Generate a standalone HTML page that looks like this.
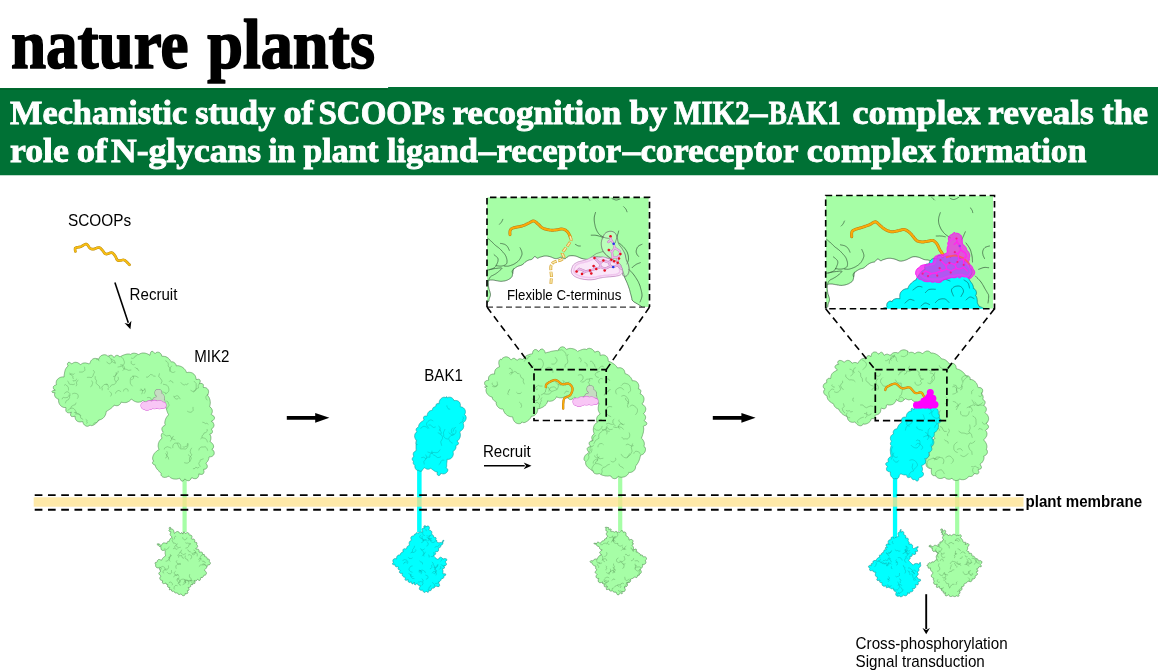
<!DOCTYPE html>
<html><head><meta charset="utf-8"><title>nature plants</title>
<style>
html,body{margin:0;padding:0;background:#fff;}
body{width:1158px;height:672px;overflow:hidden;position:relative;font-family:"Liberation Sans",sans-serif;}
svg{position:absolute;left:0;top:0;display:block;will-change:transform}
svg text{font-family:"Liberation Sans",sans-serif;fill:#000}
svg text.ser{font-family:"Liberation Serif",serif;font-weight:bold}
</style></head><body>
<svg width="1158" height="672" viewBox="0 0 1158 672">
<rect width="1158" height="672" fill="#fff"/>
<g font-size="70.500" style="stroke:#000;stroke-width:1.7px;stroke-linejoin:round"><text class="ser" x="11" y="67.600" textLength="177.5" lengthAdjust="spacingAndGlyphs">nature</text><text class="ser" x="207.2" y="67.600" textLength="167.8" lengthAdjust="spacingAndGlyphs">plants</text></g>
<path d="M0 88 H388.1 V86.9 H1158 V175.300 H0Z" fill="#007135"/><rect x="0" y="88.600" width="387.5" height="1.2" fill="#00622a"/>
<g style="fill:#fff;stroke:#fff;stroke-width:0.9px" font-size="34">
<text class="ser" x="10.0" y="123.5" textLength="177.3" lengthAdjust="spacingAndGlyphs" style="fill:#fff">Mechanistic</text>
<text class="ser" x="195.2" y="123.5" textLength="80.1" lengthAdjust="spacingAndGlyphs" style="fill:#fff">study</text>
<text class="ser" x="283.5" y="123.5" textLength="30.1" lengthAdjust="spacingAndGlyphs" style="fill:#fff">of</text>
<text class="ser" x="318.5" y="123.5" textLength="126.4" lengthAdjust="spacingAndGlyphs" style="fill:#fff">SCOOPs</text>
<text class="ser" x="452.4" y="123.5" textLength="168.9" lengthAdjust="spacingAndGlyphs" style="fill:#fff">recognition</text>
<text class="ser" x="629.5" y="123.5" textLength="37.6" lengthAdjust="spacingAndGlyphs" style="fill:#fff">by</text>
<text class="ser" x="674.0" y="123.5" textLength="75.6" lengthAdjust="spacingAndGlyphs" style="fill:#fff">MIK2</text>
<text class="ser" x="750.0" y="123.5" textLength="17.4" lengthAdjust="spacingAndGlyphs" style="fill:#fff">–</text>
<text class="ser" x="768.7" y="123.5" textLength="72.2" lengthAdjust="spacingAndGlyphs" style="fill:#fff">BAK1</text>
<text class="ser" x="852.5" y="123.5" textLength="128.1" lengthAdjust="spacingAndGlyphs" style="fill:#fff">complex</text>
<text class="ser" x="988.0" y="123.5" textLength="105.9" lengthAdjust="spacingAndGlyphs" style="fill:#fff">reveals</text>
<text class="ser" x="1102.2" y="123.5" textLength="45.9" lengthAdjust="spacingAndGlyphs" style="fill:#fff">the</text>
<text class="ser" x="10.0" y="162.2" textLength="58.9" lengthAdjust="spacingAndGlyphs" style="fill:#fff">role</text>
<text class="ser" x="76.7" y="162.2" textLength="30.6" lengthAdjust="spacingAndGlyphs" style="fill:#fff">of</text>
<text class="ser" x="111.0" y="162.2" textLength="150.1" lengthAdjust="spacingAndGlyphs" style="fill:#fff">N-glycans</text>
<text class="ser" x="268.5" y="162.2" textLength="26.8" lengthAdjust="spacingAndGlyphs" style="fill:#fff">in</text>
<text class="ser" x="303.5" y="162.2" textLength="75.1" lengthAdjust="spacingAndGlyphs" style="fill:#fff">plant</text>
<text class="ser" x="387.0" y="162.2" textLength="90.9" lengthAdjust="spacingAndGlyphs" style="fill:#fff">ligand</text>
<text class="ser" x="478.7" y="162.2" textLength="17.4" lengthAdjust="spacingAndGlyphs" style="fill:#fff">–</text>
<text class="ser" x="496.5" y="162.2" textLength="124.8" lengthAdjust="spacingAndGlyphs" style="fill:#fff">receptor</text>
<text class="ser" x="622.7" y="162.2" textLength="17.4" lengthAdjust="spacingAndGlyphs" style="fill:#fff">–</text>
<text class="ser" x="640.4" y="162.2" textLength="158.0" lengthAdjust="spacingAndGlyphs" style="fill:#fff">coreceptor</text>
<text class="ser" x="806.7" y="162.2" textLength="129.2" lengthAdjust="spacingAndGlyphs" style="fill:#fff">complex</text>
<text class="ser" x="942.5" y="162.2" textLength="143.9" lengthAdjust="spacingAndGlyphs" style="fill:#fff">formation</text>
</g>
<rect x="182.5" y="478.0" width="4.2" height="54.0" fill="#a6fea6" />
<path d="M55.3 390.2 L53.9 389.3 L53.4 388.4 L53.3 387.5 L53.4 386.7 L53.9 386.0 L54.6 385.4 L55.7 385.0 L56.5 384.6 L56.2 383.5 L56.2 382.6 L56.3 381.7 L56.5 380.9 L56.9 380.1 L57.4 379.4 L58.0 378.8 L58.7 378.3 L59.4 377.8 L60.1 377.5 L60.9 377.2 L61.8 377.0 L62.8 376.9 L64.1 377.0 L64.1 375.8 L64.2 374.8 L64.4 373.9 L64.5 373.1 L64.6 372.3 L64.8 371.6 L64.9 370.9 L65.2 370.2 L65.4 369.5 L65.8 368.7 L66.3 368.0 L66.8 367.2 L67.6 366.5 L68.2 365.9 L67.6 365.0 L67.4 364.2 L67.5 363.4 L68.0 362.7 L68.8 362.3 L69.7 362.4 L70.4 362.9 L71.2 363.6 L72.0 363.8 L72.8 363.2 L73.6 362.7 L74.5 362.4 L75.3 362.3 L76.1 362.3 L76.9 362.5 L77.7 362.7 L78.4 363.1 L79.2 363.6 L79.9 364.2 L80.7 364.6 L81.6 363.9 L82.4 363.4 L83.2 363.1 L84.0 363.0 L84.8 362.9 L85.6 362.9 L86.4 363.1 L87.2 363.3 L88.1 363.6 L89.2 364.0 L89.9 363.3 L90.3 362.2 L90.7 361.3 L91.1 360.6 L91.7 359.9 L92.3 359.4 L93.0 358.9 L93.8 358.6 L94.6 358.4 L95.5 358.4 L96.4 358.5 L97.5 358.7 L98.7 359.3 L99.0 358.2 L99.5 357.4 L100.0 356.7 L100.6 356.1 L101.3 355.6 L102.0 355.3 L102.8 355.0 L103.6 354.8 L104.5 354.7 L105.3 354.8 L106.1 355.0 L106.9 355.4 L107.6 356.0 L108.3 356.5 L109.2 355.7 L110.1 355.3 L110.9 355.2 L111.7 355.3 L112.5 355.7 L113.2 356.4 L114.0 357.5 L114.9 356.4 L115.7 355.7 L116.4 355.4 L117.2 355.3 L118.1 355.6 L119.0 356.2 L120.0 357.0 L120.7 356.4 L121.5 356.0 L122.2 355.6 L123.0 355.3 L123.7 355.0 L124.5 354.7 L125.2 354.5 L126.0 354.3 L126.8 354.1 L127.6 354.0 L128.3 354.0 L129.1 354.0 L129.9 354.2 L130.7 354.5 L131.4 353.9 L132.1 353.5 L132.9 353.3 L133.7 353.2 L134.5 353.2 L135.2 353.3 L136.0 353.5 L136.8 353.7 L137.5 354.1 L138.2 354.6 L139.0 354.4 L140.0 353.8 L140.9 353.4 L141.7 353.2 L142.5 353.0 L143.3 353.0 L144.1 353.0 L144.9 353.1 L145.7 353.3 L146.4 353.5 L147.2 353.8 L148.0 354.2 L148.9 354.6 L149.9 355.3 L150.3 353.6 L150.7 352.3 L151.3 351.5 L152.2 351.3 L153.2 351.7 L154.2 352.7 L155.0 353.6 L155.8 352.8 L156.6 352.4 L157.5 352.2 L158.3 352.2 L159.1 352.5 L159.9 352.8 L160.5 353.4 L161.1 354.1 L161.5 355.0 L161.8 356.2 L162.6 356.3 L163.5 356.3 L164.4 356.4 L165.2 356.5 L166.0 356.8 L166.7 357.1 L167.4 357.5 L168.1 358.0 L168.7 358.5 L169.3 359.1 L169.8 359.7 L170.3 360.5 L170.7 361.4 L171.3 361.8 L172.3 361.8 L173.1 362.0 L173.9 362.3 L174.5 362.8 L175.1 363.3 L175.6 364.0 L176.1 364.8 L176.3 365.9 L177.4 365.7 L178.3 365.7 L179.2 365.9 L180.0 366.1 L180.8 366.4 L181.5 366.7 L182.2 367.1 L182.9 367.6 L183.5 368.1 L184.1 368.6 L184.7 369.2 L185.2 369.9 L185.7 370.6 L186.1 371.4 L186.4 372.4 L187.3 372.5 L188.4 372.3 L189.4 372.3 L190.3 372.4 L191.2 372.6 L192.0 372.9 L192.7 373.2 L193.3 373.7 L194.0 374.2 L194.5 374.8 L195.0 375.5 L195.4 376.3 L195.7 377.2 L196.0 378.2 L196.0 379.4 L197.0 379.5 L198.3 379.2 L199.2 379.4 L199.9 379.9 L200.2 380.7 L200.2 381.8 L199.5 383.6 L200.9 383.4 L202.0 383.5 L202.7 383.9 L203.2 384.5 L203.4 385.4 L203.3 386.5 L203.4 387.5 L204.7 387.5 L205.7 387.7 L206.6 388.1 L207.3 388.7 L207.8 389.3 L208.2 390.0 L208.5 390.9 L208.6 391.7 L208.5 392.7 L208.2 393.7 L207.4 394.8 L207.6 395.5 L208.2 396.2 L208.7 396.8 L209.1 397.5 L209.4 398.3 L209.7 399.0 L209.9 399.8 L210.1 400.6 L210.2 401.4 L210.3 402.2 L210.3 403.0 L210.2 403.8 L210.1 404.6 L209.9 405.5 L209.6 406.3 L210.0 407.1 L210.9 407.7 L211.5 408.5 L211.9 409.2 L212.2 410.0 L212.3 410.8 L212.3 411.6 L212.2 412.4 L211.8 413.3 L211.2 414.2 L211.7 414.9 L213.0 415.5 L213.8 416.2 L214.3 417.0 L214.5 417.8 L214.4 418.6 L213.9 419.5 L213.1 420.4 L211.3 421.3 L212.6 422.0 L213.2 422.8 L213.6 423.6 L213.9 424.4 L214.0 425.2 L213.9 426.0 L213.6 426.8 L213.1 427.6 L212.5 428.3 L211.5 428.9 L211.7 429.7 L212.3 430.7 L212.5 431.5 L212.4 432.3 L211.9 433.1 L211.1 433.7 L209.7 434.2 L210.3 435.2 L210.7 436.1 L210.9 436.9 L210.9 437.8 L210.9 438.6 L210.8 439.4 L210.5 440.3 L210.1 441.2 L210.4 442.0 L211.4 442.6 L212.1 443.2 L212.7 443.9 L213.1 444.6 L213.4 445.3 L213.6 446.1 L213.6 447.0 L213.3 447.8 L212.8 448.7 L211.8 449.4 L213.1 450.2 L213.8 451.1 L214.1 452.1 L214.2 453.0 L214.1 453.9 L213.8 454.7 L213.3 455.4 L212.6 456.0 L211.8 456.5 L210.7 456.8 L209.2 456.9 L208.9 457.6 L208.8 458.5 L208.6 459.3 L208.3 460.1 L207.9 460.8 L207.5 461.5 L206.9 462.1 L206.3 462.8 L206.1 463.6 L206.9 464.8 L207.3 465.8 L207.3 466.7 L207.1 467.5 L206.7 468.2 L206.0 468.8 L205.0 469.2 L203.6 469.3 L203.7 470.2 L204.0 471.4 L203.9 472.4 L203.6 473.3 L203.0 473.9 L202.2 474.3 L201.2 474.4 L200.0 474.2 L198.8 473.9 L198.8 475.3 L198.5 476.3 L198.0 477.1 L197.5 477.8 L196.8 478.3 L196.0 478.6 L195.1 478.7 L194.2 478.6 L193.2 478.4 L192.1 477.7 L191.4 477.9 L190.9 479.0 L190.3 479.8 L189.6 480.4 L188.8 480.7 L187.9 480.7 L187.1 480.5 L186.2 480.1 L185.4 479.3 L184.6 479.1 L183.8 480.4 L182.9 481.0 L182.1 481.2 L181.3 480.8 L180.6 480.0 L180.0 478.5 L179.2 478.3 L178.4 478.7 L177.5 478.9 L176.6 479.1 L175.8 479.1 L175.0 479.1 L174.2 479.0 L173.4 478.9 L172.7 478.7 L171.9 478.4 L171.1 478.0 L170.4 477.6 L169.7 477.1 L169.0 476.4 L168.2 476.2 L167.3 476.8 L166.4 477.2 L165.6 477.3 L164.7 477.4 L163.9 477.3 L163.1 477.1 L162.3 476.7 L161.7 476.1 L161.2 475.4 L161.0 474.5 L161.3 473.5 L160.9 473.1 L160.1 472.5 L159.5 471.9 L159.0 471.2 L158.5 470.6 L157.9 470.0 L157.4 469.5 L156.9 468.9 L156.4 468.2 L156.0 467.5 L155.6 466.7 L155.3 465.8 L155.1 464.9 L154.2 464.8 L153.5 464.4 L153.0 464.0 L152.6 463.4 L152.5 462.7 L152.6 462.1 L153.0 461.5 L153.7 461.1 L152.9 460.0 L152.7 459.1 L152.6 458.1 L152.7 457.2 L152.9 456.4 L153.2 455.6 L153.5 454.9 L153.9 454.2 L154.3 453.5 L154.8 452.9 L155.3 452.4 L155.9 451.8 L156.5 451.2 L157.3 450.6 L158.2 450.1 L159.1 449.5 L158.6 448.5 L158.4 447.6 L158.2 446.7 L158.2 445.9 L158.2 445.1 L158.3 444.3 L158.4 443.5 L158.7 442.7 L159.0 441.9 L159.3 441.2 L159.8 440.5 L160.3 439.8 L161.0 439.1 L161.8 438.5 L161.8 437.6 L161.4 436.7 L161.2 435.9 L161.3 435.1 L161.5 434.3 L161.9 433.6 L162.5 432.9 L163.3 432.2 L162.4 431.2 L162.1 430.3 L161.9 429.5 L161.9 428.6 L162.1 427.9 L162.5 427.1 L163.0 426.5 L163.8 425.9 L164.8 425.5 L165.2 424.7 L164.9 423.8 L164.8 422.9 L164.9 422.0 L165.0 421.2 L165.2 420.4 L165.4 419.7 L165.7 418.9 L166.0 418.2 L166.4 417.5 L166.9 416.8 L167.4 416.0 L168.1 415.3 L168.5 414.5 L168.0 413.6 L167.6 412.7 L167.3 411.9 L167.0 411.1 L166.8 410.4 L166.6 409.6 L166.4 408.8 L166.1 408.1 L165.8 407.3 L165.4 406.6 L164.8 405.8 L164.1 405.0 L163.3 404.3 L162.3 404.7 L161.5 404.9 L160.6 405.1 L159.8 405.2 L159.0 405.2 L158.2 405.1 L157.4 404.9 L156.6 404.7 L155.9 404.3 L155.2 404.0 L154.5 403.5 L153.8 403.1 L153.1 402.5 L152.4 401.9 L151.8 401.1 L150.8 401.8 L149.8 402.2 L149.0 402.5 L148.2 402.7 L147.4 402.7 L146.6 402.7 L145.8 402.4 L145.0 402.1 L144.2 401.6 L143.5 400.8 L142.7 400.6 L141.8 401.2 L141.0 401.7 L140.2 402.0 L139.4 402.1 L138.5 402.2 L137.7 402.2 L136.9 402.1 L136.1 401.9 L135.4 401.6 L134.6 401.3 L133.9 400.9 L133.1 400.4 L132.3 399.7 L131.4 399.1 L130.6 400.0 L129.9 400.7 L129.1 401.2 L128.4 401.6 L127.7 402.0 L127.0 402.2 L126.2 402.5 L125.4 402.6 L124.6 402.6 L123.7 402.6 L122.8 402.5 L121.8 402.2 L121.0 402.3 L120.6 403.4 L120.0 404.1 L119.4 404.8 L118.8 405.2 L118.0 405.5 L117.2 405.7 L116.3 405.7 L115.3 405.5 L114.1 405.1 L113.7 405.9 L113.1 406.5 L112.5 407.1 L111.9 407.7 L111.2 408.2 L110.6 408.7 L109.9 409.2 L109.2 409.6 L108.5 410.1 L107.7 410.6 L107.0 411.1 L106.2 411.5 L106.1 412.5 L105.9 413.4 L105.7 414.2 L105.4 415.0 L105.0 415.7 L104.6 416.4 L104.2 417.0 L103.6 417.6 L103.1 418.2 L102.4 418.6 L101.7 419.1 L101.0 419.4 L100.2 419.7 L99.3 419.8 L98.6 420.1 L98.2 420.9 L97.7 421.6 L97.2 422.2 L96.6 422.8 L96.0 423.3 L95.4 423.8 L94.7 424.3 L94.1 424.8 L93.4 425.1 L92.6 425.4 L91.9 425.6 L91.2 425.6 L90.5 425.4 L90.0 424.9 L89.2 425.8 L88.4 426.1 L87.5 426.3 L86.6 426.2 L85.8 425.9 L85.1 425.5 L84.4 425.0 L83.9 424.4 L83.4 423.6 L83.0 422.7 L82.8 421.6 L81.8 421.7 L80.7 421.9 L79.7 421.9 L78.8 421.8 L78.0 421.5 L77.3 421.2 L76.6 420.7 L76.1 420.0 L75.6 419.3 L75.3 418.4 L75.1 417.4 L75.1 416.1 L73.9 416.4 L72.6 416.6 L71.7 416.5 L71.0 416.0 L70.6 415.2 L70.6 414.0 L71.3 412.1 L69.6 412.8 L68.5 412.8 L67.5 412.6 L66.8 412.2 L66.3 411.6 L65.9 410.8 L65.8 409.8 L65.9 408.6 L65.8 407.5 L64.6 407.5 L63.7 407.4 L62.8 407.1 L62.0 406.7 L61.3 406.2 L60.7 405.7 L60.1 405.1 L59.7 404.5 L59.3 403.8 L59.0 403.0 L58.7 402.1 L58.6 401.1 L58.7 400.0 L58.6 399.1 L57.6 398.9 L56.9 398.5 L56.2 398.0 L55.6 397.4 L55.2 396.8 L54.8 396.0 L54.6 395.3 L54.5 394.4 L54.7 393.6 L55.1 392.8 L52.5 392.5 L51.9 391.6 L52.5 390.8Z" fill="#a6fea6" stroke="#4f8a4f" stroke-width="0.6" stroke-linejoin="round"/>
<path d="M146.4 377.2 Q148.5 377.8 149.2 375.8 Q150.3 373.6 152.3 374.9 Q153.3 376.5 155.2 376.3 M174.6 396.7 L174.8 396.6 L175.2 396.5 L175.5 396.3 L175.9 396.1 L176.3 395.9 L176.6 395.8 L177.0 395.7 L177.5 395.8 L177.8 395.9 L178.2 396.1 L178.5 396.4 L178.7 396.8 L179.0 397.1 L179.2 397.3 L179.5 397.7 L179.7 398.1 L179.9 398.5 L180.0 398.8 M108.6 355.2 Q109.0 358.2 111.8 359.5 Q115.4 359.7 115.4 363.3 M193.6 392.1 Q197.1 390.5 196.2 386.8 Q197.3 383.2 194.2 381.2 M202.7 422.2 Q204.4 422.2 205.3 423.6 Q207.0 422.3 208.2 424.2 M102.2 390.0 L102.2 389.6 L102.2 389.0 L102.2 388.4 L102.0 387.9 L101.8 387.5 L101.8 387.0 L102.2 386.6 L102.7 386.1 L103.2 385.7 L103.5 385.3 L103.8 384.9 L104.1 384.6 L104.5 384.5 L105.1 384.5 L105.6 384.5 L106.1 384.6 L106.7 384.6 L107.1 384.7 M72.4 393.9 L72.7 393.7 L73.3 393.5 L73.8 393.3 L74.4 393.2 L74.9 393.3 L75.5 393.4 L76.1 393.5 L76.7 393.7 L77.2 394.0 L77.6 394.3 L77.9 394.7 L78.1 395.2 L78.2 395.7 L78.2 396.3 L78.2 396.9 L78.0 397.5 L77.6 398.0 L77.4 398.4 M144.8 388.5 L144.8 388.7 L144.9 389.0 L144.9 389.3 L145.0 389.6 L145.2 389.9 L145.3 390.2 L145.3 390.5 L145.3 390.7 L145.3 391.0 L145.3 391.3 L145.3 391.6 L145.2 391.8 L145.0 392.2 L144.7 392.5 L144.5 392.8 L144.3 393.0 L144.2 393.2 L144.2 393.3 M201.9 437.5 Q201.3 435.4 203.4 434.6 Q203.6 432.3 205.9 432.5 Q208.0 431.6 207.2 429.4 M132.3 386.0 L131.8 385.4 L131.1 384.6 L130.5 383.7 L130.3 382.9 L130.3 382.0 L130.3 381.2 L130.3 380.2 L130.4 379.2 L130.6 378.3 L131.1 377.6 L131.8 376.9 L132.6 376.5 L133.6 376.2 L134.7 376.1 L135.7 376.2 L136.6 376.5 L137.5 377.1 L138.1 377.4 M99.4 420.1 Q97.8 420.0 97.5 421.7 Q96.7 423.0 95.3 422.6 Q93.8 422.7 93.3 424.1 M133.0 375.9 L133.1 376.1 L133.3 376.3 L133.4 376.5 L133.4 376.8 L133.5 377.0 L133.5 377.3 L133.5 377.6 L133.5 377.8 L133.5 378.1 L133.4 378.3 L133.3 378.5 L133.1 378.7 L132.9 378.9 L132.6 379.1 L132.4 379.3 L132.1 379.4 L131.8 379.5 L131.6 379.6 M123.5 391.1 L123.6 390.8 L123.7 390.4 L123.9 390.0 L124.1 389.6 L124.4 389.3 L124.7 389.0 L125.0 388.9 L125.4 388.8 L125.8 388.8 L126.3 388.8 L126.7 388.9 L127.1 389.0 L127.4 389.2 L127.7 389.5 L128.0 389.8 L128.1 390.3 L128.1 390.7 L128.1 391.1 M188.2 383.4 L187.9 383.8 L187.3 384.3 L186.8 384.7 L186.4 384.6 L186.0 384.4 L185.6 384.3 L185.2 384.5 L184.8 384.8 L184.3 385.0 L183.8 384.9 L183.3 384.6 L182.8 384.4 L182.5 384.1 L182.1 383.9 L181.8 383.6 L181.5 383.3 L181.2 382.9 L181.0 382.6 M172.8 447.7 L172.8 447.1 L172.8 446.2 L173.0 445.4 L173.4 444.6 L173.9 443.9 L174.5 443.4 L175.2 443.2 L175.9 443.1 L176.7 443.1 L177.5 443.1 L178.4 443.1 L179.1 443.3 L179.7 443.8 L180.2 444.5 L180.6 445.3 L180.7 446.2 L180.8 447.1 L180.8 447.7 M69.8 374.1 Q71.1 374.0 71.5 375.3 Q72.6 375.6 73.0 376.7 Q72.3 377.9 73.3 378.8 M74.3 373.8 L74.1 374.0 L73.8 374.2 L73.6 374.3 L73.3 374.3 L73.0 374.3 L72.8 374.2 L72.5 374.2 L72.2 374.1 L71.9 374.1 L71.7 374.0 L71.4 374.0 L71.1 374.0 L70.9 374.0 L70.7 374.0 L70.5 373.9 L70.2 373.7 L70.1 373.4 L69.9 373.2 M199.1 383.8 Q197.4 385.7 198.5 388.0 Q195.9 388.1 195.1 390.5 Q193.0 392.8 190.8 390.5 M70.6 408.0 Q71.1 405.9 73.2 405.3 Q75.7 405.5 76.1 403.0 M84.5 367.1 L84.6 367.4 L84.6 368.0 L84.7 368.6 L84.8 369.1 L84.9 369.7 L84.9 370.2 L84.7 370.5 L84.3 370.9 L83.9 371.2 L83.4 371.5 L82.9 371.8 L82.4 372.0 L81.9 372.1 L81.4 372.1 L81.0 372.1 L80.4 372.1 L79.8 372.1 L79.4 372.0 M80.9 415.7 Q80.0 413.6 77.7 413.8 Q76.6 411.6 74.3 412.4 M109.9 391.8 L110.1 391.9 L110.3 392.1 L110.6 392.4 L110.8 392.6 L111.1 392.9 L111.3 393.2 L111.4 393.4 L111.4 393.7 L111.4 393.9 L111.4 394.2 L111.5 394.5 L111.5 394.7 L111.4 395.0 L111.2 395.2 L111.1 395.5 L110.8 395.8 L110.6 396.1 L110.4 396.3 M147.3 397.7 L147.6 397.6 L148.0 397.5 L148.5 397.4 L148.8 397.5 L149.2 397.5 L149.6 397.6 L149.9 397.6 L150.2 397.7 L150.5 397.8 L150.7 398.1 L150.8 398.4 L150.9 398.7 L151.0 399.1 L151.2 399.4 L151.3 399.8 L151.2 400.2 L151.2 400.6 L151.1 400.8 M169.3 381.4 L169.4 381.3 L169.7 381.1 L169.9 380.9 L170.2 380.8 L170.4 380.8 L170.7 380.8 L171.0 380.9 L171.2 381.1 L171.5 381.3 L171.7 381.3 L171.9 381.4 L172.0 381.5 L172.2 381.7 L172.5 381.8 L172.6 382.0 L172.8 382.3 L172.8 382.6 L172.9 382.8 M93.2 370.3 L93.6 370.7 L94.2 371.4 L94.5 372.1 L94.3 372.7 L93.9 373.4 L93.5 374.0 L93.3 374.8 L93.1 375.5 L92.8 376.1 L92.4 376.7 L91.9 377.2 L91.4 377.5 L90.8 377.5 L90.1 377.4 L89.3 377.3 L88.6 377.3 L87.8 377.3 L87.3 377.4 M200.7 438.8 L201.1 438.5 L201.6 438.1 L202.1 437.9 L202.6 437.8 L203.1 437.9 L203.6 438.0 L204.1 438.1 L204.5 438.2 L204.9 438.4 L205.5 438.7 L206.0 439.1 L206.4 439.5 L206.6 439.8 L206.7 440.1 L206.9 440.4 L207.1 441.0 L207.3 441.6 L207.5 442.0 M134.8 364.3 L134.5 364.4 L134.2 364.6 L133.8 364.7 L133.5 364.7 L133.1 364.7 L132.8 364.6 L132.5 364.4 L132.1 364.2 L131.9 364.0 L131.6 363.8 L131.4 363.5 L131.2 363.2 L131.2 363.0 L131.2 362.6 L131.2 362.3 L131.3 361.9 L131.3 361.5 L131.3 361.3 M76.5 379.1 L76.4 379.3 L76.3 379.5 L76.2 379.8 L76.0 380.0 L75.9 380.3 L75.7 380.5 L75.5 380.6 L75.2 380.6 L75.0 380.6 L74.7 380.7 L74.5 380.7 L74.2 380.8 L74.0 380.8 L73.8 380.9 L73.5 380.9 L73.3 380.8 L73.0 380.6 L72.9 380.4 M96.5 359.6 L96.7 359.5 L96.8 359.4 L97.0 359.4 L97.2 359.4 L97.5 359.4 L97.6 359.5 L97.8 359.5 L98.0 359.7 L98.2 359.8 L98.3 359.8 L98.5 359.9 L98.7 360.0 L98.7 360.1 L98.8 360.3 L98.8 360.5 L99.0 360.7 L99.1 360.9 L99.2 361.0 M207.2 399.9 L206.9 399.8 L206.5 399.5 L206.2 399.2 L206.1 398.9 L206.1 398.5 L206.0 398.1 L205.9 397.7 L205.9 397.2 L205.9 396.8 L206.0 396.4 L206.2 396.1 L206.5 395.8 L206.8 395.4 L207.1 395.0 L207.4 394.7 L207.9 394.6 L208.4 394.7 L208.7 394.8 M137.4 354.9 Q136.7 356.3 135.2 356.0 Q135.1 357.4 133.8 357.9 Q132.7 358.9 131.4 358.2 M188.1 443.8 L188.1 444.6 L187.9 445.7 L187.7 446.7 L187.2 447.6 L186.6 448.4 L185.9 448.9 L185.0 449.1 L184.0 448.9 L183.0 448.8 L182.0 448.9 L181.0 448.9 L180.1 448.7 L179.5 448.0 L178.9 447.0 L178.5 446.1 L178.0 445.1 L177.6 444.1 L177.3 443.5 M161.2 383.6 Q163.5 380.8 160.6 378.6 Q157.3 376.8 159.3 373.7 M164.3 449.1 L164.4 448.7 L164.6 448.3 L164.8 447.9 L165.1 447.7 L165.4 447.6 L165.8 447.4 L166.3 447.2 L166.8 446.9 L167.3 446.7 L167.7 446.8 L168.2 447.0 L168.6 447.1 L169.1 447.2 L169.5 447.4 L169.9 447.5 L170.3 447.7 L170.7 448.0 L170.9 448.1 M191.6 448.1 Q188.5 451.7 192.0 454.9 Q188.3 457.2 189.8 461.3 M91.8 380.9 L91.9 381.1 L92.1 381.4 L92.2 381.7 L92.4 382.0 L92.6 382.4 L92.7 382.8 L92.7 383.1 L92.5 383.5 L92.4 383.9 L92.3 384.2 L92.2 384.6 L92.0 385.0 L91.9 385.3 L91.8 385.7 L91.6 386.1 L91.3 386.3 L90.9 386.5 L90.6 386.7 M141.0 389.1 L141.2 389.2 L141.4 389.3 L141.7 389.5 L141.9 389.7 L142.2 389.9 L142.5 390.2 L142.5 390.5 L142.5 390.8 L142.5 391.1 L142.5 391.4 L142.5 391.7 L142.4 392.0 L142.4 392.3 L142.3 392.5 L142.2 392.8 L142.1 393.1 L141.9 393.5 L141.8 393.8 M121.2 356.8 L121.7 357.2 L122.3 357.7 L122.9 358.4 L123.3 359.1 L123.6 359.8 L123.9 360.6 L124.2 361.3 L124.4 362.1 L124.4 362.9 L124.1 363.8 L123.6 364.7 L123.0 365.4 L122.3 365.9 L121.4 366.2 L120.6 366.5 L119.6 366.7 L118.7 366.9 L118.0 367.0 M64.4 385.2 L64.7 385.0 L65.1 384.7 L65.5 384.6 L65.9 384.9 L66.4 385.3 L66.8 385.8 L67.2 386.1 L67.7 386.4 L68.0 386.7 L68.2 387.0 L68.3 387.3 L68.3 387.6 L68.4 388.0 L68.4 388.4 L68.5 388.8 L68.5 389.3 L68.5 389.8 L68.5 390.1 M163.3 434.1 Q166.1 437.3 170.0 435.4 Q170.7 439.6 175.0 439.9 M69.0 395.1 Q70.6 397.6 68.5 399.6 Q65.6 400.1 65.3 403.0 M163.4 384.3 L164.1 384.4 L165.0 384.6 L165.9 384.8 L166.6 385.1 L167.2 385.5 L167.7 386.0 L168.1 386.6 L168.4 387.4 L168.7 388.1 L168.8 389.0 L168.9 389.9 L168.8 390.7 L168.5 391.4 L168.1 392.0 L167.6 392.5 L166.9 393.1 L166.0 393.5 L165.4 393.8 M64.5 393.4 L64.8 393.2 L65.1 392.8 L65.5 392.4 L66.0 392.2 L66.4 391.9 L66.9 391.8 L67.3 391.8 L67.8 391.9 L68.2 392.1 L68.7 392.4 L69.2 392.9 L69.6 393.3 L69.8 393.6 L69.9 394.0 L69.9 394.3 L69.9 394.8 L69.9 395.4 L69.9 395.8 M86.0 419.4 L86.2 419.5 L86.5 419.8 L86.7 420.1 L86.8 420.3 L87.0 420.5 L87.0 420.7 L87.0 420.9 L86.9 421.2 L86.8 421.4 L86.8 421.6 L87.0 421.8 L87.1 422.1 L87.1 422.3 L87.2 422.6 L87.2 422.8 L87.1 423.1 L86.8 423.3 L86.7 423.4 M140.1 390.1 Q141.5 389.7 142.6 390.6 Q144.1 390.7 144.8 389.4 M82.8 419.4 Q79.8 418.6 80.3 415.6 Q79.0 413.4 76.3 413.7 M188.3 454.8 L188.7 455.1 L189.3 455.5 L189.8 456.0 L190.4 456.6 L191.0 457.4 L191.3 458.1 L191.1 458.9 L190.7 459.7 L190.2 460.5 L189.8 461.1 L189.4 461.7 L188.9 462.3 L188.3 462.7 L187.6 463.0 L186.9 463.1 L186.0 463.1 L185.1 462.9 L184.5 462.7 M135.1 367.5 Q135.9 368.9 137.4 368.5 Q137.3 370.1 138.9 370.6 M110.2 386.7 Q111.2 383.9 114.0 384.6 Q116.2 383.5 116.5 381.1 Q119.4 380.0 118.1 377.1 M122.4 366.7 Q123.1 369.8 126.3 369.3 Q128.3 371.0 130.9 370.1 M67.9 410.2 L68.5 409.8 L69.2 409.3 L69.9 408.8 L70.5 408.5 L71.1 408.3 L71.7 408.2 L72.3 408.2 L72.9 408.3 L73.5 408.5 L74.1 409.0 L74.7 409.6 L75.1 410.2 L75.5 410.8 L75.8 411.4 L76.0 412.0 L76.0 412.8 L75.9 413.6 L75.8 414.2 M115.6 393.2 L115.7 392.9 L115.8 392.5 L115.9 392.2 L116.2 391.9 L116.5 391.6 L116.8 391.4 L117.1 391.1 L117.5 390.9 L117.8 390.7 L118.2 390.6 L118.5 390.5 L118.8 390.5 L119.1 390.5 L119.4 390.7 L119.7 390.9 L120.1 391.1 L120.5 391.4 L120.8 391.6 M76.3 385.9 Q77.4 384.4 76.4 382.9 Q76.4 381.1 78.0 380.3 M198.9 450.0 L199.0 449.5 L199.2 448.7 L199.6 448.1 L200.2 447.6 L200.9 447.3 L201.6 447.0 L202.3 447.0 L203.0 447.0 L203.6 447.0 L204.3 446.9 L204.9 446.8 L205.5 446.9 L206.1 447.4 L206.6 448.0 L207.0 448.7 L207.3 449.3 L207.5 449.9 L207.6 450.3 M95.1 376.6 Q94.6 379.0 96.5 380.7 Q94.9 383.4 97.7 384.9 Q100.1 385.9 100.1 388.5 M113.5 376.5 Q115.0 376.6 115.6 375.3 Q115.7 373.8 117.2 373.4 Q118.8 372.7 118.2 371.2 M193.3 468.8 Q195.3 469.1 195.9 467.1 Q197.2 468.9 198.9 467.5 M120.5 364.9 L120.9 364.8 L121.4 364.8 L121.9 364.9 L122.4 365.0 L122.9 365.2 L123.3 365.5 L123.6 365.8 L123.8 366.1 L124.0 366.5 L124.3 367.0 L124.5 367.5 L124.6 368.0 L124.5 368.4 L124.3 368.9 L124.0 369.3 L123.7 369.7 L123.2 370.2 L122.9 370.5 M160.4 397.2 L160.1 396.9 L159.7 396.3 L159.5 395.8 L159.6 395.3 L159.9 394.7 L160.2 394.2 L160.4 393.6 L160.7 393.1 L161.1 392.7 L161.6 392.4 L162.2 392.1 L162.8 392.0 L163.4 392.1 L163.9 392.4 L164.5 392.6 L165.0 392.9 L165.6 393.1 L165.9 393.3 M115.0 362.7 L114.8 362.7 L114.4 362.8 L114.1 362.8 L113.8 362.7 L113.5 362.5 L113.2 362.3 L112.8 362.1 L112.4 361.8 L112.1 361.5 L111.9 361.3 L111.8 361.1 L111.7 360.9 L111.5 360.6 L111.3 360.4 L111.2 360.1 L111.2 359.7 L111.3 359.3 L111.4 359.1 M165.7 360.8 Q169.2 362.3 168.1 366.0 Q171.3 367.9 170.1 371.4 M178.4 398.0 L178.2 398.2 L177.9 398.6 L177.6 398.8 L177.3 399.0 L176.9 399.0 L176.5 399.0 L176.2 399.0 L175.8 398.9 L175.4 398.7 L175.2 398.4 L174.9 398.1 L174.7 397.8 L174.5 397.6 L174.3 397.5 L174.1 397.3 L174.0 396.9 L173.9 396.5 L173.8 396.2 M111.7 361.7 L111.6 361.9 L111.5 362.2 L111.4 362.6 L111.1 362.8 L110.8 363.1 L110.4 363.3 L110.1 363.5 L109.8 363.7 L109.4 363.8 L109.1 363.7 L108.7 363.5 L108.4 363.4 L108.1 363.3 L107.9 363.2 L107.7 363.1 L107.4 362.7 L107.2 362.3 L107.0 362.0 M116.3 372.5 Q116.8 375.1 114.9 376.8 Q113.8 379.2 115.3 381.3 M165.7 453.7 L165.9 453.8 L166.2 454.1 L166.4 454.4 L166.6 454.6 L166.7 454.8 L166.8 455.0 L166.9 455.3 L166.9 455.6 L166.9 455.9 L166.9 456.3 L166.9 456.6 L166.9 456.9 L166.7 457.1 L166.5 457.3 L166.2 457.5 L165.9 457.7 L165.6 458.0 L165.4 458.1 M166.6 401.2 L167.0 401.4 L167.5 401.6 L168.0 402.0 L168.2 402.4 L168.3 403.0 L168.4 403.6 L168.7 404.1 L169.0 404.5 L169.2 405.0 L169.0 405.5 L168.6 406.0 L168.3 406.5 L168.1 406.8 L167.9 407.2 L167.7 407.6 L167.3 408.1 L166.9 408.7 L166.6 409.1 M193.0 407.3 L193.0 407.6 L193.0 408.2 L193.0 408.7 L193.1 409.3 L193.2 409.9 L193.1 410.5 L192.8 410.9 L192.3 411.4 L191.9 411.7 L191.4 412.0 L190.9 412.2 L190.4 412.3 L189.8 412.2 L189.1 412.1 L188.6 411.9 L188.1 411.7 L187.8 411.5 L187.5 411.3 M68.3 396.6 Q67.7 398.1 66.1 397.6 Q64.9 398.3 63.8 397.3 Q62.3 397.4 62.1 398.9 M170.5 441.0 Q170.7 439.9 171.7 439.5 Q171.3 438.4 172.0 437.6 Q173.3 437.6 173.4 436.3 M74.6 384.0 L74.3 384.2 L73.8 384.4 L73.4 384.6 L72.9 384.6 L72.4 384.5 L72.0 384.4 L71.5 384.4 L71.1 384.4 L70.6 384.4 L70.1 384.3 L69.6 384.1 L69.2 383.9 L69.0 383.6 L68.8 383.2 L68.7 382.7 L68.4 382.2 L68.0 381.5 L67.8 381.1 M106.0 384.0 Q107.7 383.6 108.0 385.2 Q107.9 386.6 109.0 387.4 Q107.7 388.2 108.1 389.6 M174.9 371.8 L174.4 372.0 L173.8 372.3 L173.2 372.5 L172.7 372.5 L172.2 372.3 L171.6 372.1 L171.1 371.8 L170.6 371.3 L170.2 370.9 L170.0 370.3 L169.8 369.7 L169.7 369.2 L169.8 368.6 L170.1 368.1 L170.4 367.6 L170.8 367.0 L171.2 366.5 L171.5 366.1 M187.5 443.7 L187.5 444.0 L187.4 444.3 L187.3 444.7 L187.3 444.9 L187.3 445.2 L187.2 445.5 L187.0 445.8 L186.7 446.3 L186.3 446.5 L186.0 446.6 L185.7 446.5 L185.3 446.6 L185.0 446.8 L184.6 447.0 L184.2 447.2 L183.8 447.2 L183.4 447.0 L183.1 446.9 M168.7 459.1 Q168.8 456.6 166.6 455.5 Q168.3 453.6 167.0 451.5 M200.1 466.3 L199.9 465.9 L199.6 465.4 L199.3 464.9 L199.1 464.4 L198.9 463.8 L198.8 463.3 L199.1 462.7 L199.6 462.1 L199.9 461.6 L200.0 461.1 L199.9 460.7 L200.0 460.4 L200.5 460.0 L201.2 459.7 L201.8 459.4 L202.4 459.2 L202.8 459.0 L203.2 458.9" fill="none" stroke="#4f8a4f" stroke-width="0.5" stroke-linecap="round" opacity="0.7"/>
<path d="M170.7 529.5 L171.7 528.8 L172.5 529.1 L173.1 529.7 L173.6 530.4 L173.8 531.1 L174.0 532.1 L174.3 533.4 L175.7 532.3 L176.6 531.7 L177.4 531.5 L178.1 531.6 L178.9 532.1 L179.7 533.0 L180.4 533.9 L181.3 532.7 L182.1 532.8 L182.9 534.1 L183.5 532.0 L184.3 531.9 L185.3 533.5 L186.1 533.3 L186.8 532.7 L187.6 532.6 L188.4 532.9 L188.9 533.5 L188.9 534.5 L189.5 534.9 L190.9 535.1 L191.7 535.7 L192.0 536.4 L191.9 537.3 L191.4 538.5 L191.8 539.2 L193.2 539.0 L194.0 539.1 L194.6 539.7 L194.8 540.6 L194.6 542.1 L195.5 542.3 L196.5 542.4 L197.0 543.1 L196.6 544.2 L196.8 544.8 L197.5 545.6 L197.7 546.4 L197.3 547.2 L196.6 547.9 L195.7 548.8 L197.5 549.2 L198.4 549.3 L198.8 549.7 L199.1 550.6 L199.0 552.1 L199.9 552.2 L201.0 551.9 L201.8 552.1 L202.4 552.7 L202.6 553.9 L203.0 554.7 L204.2 554.4 L204.7 555.0 L204.6 556.5 L205.4 556.7 L206.3 556.9 L206.9 557.4 L207.2 558.2 L207.3 559.2 L208.6 559.1 L209.3 559.5 L209.5 560.3 L209.1 561.2 L209.6 561.7 L210.3 562.7 L210.4 563.6 L209.9 564.4 L209.1 564.9 L207.8 565.0 L207.2 565.5 L207.1 566.4 L206.8 567.2 L206.4 567.9 L205.9 568.6 L205.3 569.2 L204.5 569.9 L205.0 570.9 L205.9 571.8 L206.4 572.7 L206.4 573.5 L206.1 574.4 L205.3 575.1 L203.9 575.3 L203.5 575.8 L203.3 576.7 L202.8 577.3 L202.0 577.5 L201.0 577.4 L200.6 578.3 L200.4 579.7 L199.9 580.4 L198.9 580.3 L197.6 579.4 L196.9 579.9 L196.4 580.7 L195.7 581.0 L194.5 580.8 L195.0 582.7 L194.7 583.6 L193.1 582.9 L192.9 583.9 L192.7 584.7 L191.1 584.4 L190.8 585.2 L190.8 586.2 L190.4 586.9 L189.6 587.3 L188.1 587.5 L188.9 588.8 L189.1 589.7 L188.6 590.4 L187.3 590.7 L187.6 591.7 L187.9 592.8 L187.4 593.5 L186.4 593.7 L185.2 593.5 L185.1 594.6 L184.5 595.4 L183.7 595.7 L182.8 595.6 L182.0 595.1 L181.3 594.2 L180.6 594.1 L179.7 594.5 L178.9 594.5 L178.1 594.1 L177.6 593.2 L176.9 592.8 L176.0 593.1 L175.2 592.9 L174.6 592.5 L174.2 591.7 L173.7 591.1 L172.3 591.5 L171.6 591.0 L171.6 589.9 L170.8 589.6 L169.3 589.8 L169.5 588.6 L169.7 587.4 L168.4 587.4 L167.8 587.0 L167.6 586.0 L167.8 584.5 L166.8 584.5 L166.1 584.0 L165.9 583.0 L164.5 583.5 L163.3 583.6 L162.6 583.2 L162.3 582.3 L162.7 580.8 L162.0 580.4 L160.9 580.2 L160.2 579.6 L159.8 578.8 L159.8 577.9 L160.2 577.0 L161.0 576.1 L160.4 575.3 L159.3 574.6 L158.8 573.8 L158.9 573.0 L159.5 572.2 L160.9 571.2 L160.2 570.5 L159.7 569.7 L159.6 568.8 L159.4 567.9 L158.0 567.9 L157.1 567.8 L156.4 567.4 L155.9 566.8 L155.6 565.9 L155.7 564.6 L155.6 563.9 L155.0 563.6 L154.8 563.1 L155.1 562.7 L155.7 562.4 L156.5 562.4 L157.1 561.9 L157.4 560.6 L158.0 559.9 L158.7 559.5 L159.5 559.5 L160.6 559.9 L161.7 560.2 L162.1 559.2 L162.6 558.4 L163.1 557.8 L163.7 557.2 L164.4 556.7 L165.3 556.2 L165.5 555.3 L165.3 554.3 L165.1 553.4 L165.1 552.6 L165.2 551.7 L165.3 550.6 L164.3 550.2 L163.0 550.4 L162.1 550.3 L161.5 549.9 L161.1 549.1 L160.9 547.9 L160.9 546.5 L159.9 546.6 L159.1 546.3 L158.6 545.7 L158.6 544.6 L157.5 544.9 L156.9 544.3 L157.7 543.8 L158.6 543.8 L159.4 544.1 L160.2 544.6 L161.0 545.7 L161.8 544.5 L162.5 543.6 L163.1 543.1 L163.7 542.9 L164.4 542.9 L165.4 543.1 L166.9 543.7 L167.0 542.5 L167.5 541.7 L168.4 541.5 L169.3 541.3 L169.4 540.3 L169.8 539.5 L170.2 538.8 L170.8 538.3 L171.7 537.8 L171.9 536.9 L170.9 535.8 L170.3 535.2 L170.1 534.7 L170.2 533.9 L170.7 532.7 L170.8 531.7 L169.6 531.5 L169.0 530.9 L168.9 530.1 L169.6 529.5 L169.2 528.6 L169.4 527.4 L170.6 527.4Z" fill="#a6fea6" stroke="#4f8a4f" stroke-width="0.6" stroke-linejoin="round"/>
<path d="M160.4 567.5 L160.6 567.4 L160.9 567.1 L161.3 566.9 L161.5 566.8 L161.7 566.7 L162.0 566.6 L162.3 566.5 L162.7 566.4 L163.0 566.4 L163.3 566.6 L163.6 566.8 L163.8 567.0 L164.1 567.1 L164.3 567.2 L164.5 567.4 L164.7 567.7 L165.0 568.0 L165.2 568.3 M180.4 563.5 L180.1 563.5 L179.8 563.6 L179.4 563.7 L179.1 563.8 L178.7 563.9 L178.4 564.0 L178.1 563.9 L177.8 563.7 L177.5 563.5 L177.2 563.3 L177.0 563.0 L176.8 562.6 L176.6 562.3 L176.4 562.0 L176.3 561.7 L176.4 561.3 L176.7 560.9 L176.8 560.7 M188.3 555.0 L188.6 554.9 L189.1 554.7 L189.5 554.6 L189.9 554.7 L190.2 554.8 L190.6 555.0 L190.9 555.3 L191.3 555.6 L191.5 555.9 L191.6 556.2 L191.6 556.6 L191.6 557.0 L191.6 557.4 L191.5 557.9 L191.4 558.2 L191.1 558.5 L190.8 558.8 L190.5 558.9 M174.5 538.8 L174.5 538.6 L174.5 538.4 L174.5 538.3 L174.4 538.1 L174.4 537.9 L174.4 537.7 L174.5 537.6 L174.5 537.4 L174.6 537.3 L174.7 537.1 L174.7 536.9 L174.8 536.7 L174.9 536.6 L175.1 536.5 L175.3 536.4 L175.5 536.4 L175.6 536.4 L175.8 536.5 M170.4 554.5 L170.4 554.7 L170.4 554.9 L170.5 555.1 L170.5 555.3 L170.5 555.5 L170.4 555.7 L170.4 555.9 L170.3 556.1 L170.2 556.2 L170.2 556.4 L170.1 556.7 L170.0 556.9 L169.8 557.0 L169.6 557.2 L169.4 557.3 L169.2 557.4 L168.9 557.4 L168.7 557.4 M173.9 576.9 L174.0 576.6 L174.1 576.2 L174.4 575.9 L174.7 575.5 L175.0 575.2 L175.4 575.0 L175.7 575.0 L175.9 575.0 L176.3 575.1 L176.6 574.9 L177.1 574.7 L177.4 574.6 L177.7 574.8 L178.0 575.2 L178.2 575.5 L178.6 575.8 L178.9 576.0 L179.1 576.2 M180.3 547.3 L180.1 547.3 L179.9 547.4 L179.7 547.4 L179.5 547.5 L179.2 547.7 L179.0 547.8 L178.7 547.8 L178.4 547.7 L178.2 547.6 L178.0 547.5 L177.8 547.4 L177.7 547.2 L177.4 547.1 L177.2 546.9 L177.0 546.7 L176.8 546.4 L176.7 546.1 L176.6 545.9 M202.6 554.6 Q200.4 555.3 200.2 557.6 Q200.9 559.8 199.3 561.4 M195.1 552.2 L194.9 552.3 L194.7 552.4 L194.5 552.6 L194.4 552.8 L194.4 553.0 L194.3 553.1 L194.1 553.2 L193.9 553.2 L193.6 553.2 L193.4 553.2 L193.2 553.1 L193.0 553.1 L192.7 553.2 L192.5 553.4 L192.3 553.5 L192.1 553.4 L191.9 553.2 L191.7 553.1 M179.3 553.4 Q179.4 551.8 180.9 551.9 Q180.7 550.6 181.8 549.9 M192.2 583.1 Q189.8 581.3 191.3 578.7 Q188.5 577.5 189.6 574.6 M179.9 582.2 L179.9 581.7 L179.9 581.0 L180.1 580.4 L180.4 580.0 L180.8 579.7 L181.3 579.5 L181.9 579.3 L182.5 579.2 L183.1 579.1 L183.6 579.2 L184.1 579.3 L184.6 579.5 L184.9 579.9 L185.2 580.5 L185.4 581.0 L185.5 581.6 L185.6 582.2 L185.6 582.7 M202.0 561.0 Q203.0 561.9 204.0 561.1 Q204.1 562.4 205.4 562.7 M183.8 582.9 Q184.1 580.0 187.1 580.2 Q189.1 582.2 191.4 580.4 M174.8 547.4 Q174.4 546.0 175.6 545.3 Q177.1 545.3 177.3 543.8 M172.6 538.2 Q173.6 539.9 171.9 540.9 Q173.3 541.6 173.4 543.2 Q175.1 542.6 176.1 544.0 M186.9 537.9 L186.8 538.2 L186.6 538.6 L186.4 539.0 L186.2 539.2 L185.9 539.5 L185.6 539.6 L185.2 539.7 L184.9 539.8 L184.5 539.8 L184.2 539.7 L183.9 539.5 L183.6 539.3 L183.4 539.1 L183.2 538.9 L183.0 538.6 L182.9 538.2 L182.8 537.9 L182.7 537.6 M185.8 548.2 Q187.8 548.2 188.6 546.4 Q188.4 544.1 190.6 543.7 M168.8 582.9 L169.0 582.7 L169.3 582.5 L169.6 582.3 L169.9 582.2 L170.3 582.1 L170.6 582.1 L170.9 582.2 L171.2 582.3 L171.5 582.5 L171.7 582.7 L171.9 583.0 L172.1 583.3 L172.3 583.6 L172.5 583.8 L172.6 584.1 L172.5 584.4 L172.4 584.7 L172.2 585.0 M206.8 566.3 Q205.6 563.6 203.0 564.9 Q200.5 564.1 199.1 566.3 M177.4 578.9 L177.7 578.9 L178.1 578.9 L178.5 579.0 L178.8 579.2 L178.9 579.5 L179.1 579.8 L179.4 580.1 L179.7 580.5 L179.9 580.8 L179.9 581.2 L179.8 581.6 L179.7 581.9 L179.5 582.2 L179.2 582.4 L179.0 582.7 L178.6 583.0 L178.3 583.2 L178.0 583.4 M168.4 565.8 L168.4 566.1 L168.5 566.5 L168.5 566.9 L168.6 567.3 L168.6 567.7 L168.5 568.1 L168.3 568.4 L168.0 568.8 L167.6 569.0 L167.3 569.2 L167.0 569.2 L166.6 569.2 L166.2 569.3 L165.7 569.3 L165.3 569.3 L165.0 569.2 L164.7 569.0 L164.5 568.9 M178.0 574.4 L177.8 574.7 L177.5 575.0 L177.1 575.2 L176.8 575.3 L176.3 575.4 L175.9 575.4 L175.6 575.2 L175.2 574.9 L174.9 574.5 L174.6 574.2 L174.4 573.9 L174.3 573.5 L174.3 573.1 L174.3 572.7 L174.4 572.3 L174.6 572.0 L174.9 571.7 L175.2 571.5 M194.7 552.7 L194.9 552.7 L195.2 552.5 L195.6 552.5 L195.8 552.6 L196.0 552.8 L196.3 553.0 L196.6 553.1 L196.9 553.3 L197.1 553.4 L197.3 553.7 L197.4 554.0 L197.4 554.3 L197.4 554.6 L197.3 554.9 L197.3 555.2 L197.2 555.5 L197.2 555.7 L197.2 556.0 M177.9 555.3 L178.0 555.3 L178.1 555.5 L178.1 555.6 L178.2 555.7 L178.3 555.8 L178.4 555.9 L178.6 556.0 L178.8 556.1 L178.9 556.2 L178.8 556.3 L178.7 556.4 L178.7 556.6 L178.8 556.7 L178.9 556.8 L179.0 557.0 L178.9 557.1 L178.8 557.3 L178.7 557.4 M170.0 561.1 L169.8 560.8 L169.5 560.5 L169.2 560.1 L169.1 559.8 L169.1 559.4 L169.1 559.0 L169.1 558.7 L169.1 558.3 L169.2 557.9 L169.4 557.6 L169.7 557.3 L169.9 557.0 L170.1 556.6 L170.3 556.2 L170.6 555.8 L170.9 555.7 L171.3 555.6 L171.5 555.6 M178.2 581.8 L178.0 581.7 L177.7 581.4 L177.4 581.2 L177.3 580.9 L177.2 580.7 L177.2 580.5 L177.1 580.1 L177.1 579.8 L177.1 579.5 L177.2 579.3 L177.3 579.0 L177.5 578.8 L177.7 578.6 L177.9 578.4 L178.2 578.2 L178.5 578.1 L178.8 578.1 L179.0 578.1 M190.5 552.0 Q189.3 552.2 189.0 551.0 Q187.8 551.0 187.7 549.8 M185.6 581.7 L185.6 581.9 L185.7 582.2 L185.7 582.4 L185.5 582.7 L185.3 583.0 L185.1 583.2 L185.0 583.4 L184.9 583.5 L184.9 583.6 L184.7 583.7 L184.5 583.8 L184.3 584.0 L184.1 584.1 L183.9 584.2 L183.7 584.3 L183.4 584.4 L183.1 584.5 L182.9 584.6 M184.3 580.1 L184.7 580.0 L185.1 579.9 L185.6 579.9 L186.1 580.0 L186.5 580.1 L186.9 580.2 L187.3 580.3 L187.7 580.5 L188.0 580.7 L188.2 581.0 L188.3 581.4 L188.4 581.7 L188.6 582.1 L188.8 582.5 L188.9 582.9 L188.8 583.4 L188.5 583.9 L188.3 584.2 M163.9 573.3 L163.7 573.1 L163.4 572.9 L163.1 572.6 L163.0 572.3 L163.0 572.0 L163.0 571.6 L163.2 571.3 L163.4 571.0 L163.6 570.8 L163.8 570.4 L164.0 570.1 L164.2 569.9 L164.5 569.8 L164.9 569.8 L165.2 569.8 L165.6 569.9 L166.0 570.0 L166.2 570.2 M188.2 581.0 Q189.7 579.9 191.5 580.5 Q193.2 582.0 194.9 580.4 M169.9 557.7 Q169.9 559.4 168.3 559.8 Q167.8 561.5 166.0 561.3 M176.2 568.4 L176.1 568.1 L176.0 567.7 L175.9 567.3 L175.9 566.8 L175.9 566.4 L176.0 565.9 L176.2 565.5 L176.6 565.1 L176.9 564.8 L177.3 564.5 L177.6 564.3 L178.0 564.2 L178.4 564.1 L178.8 564.2 L179.2 564.2 L179.7 564.3 L180.2 564.4 L180.5 564.5 M202.7 564.2 L202.9 564.2 L203.1 564.1 L203.4 564.0 L203.6 564.0 L203.8 564.0 L204.1 564.0 L204.3 564.1 L204.5 564.2 L204.7 564.3 L204.9 564.5 L205.0 564.6 L205.1 564.7 L205.3 564.9 L205.3 565.2 L205.5 565.4 L205.7 565.6 L205.9 565.8 L206.1 566.0 M185.6 542.9 Q186.3 543.6 187.2 543.1 Q188.2 542.5 188.8 543.6 Q189.6 543.0 190.4 543.7 M198.7 559.3 L198.8 559.2 L198.9 559.2 L199.1 559.1 L199.2 558.9 L199.4 558.7 L199.6 558.6 L199.7 558.5 L199.9 558.6 L200.1 558.6 L200.2 558.6 L200.4 558.6 L200.6 558.7 L200.8 558.7 L201.0 558.8 L201.2 558.9 L201.3 559.0 L201.5 559.0 L201.6 559.0 M185.7 553.7 L185.4 553.8 L185.0 554.0 L184.6 554.1 L184.3 554.3 L184.1 554.4 L183.8 554.5 L183.5 554.6 L183.2 554.6 L183.0 554.5 L182.7 554.3 L182.4 554.1 L182.2 553.9 L182.0 553.7 L181.7 553.6 L181.5 553.4 L181.3 553.1 L181.1 552.8 L180.9 552.5 M180.7 585.2 L180.5 585.2 L180.2 585.1 L180.0 585.1 L179.7 585.0 L179.5 584.9 L179.4 584.7 L179.4 584.6 L179.4 584.4 L179.4 584.2 L179.3 584.0 L179.1 583.8 L178.9 583.6 L178.9 583.3 L179.0 583.1 L179.0 582.9 L178.9 582.7 L178.8 582.4 L178.7 582.3 M173.3 548.6 Q174.3 547.8 175.3 548.6 Q176.1 549.9 177.3 549.0 M174.5 589.1 L174.4 588.9 L174.2 588.7 L174.1 588.4 L174.1 588.0 L174.1 587.7 L174.2 587.3 L174.2 587.0 L174.3 586.8 L174.4 586.5 L174.7 586.2 L175.0 585.8 L175.3 585.6 L175.6 585.5 L175.9 585.4 L176.2 585.4 L176.5 585.5 L176.9 585.6 L177.2 585.7 M188.2 561.0 Q187.9 558.9 185.8 558.9 Q184.5 557.6 185.2 555.9 M169.0 547.0 L168.9 547.2 L168.7 547.5 L168.5 547.8 L168.3 548.1 L168.1 548.3 L167.9 548.6 L167.7 548.8 L167.5 549.0 L167.2 549.2 L166.9 549.4 L166.5 549.5 L166.2 549.5 L165.8 549.4 L165.5 549.2 L165.1 549.1 L164.8 549.0 L164.5 548.9 L164.3 548.8 M171.5 570.5 L171.5 570.8 L171.5 571.2 L171.5 571.7 L171.6 572.1 L171.6 572.5 L171.6 572.8 L171.3 573.2 L170.9 573.5 L170.5 573.7 L170.1 573.7 L169.7 573.7 L169.3 573.7 L168.9 573.6 L168.5 573.5 L168.1 573.3 L167.8 573.0 L167.5 572.7 L167.3 572.4 M178.4 554.5 Q179.5 556.8 181.8 555.5 Q181.2 558.0 183.7 558.4 M159.5 567.2 L159.7 567.3 L160.0 567.3 L160.3 567.4 L160.5 567.5 L160.7 567.6 L160.9 567.8 L161.1 567.9 L161.2 568.1 L161.3 568.3 L161.3 568.5 L161.2 568.8 L161.1 569.0 L161.0 569.3 L160.9 569.5 L160.7 569.7 L160.5 569.8 L160.3 569.8 L160.1 569.9 M193.8 550.2 L194.0 550.3 L194.4 550.4 L194.8 550.6 L195.1 550.9 L195.4 551.3 L195.6 551.7 L195.6 552.1 L195.6 552.6 L195.5 553.0 L195.3 553.3 L195.1 553.6 L194.9 553.9 L194.6 554.3 L194.2 554.6 L193.8 554.8 L193.3 554.7 L192.9 554.5 L192.5 554.4" fill="none" stroke="#4f8a4f" stroke-width="0.5" stroke-linecap="round" opacity="0.7"/>
<g transform="translate(0.0,0.0)">
<g fill="#c6dcc2" stroke="#8a8a8a" stroke-width="1.1"><circle cx="158.3" cy="392.8" r="3.3"/><circle cx="160.3" cy="397.5" r="3.9"/><circle cx="156.2" cy="400.5" r="3.2"/><circle cx="162" cy="401.5" r="2.8"/><circle cx="153" cy="402.5" r="2.4"/></g>
<g fill="#c6dcc2"><circle cx="158.3" cy="392.8" r="3.3"/><circle cx="160.3" cy="397.5" r="3.9"/><circle cx="156.2" cy="400.5" r="3.2"/><circle cx="162" cy="401.5" r="2.8"/><circle cx="153" cy="402.5" r="2.4"/></g>
<g fill="#f8c6f5" stroke="#d660d6" stroke-width="1.1"><circle cx="144.6" cy="405.6" r="3.6"/><circle cx="149.5" cy="405.2" r="4.3"/><circle cx="154.5" cy="404.6" r="4.2"/><circle cx="159.5" cy="404.8" r="4.0"/><circle cx="163" cy="405.2" r="3.0"/><circle cx="147" cy="407" r="3.2"/></g>
<g fill="#f8c6f5"><circle cx="144.6" cy="405.6" r="3.6"/><circle cx="149.5" cy="405.2" r="4.3"/><circle cx="154.5" cy="404.6" r="4.2"/><circle cx="159.5" cy="404.8" r="4.0"/><circle cx="163" cy="405.2" r="3.0"/><circle cx="147" cy="407" r="3.2"/></g>
</g>
<rect x="618.1" y="476.0" width="4.2" height="55.0" fill="#a6fea6" />
<path d="M487.3 386.4 L485.5 385.4 L484.8 384.5 L484.6 383.5 L484.6 382.6 L484.9 381.8 L485.6 381.1 L486.5 380.6 L487.7 380.4 L488.8 380.1 L488.5 379.0 L488.5 378.1 L488.7 377.2 L489.0 376.4 L489.5 375.7 L490.1 375.2 L490.8 374.7 L491.6 374.4 L492.4 374.1 L493.4 374.0 L494.6 374.1 L494.6 372.9 L494.7 371.8 L494.9 370.9 L495.2 370.1 L495.5 369.5 L496.0 368.9 L496.6 368.4 L497.3 367.9 L498.2 367.4 L499.5 366.8 L499.4 365.9 L499.1 365.0 L498.9 364.2 L498.8 363.4 L498.8 362.6 L498.9 361.8 L499.0 361.0 L499.3 360.3 L499.8 359.7 L500.4 359.3 L501.0 359.3 L501.5 359.7 L502.0 358.7 L502.8 358.0 L503.6 357.5 L504.4 357.2 L505.2 356.9 L506.0 356.8 L506.9 356.9 L507.7 357.1 L508.5 357.5 L509.2 358.0 L510.0 358.6 L510.7 359.6 L511.4 359.7 L512.4 358.8 L513.2 358.4 L514.0 358.3 L514.8 358.5 L515.6 359.0 L516.3 359.9 L517.2 360.3 L518.0 359.5 L518.8 359.1 L519.5 358.8 L520.4 358.8 L521.3 359.0 L522.6 359.5 L523.2 358.8 L523.8 358.1 L524.4 357.5 L524.9 356.9 L525.5 356.4 L526.2 355.9 L526.8 355.5 L527.5 355.2 L528.3 354.9 L529.0 354.6 L529.8 354.3 L530.6 354.1 L531.4 354.0 L532.3 353.9 L532.6 352.7 L532.9 351.5 L533.4 350.6 L534.0 350.0 L534.8 349.6 L535.7 349.5 L536.7 349.8 L537.6 350.4 L538.4 351.6 L539.2 350.7 L540.0 349.8 L541.0 349.2 L541.8 349.0 L542.6 349.1 L543.4 349.6 L544.1 350.3 L544.7 351.3 L545.3 353.1 L546.3 352.7 L547.1 352.5 L548.0 352.3 L548.8 352.1 L549.6 351.9 L550.4 351.6 L551.2 351.4 L552.0 351.2 L552.8 351.1 L553.6 350.9 L554.4 350.8 L555.2 350.7 L556.0 350.6 L556.8 350.6 L557.7 350.7 L558.4 350.3 L558.9 349.0 L559.5 348.2 L560.2 347.6 L561.0 347.1 L561.8 346.9 L562.6 346.8 L563.5 347.0 L564.3 347.3 L565.1 347.9 L565.9 348.8 L566.6 349.5 L567.4 349.0 L568.3 348.7 L569.1 348.5 L569.9 348.4 L570.7 348.4 L571.5 348.5 L572.3 348.6 L573.1 348.8 L573.9 349.0 L574.6 349.3 L575.4 349.7 L576.2 350.2 L576.9 350.7 L577.7 351.5 L578.6 350.9 L579.5 350.5 L580.3 350.2 L581.1 349.9 L581.9 349.6 L582.7 349.4 L583.5 349.2 L584.3 349.1 L585.1 349.1 L585.9 349.3 L586.6 349.6 L587.2 348.9 L587.9 348.5 L588.7 348.4 L589.5 348.3 L590.3 348.5 L591.1 348.7 L591.8 349.0 L592.5 349.5 L593.1 350.0 L593.7 350.6 L594.2 351.3 L594.6 352.2 L595.8 351.8 L596.9 351.4 L597.9 351.3 L598.7 351.5 L599.4 352.0 L599.8 352.8 L600.1 353.8 L600.1 355.4 L601.2 355.2 L602.3 354.9 L603.3 354.9 L604.1 355.0 L604.9 355.3 L605.7 355.7 L606.3 356.1 L606.9 356.7 L607.4 357.4 L607.8 358.2 L608.1 359.2 L608.2 360.4 L608.5 361.4 L609.3 361.6 L610.1 361.9 L610.9 362.2 L611.6 362.6 L612.3 363.0 L613.0 363.4 L613.6 363.8 L614.3 364.3 L614.9 364.8 L615.5 365.4 L616.1 365.9 L616.6 366.6 L617.1 367.2 L617.5 368.0 L618.7 367.8 L619.7 367.7 L620.6 367.8 L621.5 368.1 L622.2 368.4 L622.9 368.9 L623.5 369.4 L624.0 370.1 L624.4 370.8 L624.7 371.7 L624.9 372.8 L625.2 373.7 L626.0 373.9 L626.8 374.3 L627.5 374.6 L628.2 375.0 L628.8 375.5 L629.4 376.0 L630.0 376.6 L630.5 377.2 L631.0 377.8 L631.4 378.5 L631.8 379.2 L632.1 380.0 L632.3 380.9 L633.7 380.7 L634.7 380.9 L635.6 381.2 L636.3 381.6 L637.0 382.1 L637.6 382.7 L638.0 383.4 L638.4 384.2 L638.7 385.0 L638.8 385.8 L638.8 386.8 L638.6 387.8 L638.3 388.8 L639.4 389.1 L640.2 389.6 L640.7 390.3 L640.9 391.1 L640.8 391.9 L640.4 392.9 L640.1 393.8 L641.3 394.3 L642.1 394.9 L642.7 395.6 L643.2 396.3 L643.6 397.1 L643.9 397.9 L644.0 398.7 L644.0 399.5 L643.9 400.3 L643.7 401.2 L643.4 402.0 L642.9 402.9 L642.1 403.8 L642.6 404.6 L643.7 405.2 L644.4 405.9 L645.0 406.7 L645.4 407.4 L645.7 408.2 L645.8 409.0 L645.7 409.8 L645.5 410.6 L645.2 411.5 L644.6 412.4 L643.7 413.3 L643.8 414.1 L644.6 414.8 L645.1 415.5 L645.5 416.3 L645.6 417.1 L645.6 417.9 L645.4 418.7 L645.0 419.6 L644.3 420.4 L644.6 421.2 L646.0 422.0 L646.7 422.9 L646.9 423.7 L646.5 424.6 L645.6 425.3 L644.0 425.8 L643.3 426.4 L643.5 427.3 L643.7 428.1 L643.7 429.0 L643.7 429.8 L643.6 430.6 L643.5 431.4 L643.4 432.2 L643.2 433.0 L643.0 433.7 L642.7 434.5 L642.5 435.4 L642.2 436.2 L641.9 437.1 L641.4 438.1 L642.2 438.8 L642.7 439.6 L643.2 440.3 L643.6 441.0 L643.9 441.7 L644.2 442.5 L644.3 443.3 L644.4 444.1 L644.3 444.8 L644.1 445.6 L643.9 446.3 L644.8 447.0 L645.2 447.8 L645.5 448.6 L645.5 449.5 L645.4 450.4 L645.2 451.2 L644.9 451.9 L644.5 452.6 L644.0 453.3 L643.3 453.9 L642.6 454.4 L641.7 454.8 L640.5 455.1 L640.4 455.9 L640.2 456.8 L640.0 457.6 L639.8 458.4 L639.5 459.2 L639.3 459.9 L639.0 460.7 L638.7 461.4 L638.3 462.2 L637.9 462.9 L637.5 463.6 L637.1 464.2 L636.6 464.9 L636.0 465.4 L635.5 466.0 L635.6 466.9 L635.5 467.8 L635.3 468.5 L635.0 469.2 L634.6 469.9 L634.0 470.5 L633.5 471.1 L632.8 471.5 L632.1 471.9 L631.4 472.2 L630.6 472.4 L629.8 472.5 L628.8 472.3 L628.5 473.4 L628.0 474.2 L627.5 474.8 L626.9 475.4 L626.2 475.9 L625.5 476.3 L624.8 476.7 L624.0 476.9 L623.2 477.1 L622.4 477.2 L621.6 477.3 L620.8 477.2 L619.9 477.1 L619.1 476.8 L618.3 476.2 L617.6 477.2 L616.9 477.9 L616.1 478.4 L615.2 478.6 L614.4 478.7 L613.6 478.5 L612.8 478.2 L612.1 477.7 L611.4 477.1 L610.8 476.0 L610.0 475.7 L609.2 475.9 L608.3 476.0 L607.5 476.1 L606.7 476.0 L605.9 476.0 L605.1 475.9 L604.3 475.7 L603.5 475.5 L602.7 475.3 L601.9 475.0 L601.2 474.7 L600.5 474.3 L599.7 473.7 L598.9 473.7 L598.1 473.9 L597.3 474.0 L596.5 474.0 L595.8 473.8 L595.0 473.6 L594.4 473.3 L593.8 472.8 L593.5 472.3 L593.4 471.6 L593.5 471.0 L592.2 470.7 L591.4 470.1 L590.7 469.6 L590.1 469.0 L589.5 468.6 L588.9 468.2 L588.4 467.8 L587.8 467.3 L587.3 466.7 L586.8 466.1 L586.3 465.4 L585.9 464.6 L585.7 463.7 L585.5 462.7 L585.8 461.5 L585.4 461.1 L584.7 460.7 L584.3 460.2 L584.0 459.5 L584.0 458.7 L584.1 457.9 L584.4 457.1 L584.7 456.4 L585.1 455.7 L585.6 455.1 L586.2 454.5 L586.8 453.9 L587.5 453.4 L588.2 452.9 L589.2 452.5 L587.8 450.8 L587.3 449.7 L587.1 448.8 L587.3 448.1 L587.9 447.5 L588.9 447.0 L590.5 446.6 L590.2 445.7 L589.4 444.6 L589.1 443.7 L589.1 442.9 L589.4 442.2 L590.1 441.5 L591.1 441.0 L593.0 440.6 L592.2 439.6 L591.9 438.7 L591.8 437.8 L591.8 437.0 L592.1 436.2 L592.5 435.5 L593.1 434.8 L594.0 434.2 L594.1 433.4 L593.8 432.5 L593.5 431.6 L593.4 430.8 L593.3 430.0 L593.3 429.1 L593.4 428.3 L593.5 427.5 L593.7 426.8 L594.0 426.0 L594.3 425.2 L594.8 424.5 L595.3 423.9 L595.9 423.2 L596.6 422.7 L597.6 422.2 L596.8 421.1 L596.6 420.1 L596.6 419.2 L596.7 418.4 L596.9 417.6 L597.2 416.9 L597.6 416.2 L598.2 415.6 L598.8 414.9 L599.7 414.3 L599.9 413.4 L599.3 412.5 L598.8 411.6 L598.5 410.8 L598.3 410.0 L598.2 409.2 L598.2 408.5 L598.2 407.7 L598.3 406.9 L598.4 406.1 L598.6 405.2 L598.9 404.1 L598.8 402.9 L597.4 403.0 L596.3 403.1 L595.5 403.2 L594.7 403.2 L594.0 403.0 L593.2 402.7 L592.5 402.2 L591.8 401.4 L591.3 400.1 L590.4 400.7 L589.5 401.1 L588.6 401.2 L587.7 401.2 L586.9 401.1 L586.2 400.8 L585.5 400.5 L584.8 400.0 L584.1 399.4 L583.5 398.7 L582.8 397.7 L581.9 398.0 L581.0 398.6 L580.1 399.0 L579.3 399.3 L578.5 399.3 L577.7 399.2 L576.9 399.0 L576.2 398.6 L575.4 398.0 L574.6 397.1 L573.8 397.7 L573.0 398.6 L572.1 399.2 L571.2 399.5 L570.4 399.6 L569.6 399.4 L568.8 399.0 L568.1 398.3 L567.4 397.4 L566.8 395.8 L565.9 396.3 L565.1 396.8 L564.2 397.2 L563.4 397.4 L562.7 397.6 L561.9 397.8 L561.1 397.8 L560.3 397.8 L559.5 397.8 L558.6 397.6 L557.7 397.4 L556.6 396.7 L556.1 397.8 L555.5 398.6 L554.9 399.2 L554.3 399.8 L553.6 400.2 L552.9 400.6 L552.2 400.9 L551.4 401.1 L550.6 401.2 L549.7 401.3 L548.7 401.2 L547.6 400.8 L547.4 402.1 L546.9 403.0 L546.5 403.8 L546.0 404.5 L545.4 405.1 L544.8 405.7 L544.3 406.2 L543.6 406.6 L543.0 407.0 L542.3 407.4 L541.6 407.7 L540.8 408.1 L540.0 408.4 L539.0 408.7 L537.6 408.7 L537.7 409.8 L537.6 410.7 L537.3 411.5 L537.1 412.3 L536.7 413.0 L536.3 413.7 L535.8 414.3 L535.2 414.8 L534.5 415.3 L533.8 415.7 L533.0 416.0 L532.2 416.2 L531.3 416.3 L531.0 417.2 L530.6 417.9 L530.1 418.6 L529.6 419.2 L529.0 419.8 L528.4 420.3 L527.8 420.8 L527.1 421.3 L526.4 421.7 L525.7 422.1 L525.0 422.4 L524.2 422.6 L523.4 422.6 L522.7 422.4 L522.2 421.8 L521.4 422.9 L520.5 423.5 L519.5 423.7 L518.6 423.7 L517.7 423.6 L516.9 423.3 L516.1 423.0 L515.4 422.5 L514.8 422.0 L514.3 421.3 L513.8 420.6 L513.4 419.8 L513.0 418.8 L512.8 417.7 L512.5 416.8 L511.5 416.8 L510.6 416.7 L509.8 416.5 L509.0 416.2 L508.2 415.9 L507.5 415.5 L506.9 415.0 L506.2 414.5 L505.6 414.0 L505.1 413.4 L504.6 412.7 L504.1 412.0 L503.8 411.2 L503.4 410.4 L503.3 409.4 L502.6 409.0 L501.5 409.0 L500.6 408.7 L499.8 408.4 L499.1 408.0 L498.5 407.5 L497.9 406.9 L497.4 406.3 L496.9 405.6 L496.6 404.9 L496.3 404.0 L496.1 403.1 L496.2 402.0 L495.6 401.5 L494.8 401.1 L494.1 400.6 L493.5 400.1 L493.0 399.5 L492.6 398.8 L492.3 398.0 L492.2 397.0 L491.2 396.8 L490.4 396.5 L489.6 396.1 L488.9 395.6 L488.3 395.1 L487.7 394.5 L487.2 393.9 L486.8 393.2 L486.4 392.4 L486.2 391.7 L486.0 390.9 L486.0 390.0 L486.1 389.2 L486.5 388.5 L485.8 387.8 L484.6 387.0Z" fill="#a6fea6" stroke="#4f8a4f" stroke-width="0.6" stroke-linejoin="round"/>
<path d="M602.3 430.0 L602.6 430.0 L603.0 430.0 L603.4 430.0 L603.8 429.9 L604.3 429.7 L604.8 429.7 L605.2 429.9 L605.5 430.2 L605.9 430.6 L606.2 430.8 L606.5 431.0 L606.8 431.3 L606.9 431.7 L607.0 432.2 L607.0 432.7 L607.0 433.1 L606.8 433.6 L606.7 434.0 M609.4 431.2 L609.1 431.2 L608.6 431.3 L608.1 431.2 L607.6 431.0 L607.2 430.7 L606.9 430.4 L606.5 430.1 L606.2 429.7 L606.0 429.3 L606.0 428.9 L606.1 428.5 L606.2 428.0 L606.3 427.6 L606.4 427.1 L606.6 426.7 L606.9 426.3 L607.2 426.0 L607.4 425.8 M630.0 406.2 L630.6 405.8 L631.4 405.3 L632.3 405.1 L633.1 405.3 L634.0 405.8 L634.8 406.3 L635.4 406.8 L636.0 407.3 L636.5 407.8 L636.9 408.4 L637.3 409.1 L637.5 409.8 L637.5 410.6 L637.4 411.5 L637.1 412.4 L636.7 413.2 L636.1 414.0 L635.6 414.6 M537.5 389.1 L537.3 389.2 L537.0 389.3 L536.7 389.4 L536.4 389.3 L536.2 389.1 L535.9 388.9 L535.7 388.7 L535.5 388.5 L535.3 388.3 L535.1 388.1 L535.0 387.9 L534.9 387.6 L534.6 387.4 L534.4 387.1 L534.2 386.9 L534.3 386.5 L534.4 386.2 L534.5 386.0 M545.5 369.1 L545.8 368.8 L546.3 368.3 L546.8 368.0 L547.4 367.7 L548.0 367.5 L548.6 367.3 L549.3 367.3 L549.9 367.4 L550.5 367.6 L551.0 367.9 L551.5 368.4 L551.9 369.0 L552.3 369.5 L552.6 370.0 L552.8 370.5 L552.9 371.2 L552.9 371.9 L552.9 372.4 M615.4 425.6 Q613.6 423.4 611.0 424.3 Q608.9 422.3 606.4 423.8 M609.4 464.3 Q606.7 464.5 605.6 466.9 Q602.5 466.5 601.8 469.5 Q602.9 471.9 601.4 474.1 M584.9 362.5 L585.1 362.6 L585.3 362.8 L585.6 363.0 L585.9 363.2 L586.2 363.4 L586.4 363.5 L586.4 363.7 L586.5 363.8 L586.5 364.0 L586.7 364.2 L587.0 364.5 L587.1 364.7 L587.2 364.9 L587.1 365.2 L587.1 365.4 L587.1 365.7 L587.1 366.0 L587.1 366.2 M578.3 375.2 L578.7 375.0 L579.4 374.8 L580.1 374.7 L580.7 374.7 L581.4 374.9 L581.9 375.2 L582.4 375.6 L582.8 376.2 L583.0 376.8 L583.1 377.5 L583.1 378.1 L582.9 378.7 L582.7 379.2 L582.4 379.7 L582.1 380.2 L581.6 380.6 L581.0 381.1 L580.6 381.3 M538.4 359.1 L539.2 359.1 L540.2 359.0 L541.2 359.3 L541.9 359.9 L542.5 360.8 L542.9 361.7 L543.2 362.6 L543.4 363.4 L543.4 364.3 L543.2 365.3 L542.8 366.3 L542.4 367.1 L541.8 367.9 L541.2 368.5 L540.4 369.0 L539.6 369.4 L538.7 369.6 L538.0 369.8 M535.7 403.1 L536.0 402.9 L536.4 402.6 L536.8 402.5 L537.2 402.5 L537.7 402.6 L538.1 402.8 L538.4 403.1 L538.7 403.5 L539.0 403.8 L539.3 404.2 L539.6 404.5 L539.8 404.9 L539.8 405.3 L539.7 405.6 L539.6 406.0 L539.5 406.4 L539.5 406.9 L539.5 407.2 M603.0 458.3 L602.6 458.4 L602.1 458.4 L601.5 458.5 L601.0 458.6 L600.5 458.7 L600.0 458.7 L599.6 458.6 L599.2 458.4 L598.8 458.2 L598.5 457.9 L598.2 457.5 L597.9 457.1 L597.6 456.6 L597.2 456.1 L597.0 455.6 L597.0 455.1 L597.2 454.6 L597.3 454.2 M581.9 382.2 Q584.3 382.6 585.2 380.3 Q586.6 378.6 588.8 379.1 Q590.6 377.9 592.5 378.7 M623.4 468.3 Q622.6 466.6 620.8 466.6 Q619.1 465.9 618.9 464.1 M615.5 458.2 L615.6 458.5 L615.7 459.0 L615.8 459.4 L615.7 459.8 L615.5 460.2 L615.3 460.5 L615.1 460.8 L614.8 461.1 L614.5 461.3 L614.1 461.5 L613.7 461.7 L613.3 461.9 L612.9 461.9 L612.5 461.9 L612.1 461.8 L611.7 461.6 L611.3 461.4 L611.0 461.2 M599.5 371.6 Q597.5 371.8 596.5 370.1 Q594.6 370.4 593.3 369.1 M586.7 461.0 Q590.4 458.4 588.2 454.5 Q592.2 453.1 592.0 448.9 M629.2 432.9 L629.4 433.4 L629.6 434.1 L629.7 434.9 L629.7 435.6 L629.6 436.3 L629.4 436.9 L629.0 437.6 L628.4 438.3 L627.8 438.8 L627.1 438.9 L626.3 438.9 L625.5 438.8 L624.8 438.9 L624.0 439.0 L623.4 438.9 L622.8 438.4 L622.3 437.8 L622.0 437.3 M598.1 458.2 Q598.2 459.3 597.4 459.9 Q597.8 461.1 596.7 461.6 Q595.5 461.5 595.3 462.7 M555.1 357.3 L555.4 357.6 L555.8 358.1 L556.2 358.7 L556.6 359.2 L556.9 359.8 L557.0 360.4 L556.9 361.0 L556.7 361.6 L556.3 362.1 L555.9 362.7 L555.5 363.3 L555.0 363.7 L554.6 363.9 L554.1 364.0 L553.6 364.1 L553.0 364.1 L552.3 364.1 L551.8 364.0 M601.7 419.3 Q599.7 418.8 599.0 420.6 Q598.1 422.5 596.2 421.6 M563.6 382.1 L563.4 382.5 L563.0 383.1 L562.6 383.6 L562.1 384.2 L561.4 384.8 L560.7 385.1 L560.1 385.1 L559.3 384.8 L558.7 384.5 L558.0 384.3 L557.5 384.0 L556.9 383.6 L556.5 383.1 L556.1 382.6 L555.9 382.0 L555.8 381.3 L555.8 380.6 L555.8 380.1 M598.8 369.3 L598.9 368.9 L599.1 368.5 L599.3 368.1 L599.5 367.8 L599.6 367.6 L599.8 367.3 L600.1 367.1 L600.4 366.9 L600.7 366.7 L601.0 366.5 L601.4 366.3 L601.8 366.2 L602.1 366.1 L602.4 366.2 L602.7 366.3 L603.2 366.6 L603.6 367.0 L603.9 367.3 M547.0 387.5 L547.0 387.3 L547.0 387.0 L547.0 386.7 L546.7 386.4 L546.4 386.0 L546.1 385.7 L546.1 385.4 L546.2 385.1 L546.4 384.8 L546.6 384.4 L546.8 384.1 L546.9 383.7 L547.1 383.5 L547.2 383.3 L547.4 383.1 L547.7 382.8 L547.9 382.4 L548.1 382.1 M590.4 361.2 Q592.1 360.9 592.9 362.4 Q592.9 364.1 594.6 364.6 Q594.3 366.1 595.3 367.2 M623.4 429.1 Q621.7 426.7 618.7 426.7 Q616.2 428.5 613.5 427.0 M613.5 423.3 L613.3 423.1 L613.0 423.0 L612.8 422.7 L612.8 422.5 L612.9 422.2 L613.0 422.0 L612.9 421.7 L612.9 421.5 L612.8 421.2 L612.8 421.0 L612.9 420.7 L612.9 420.5 L613.1 420.3 L613.2 420.1 L613.4 419.8 L613.7 419.6 L613.9 419.3 L614.1 419.1 M593.6 445.2 Q593.0 447.0 591.2 446.5 Q591.1 448.1 589.7 448.8 Q591.2 450.1 589.7 451.5 M593.8 443.5 Q595.1 439.5 599.0 438.2 Q597.6 433.5 602.0 431.4 M533.2 365.5 L533.2 365.7 L533.3 365.9 L533.2 366.1 L533.1 366.3 L532.9 366.5 L532.7 366.7 L532.5 366.9 L532.4 367.0 L532.2 367.1 L532.1 367.3 L532.0 367.4 L531.8 367.5 L531.6 367.6 L531.4 367.6 L531.1 367.7 L530.9 367.7 L530.7 367.8 L530.5 367.8 M508.5 394.9 Q507.5 394.2 507.7 393.0 Q509.1 392.3 508.3 390.9 Q509.8 390.9 509.7 389.4 M593.2 463.2 L593.2 462.8 L593.3 462.4 L593.3 462.0 L593.4 461.7 L593.6 461.5 L593.7 461.2 L593.9 461.0 L594.1 460.7 L594.3 460.5 L594.7 460.1 L595.1 459.8 L595.5 459.6 L595.9 459.6 L596.2 459.8 L596.6 459.9 L597.0 459.8 L597.4 459.8 L597.7 459.7 M521.3 392.7 Q520.4 394.0 518.9 393.6 Q517.4 393.7 516.6 392.5 M607.0 379.1 L607.1 379.1 L607.3 378.9 L607.5 378.9 L607.7 379.0 L607.8 379.1 L608.0 379.2 L608.2 379.2 L608.3 379.2 L608.5 379.2 L608.7 379.3 L609.0 379.4 L609.2 379.5 L609.2 379.6 L609.2 379.8 L609.3 380.0 L609.4 380.2 L609.6 380.4 L609.7 380.6 M530.2 356.1 Q527.4 356.3 527.5 359.0 Q525.0 358.7 524.3 361.2 M592.4 470.9 L592.2 470.2 L592.0 469.2 L592.0 468.3 L592.2 467.5 L592.6 466.8 L593.1 466.1 L593.6 465.3 L594.2 464.5 L594.8 463.9 L595.7 463.6 L596.6 463.6 L597.5 463.7 L598.4 463.8 L599.2 464.1 L600.0 464.4 L600.8 464.9 L601.5 465.3 L602.0 465.6 M540.5 403.9 Q539.5 401.9 541.5 400.9 Q539.9 399.2 541.7 397.7 M564.5 393.4 L564.7 393.2 L564.9 392.9 L565.1 392.6 L565.2 392.4 L565.3 392.2 L565.4 392.0 L565.6 391.7 L565.7 391.5 L565.9 391.3 L566.1 391.2 L566.4 391.2 L566.7 391.2 L567.0 391.3 L567.3 391.4 L567.6 391.5 L567.9 391.5 L568.2 391.6 L568.4 391.6 M629.4 453.9 L629.2 454.4 L629.0 455.1 L628.7 455.8 L628.3 456.4 L627.9 457.0 L627.5 457.5 L626.9 457.7 L626.4 457.8 L625.8 457.8 L625.1 457.7 L624.5 457.5 L623.9 457.2 L623.4 456.9 L623.0 456.5 L622.5 456.1 L622.0 455.5 L621.5 454.8 L621.2 454.3 M602.4 430.0 Q605.9 430.7 607.1 427.3 Q608.8 430.6 612.3 429.3 M538.7 394.9 L539.0 395.4 L539.4 396.0 L539.5 396.7 L539.4 397.4 L539.0 398.0 L538.6 398.6 L538.2 399.2 L537.8 399.7 L537.3 400.2 L536.8 400.4 L536.2 400.5 L535.6 400.5 L535.0 400.4 L534.3 400.2 L533.7 400.0 L533.1 399.7 L532.6 399.2 L532.2 398.9 M544.1 393.2 Q546.3 392.3 545.6 390.0 Q547.2 388.5 546.1 386.5 M599.3 457.0 L599.0 457.2 L598.7 457.4 L598.4 457.5 L598.1 457.7 L597.8 457.8 L597.5 457.9 L597.2 457.9 L596.9 458.0 L596.5 457.9 L596.2 457.8 L595.9 457.6 L595.6 457.3 L595.4 457.2 L595.2 457.0 L595.0 456.8 L594.9 456.4 L594.8 456.1 L594.7 455.8 M509.4 373.6 Q510.7 371.5 512.8 372.8 Q514.0 370.7 516.2 371.9 Q516.8 374.1 519.1 373.8 M579.1 357.9 L579.3 357.8 L579.6 357.8 L579.9 357.9 L580.2 358.0 L580.5 358.2 L580.7 358.5 L580.8 358.7 L580.9 359.0 L580.9 359.4 L581.1 359.7 L581.2 360.0 L581.3 360.3 L581.2 360.6 L581.1 360.9 L580.9 361.1 L580.8 361.4 L580.7 361.6 L580.7 361.8 M569.1 381.9 L568.8 382.1 L568.3 382.4 L567.9 382.6 L567.4 382.8 L567.0 382.9 L566.6 383.0 L566.2 383.0 L565.8 382.9 L565.4 382.7 L565.0 382.4 L564.5 382.0 L564.1 381.6 L563.8 381.4 L563.6 381.2 L563.3 381.0 L563.1 380.7 L562.9 380.5 L562.8 380.4 M558.4 384.7 L558.3 385.4 L558.3 386.4 L558.1 387.3 L557.8 388.1 L557.4 388.9 L556.8 389.6 L556.1 390.0 L555.3 390.3 L554.5 390.5 L553.5 390.9 L552.5 391.2 L551.6 391.3 L550.8 390.9 L550.0 390.3 L549.4 389.6 L549.0 388.8 L548.7 387.9 L548.5 387.3 M564.9 367.1 Q564.2 363.9 567.4 363.3 Q568.5 361.0 567.2 358.8 Q566.2 356.3 568.1 354.3 M548.9 391.1 L549.0 390.7 L549.3 390.0 L549.6 389.3 L549.8 388.8 L550.1 388.2 L550.4 387.7 L551.0 387.4 L551.7 387.2 L552.3 387.1 L552.9 387.0 L553.5 386.9 L554.1 387.0 L554.6 387.1 L555.1 387.4 L555.6 387.8 L556.1 388.2 L556.6 388.8 L556.9 389.2 M592.6 391.0 L592.9 390.8 L593.3 390.6 L593.8 390.4 L594.2 390.3 L594.6 390.4 L595.0 390.6 L595.4 390.9 L595.7 391.3 L596.0 391.7 L596.2 392.0 L596.4 392.4 L596.4 392.8 L596.4 393.2 L596.3 393.7 L596.2 394.1 L595.9 394.4 L595.6 394.7 L595.4 394.9 M599.5 383.1 L599.2 382.9 L598.9 382.6 L598.7 382.2 L598.6 381.9 L598.6 381.4 L598.6 381.0 L598.8 380.6 L598.9 380.2 L599.2 379.8 L599.4 379.5 L599.8 379.2 L600.1 378.9 L600.4 378.7 L600.7 378.6 L601.1 378.5 L601.5 378.6 L602.0 378.7 L602.3 378.8 M519.6 402.4 L519.8 402.5 L520.0 402.7 L520.3 402.9 L520.6 403.2 L521.0 403.6 L521.2 404.0 L521.2 404.3 L521.2 404.5 L521.2 404.8 L521.3 405.1 L521.5 405.4 L521.6 405.8 L521.6 406.1 L521.5 406.4 L521.3 406.8 L521.1 407.1 L520.9 407.5 L520.7 407.7 M602.1 426.3 L602.0 426.7 L601.9 427.2 L601.7 427.7 L601.4 428.2 L601.0 428.7 L600.6 429.1 L600.1 429.5 L599.5 429.9 L599.0 430.2 L598.4 430.3 L597.9 430.2 L597.4 430.2 L596.8 430.2 L596.2 430.1 L595.7 429.9 L595.2 429.4 L594.8 428.8 L594.6 428.4 M633.3 445.8 Q631.2 446.8 629.7 445.1 Q628.1 443.1 626.1 444.7 M610.8 416.6 L610.1 416.3 L609.1 415.8 L608.2 415.3 L607.5 414.8 L607.0 414.2 L606.5 413.5 L606.2 412.7 L606.0 411.9 L606.0 411.0 L606.1 410.1 L606.4 409.1 L606.8 408.3 L607.4 407.6 L608.3 407.0 L609.1 406.6 L610.0 406.5 L611.0 406.7 L611.7 406.8 M621.3 385.4 L621.9 384.8 L622.8 384.0 L623.8 383.4 L624.6 383.2 L625.6 383.4 L626.5 383.6 L627.5 383.9 L628.5 384.4 L629.3 385.0 L629.8 385.8 L630.1 386.7 L630.3 387.7 L630.5 388.7 L630.6 389.7 L630.5 390.6 L629.9 391.5 L629.1 392.3 L628.4 392.8 M633.9 453.3 L634.0 453.0 L634.2 452.6 L634.5 452.2 L634.9 451.8 L635.3 451.5 L635.8 451.3 L636.2 451.2 L636.7 451.4 L637.1 451.5 L637.6 451.5 L638.1 451.6 L638.6 451.8 L638.9 452.1 L639.1 452.4 L639.4 452.8 L639.8 453.2 L640.2 453.7 L640.5 454.1 M598.0 446.9 L598.0 446.6 L598.0 446.2 L598.1 445.7 L598.3 445.3 L598.6 444.8 L598.9 444.4 L599.1 444.2 L599.3 444.0 L599.6 443.8 L600.0 443.7 L600.5 443.6 L601.0 443.5 L601.4 443.5 L601.9 443.6 L602.3 443.7 L602.6 444.0 L602.9 444.3 L603.1 444.5 M589.7 379.2 Q590.6 381.7 588.1 382.4 Q590.0 383.5 589.5 385.7 M625.5 398.3 Q625.3 400.4 627.3 401.0 Q629.2 402.3 628.0 404.2 Q626.4 405.9 628.0 407.5 M619.7 428.9 L619.5 428.7 L619.1 428.4 L618.7 428.0 L618.6 427.6 L618.5 427.1 L618.5 426.7 L618.6 426.2 L618.8 425.7 L619.0 425.3 L619.3 424.8 L619.6 424.4 L619.9 424.0 L620.4 423.9 L620.8 423.8 L621.3 423.9 L621.8 424.0 L622.3 424.1 L622.7 424.2 M524.2 384.0 Q522.5 381.7 523.4 378.9 Q520.1 378.1 520.1 374.8 M497.5 384.9 L497.3 385.1 L497.0 385.4 L496.6 385.7 L496.2 385.9 L495.9 386.1 L495.5 386.2 L495.0 386.2 L494.6 386.1 L494.2 386.0 L493.8 385.8 L493.4 385.5 L493.1 385.2 L492.8 384.9 L492.5 384.6 L492.3 384.2 L492.2 383.8 L492.2 383.4 L492.3 383.1 M497.1 381.9 L497.2 382.2 L497.3 382.7 L497.4 383.2 L497.4 383.7 L497.4 384.2 L497.4 384.7 L497.3 385.2 L497.1 385.7 L496.8 386.1 L496.4 386.4 L495.9 386.6 L495.4 386.7 L494.9 386.8 L494.4 386.8 L494.0 386.8 L493.5 386.7 L492.9 386.5 L492.6 386.4 M535.5 387.8 L535.5 387.6 L535.5 387.2 L535.7 386.9 L536.1 386.7 L536.6 386.5 L537.0 386.3 L537.4 385.9 L537.8 385.5 L538.1 385.3 L538.5 385.4 L539.0 385.6 L539.4 385.9 L539.8 386.0 L540.2 386.0 L540.6 386.1 L541.2 386.1 L541.7 386.1 L542.1 386.1 M558.2 350.1 L558.7 350.1 L559.4 350.1 L560.1 350.1 L560.7 350.0 L561.3 349.8 L562.0 349.9 L562.5 350.2 L563.0 350.6 L563.5 351.0 L563.9 351.3 L564.3 351.6 L564.7 351.9 L565.1 352.5 L565.5 353.2 L565.9 353.9 L566.0 354.5 L566.1 355.1 L566.2 355.6 M565.6 385.5 L565.7 385.2 L565.8 384.9 L566.0 384.5 L566.1 384.3 L566.3 384.0 L566.5 383.8 L566.7 383.6 L567.0 383.5 L567.3 383.4 L567.5 383.3 L567.8 383.2 L568.1 383.2 L568.4 383.3 L568.6 383.5 L568.9 383.6 L569.2 383.8 L569.4 384.0 L569.5 384.1 M624.2 424.3 L623.9 424.5 L623.5 424.7 L623.0 424.8 L622.5 424.5 L622.1 424.1 L621.7 423.8 L621.4 423.5 L621.2 423.3 L621.1 423.0 L620.8 422.8 L620.6 422.7 L620.3 422.4 L619.9 422.1 L619.4 421.7 L619.0 421.3 L618.9 420.8 L618.9 420.3 L619.0 420.0 M604.2 395.2 Q604.2 393.5 605.8 392.9 Q606.8 391.6 608.4 391.6 Q608.2 389.6 610.3 389.5 M541.2 394.8 Q543.6 392.6 546.5 394.2 Q549.9 395.2 551.5 392.0 M509.3 368.4 L509.6 368.3 L510.1 368.3 L510.5 368.4 L511.0 368.7 L511.5 369.2 L511.8 369.7 L512.1 370.1 L512.2 370.5 L512.2 370.9 L512.2 371.3 L512.2 371.8 L512.1 372.3 L512.0 372.8 L511.8 373.3 L511.6 373.8 L511.3 374.2 L510.9 374.5 L510.7 374.8 M595.7 435.4 Q593.5 436.0 593.2 438.2 Q593.6 440.7 591.2 441.4 M627.3 457.0 Q631.2 455.3 632.1 451.2 Q630.2 447.4 632.5 443.8 M621.7 396.1 L622.2 395.9 L622.9 395.7 L623.7 395.5 L624.3 395.6 L625.0 395.8 L625.6 396.0 L626.1 396.5 L626.6 397.0 L627.1 397.7 L627.5 398.3 L628.0 399.0 L628.4 399.7 L628.5 400.4 L628.6 401.1 L628.5 401.7 L628.3 402.4 L628.1 403.1 L627.9 403.6 M598.3 377.3 L597.9 377.2 L597.4 377.2 L596.9 377.0 L596.6 376.8 L596.2 376.5 L595.9 376.1 L595.6 375.7 L595.4 375.3 L595.2 374.9 L595.2 374.5 L595.3 374.0 L595.5 373.6 L595.8 373.2 L596.2 372.9 L596.6 372.6 L597.1 372.5 L597.6 372.5 L598.0 372.4 M616.5 394.0 L616.2 393.5 L615.9 392.7 L615.7 391.9 L615.7 391.1 L615.8 390.4 L616.1 389.8 L616.6 389.2 L617.3 388.7 L618.0 388.3 L618.6 388.0 L619.3 387.7 L620.0 387.6 L620.8 387.7 L621.6 388.0 L622.3 388.4 L622.9 388.9 L623.3 389.5 L623.5 389.8" fill="none" stroke="#4f8a4f" stroke-width="0.5" stroke-linecap="round" opacity="0.7"/>
<path d="M606.8 528.0 L607.9 527.2 L608.6 527.6 L608.7 528.5 L608.7 529.5 L610.8 528.9 L611.2 529.3 L610.7 531.4 L611.6 531.6 L612.5 531.4 L613.3 531.6 L614.1 532.1 L614.9 532.2 L615.8 531.3 L616.6 531.4 L617.3 532.5 L618.2 532.0 L619.0 531.7 L619.9 532.3 L620.6 531.5 L621.3 530.6 L622.1 530.5 L622.9 531.1 L623.5 532.6 L624.2 532.0 L625.0 532.0 L625.6 532.5 L626.0 533.2 L626.1 534.0 L625.9 535.0 L626.0 535.8 L627.0 536.2 L627.8 536.8 L628.3 537.4 L628.7 538.1 L629.0 539.0 L629.1 540.1 L630.6 539.5 L631.7 539.5 L632.4 539.9 L632.9 540.6 L633.0 541.7 L632.0 542.9 L633.2 543.2 L633.4 544.0 L632.9 544.7 L631.9 545.3 L632.9 546.4 L633.4 547.1 L633.5 547.7 L633.5 548.7 L633.1 550.4 L635.2 549.1 L636.1 549.0 L636.5 549.9 L636.1 552.1 L637.1 551.9 L637.9 552.1 L638.4 552.9 L638.8 553.5 L639.7 553.6 L640.3 554.2 L640.4 555.3 L641.7 555.0 L642.5 555.3 L642.8 556.2 L643.2 556.9 L644.5 556.7 L645.5 556.9 L646.2 557.5 L646.5 558.4 L646.4 559.4 L645.5 560.2 L645.3 560.9 L645.9 561.9 L645.9 562.8 L645.5 563.6 L644.9 564.1 L643.9 564.4 L642.5 564.4 L642.7 565.5 L642.5 566.4 L642.2 567.2 L641.8 567.9 L641.2 568.5 L640.3 569.2 L640.7 570.2 L641.2 571.1 L641.3 571.9 L641.2 572.7 L640.7 573.3 L639.8 573.7 L639.5 574.3 L639.4 575.1 L638.7 575.5 L637.6 575.2 L637.4 576.5 L637.0 577.3 L636.2 577.5 L635.0 577.0 L634.2 577.1 L633.7 577.8 L633.0 578.3 L632.2 578.6 L631.3 578.8 L630.5 579.2 L630.6 580.6 L630.4 581.6 L629.9 582.2 L629.1 582.5 L628.1 582.6 L626.9 582.6 L627.4 584.1 L627.5 585.1 L627.2 585.9 L626.7 586.4 L625.9 586.8 L624.4 587.0 L624.6 588.0 L625.2 589.1 L625.3 590.0 L625.0 590.8 L624.3 591.4 L623.1 591.7 L621.6 591.4 L622.4 593.4 L621.6 593.9 L620.3 592.6 L619.7 593.8 L618.9 594.7 L618.0 594.9 L617.2 594.5 L616.5 593.3 L616.0 592.0 L615.2 592.2 L614.4 592.2 L613.6 591.9 L613.0 591.5 L612.4 590.7 L611.5 591.0 L610.6 591.1 L609.8 590.8 L609.4 590.1 L609.3 589.0 L607.7 589.5 L606.5 589.6 L606.3 588.6 L607.4 586.6 L605.7 587.0 L604.7 586.8 L604.2 586.2 L604.2 585.1 L604.4 583.7 L603.0 584.0 L602.5 583.5 L602.7 581.9 L601.2 582.6 L600.0 582.7 L599.2 582.5 L598.5 581.9 L598.2 581.0 L598.2 579.8 L598.8 578.4 L597.5 578.4 L596.6 577.9 L596.1 577.2 L596.0 576.3 L596.3 575.5 L597.1 574.6 L596.5 573.8 L595.5 573.1 L595.1 572.3 L595.4 571.5 L596.2 570.6 L596.9 569.7 L596.0 569.0 L595.6 568.3 L595.7 567.3 L595.8 566.2 L594.7 565.9 L593.9 565.5 L593.3 565.1 L592.7 564.5 L592.3 563.7 L592.1 562.9 L591.4 562.6 L590.4 562.3 L590.1 561.4 L590.7 560.8 L591.7 560.7 L592.8 561.1 L593.2 560.3 L593.8 559.7 L594.5 559.3 L595.2 559.0 L596.1 559.0 L597.0 559.1 L597.6 558.4 L598.0 557.4 L598.5 556.7 L599.0 556.1 L599.7 555.6 L600.6 555.2 L601.4 554.7 L600.1 553.3 L599.7 552.5 L599.8 551.9 L600.6 551.2 L602.2 549.9 L600.8 549.5 L600.0 549.0 L599.6 548.4 L599.4 547.3 L599.0 546.5 L598.1 546.3 L597.3 546.0 L596.7 545.5 L596.2 544.8 L595.9 543.9 L594.8 544.0 L594.1 543.8 L593.7 543.4 L593.9 543.6 L594.0 543.7 L594.7 543.1 L595.5 543.2 L596.2 544.1 L597.1 542.6 L597.9 541.9 L598.6 542.1 L599.6 543.2 L600.5 543.2 L601.0 542.3 L601.6 541.6 L602.2 541.1 L603.0 540.8 L604.0 540.7 L604.6 540.2 L604.6 539.1 L605.4 538.7 L606.5 538.5 L606.5 537.5 L607.2 536.9 L607.6 536.2 L606.7 534.9 L606.2 534.2 L606.2 533.8 L606.6 533.0 L607.6 531.7 L606.9 531.2 L606.0 530.8 L605.7 530.1 L606.1 528.9 L605.8 528.4 L605.3 527.9 L605.5 527.2 L606.1 527.0 L606.8 527.4Z" fill="#a6fea6" stroke="#4f8a4f" stroke-width="0.6" stroke-linejoin="round"/>
<path d="M622.4 545.3 L622.1 545.4 L621.8 545.6 L621.4 545.8 L621.1 546.0 L620.8 546.1 L620.5 546.1 L620.1 546.1 L619.7 546.0 L619.4 545.9 L619.0 545.8 L618.7 545.6 L618.5 545.3 L618.2 545.2 L618.1 545.0 L617.9 544.7 L617.8 544.3 L617.8 543.9 L617.8 543.6 M601.7 563.0 L601.5 563.1 L601.3 563.1 L601.1 563.2 L600.9 563.3 L600.8 563.4 L600.6 563.5 L600.5 563.5 L600.3 563.6 L600.1 563.6 L599.9 563.6 L599.7 563.5 L599.5 563.4 L599.3 563.3 L599.2 563.2 L599.0 563.1 L598.9 562.9 L598.7 562.7 L598.6 562.6 M609.1 574.2 L609.1 573.8 L609.0 573.3 L609.1 572.8 L609.3 572.4 L609.5 572.1 L609.9 571.7 L610.2 571.5 L610.6 571.3 L611.1 571.1 L611.5 570.8 L612.0 570.6 L612.4 570.4 L612.9 570.5 L613.4 570.7 L613.8 571.0 L614.1 571.5 L614.4 572.1 L614.7 572.5 M620.2 562.2 L619.9 562.3 L619.5 562.5 L619.0 562.6 L618.6 562.6 L618.1 562.5 L617.7 562.3 L617.3 562.0 L617.0 561.7 L616.7 561.3 L616.5 560.9 L616.5 560.4 L616.5 560.0 L616.6 559.6 L616.7 559.2 L616.9 558.9 L617.3 558.6 L617.8 558.3 L618.1 558.1 M609.1 544.3 L608.9 544.3 L608.6 544.3 L608.4 544.3 L608.2 544.2 L608.0 544.1 L607.8 543.9 L607.7 543.7 L607.5 543.4 L607.4 543.2 L607.4 543.0 L607.4 542.7 L607.4 542.5 L607.5 542.3 L607.6 542.1 L607.7 541.9 L607.9 541.8 L608.2 541.6 L608.4 541.5 M610.4 569.1 L610.5 569.4 L610.5 569.8 L610.6 570.3 L610.6 570.7 L610.7 571.2 L610.6 571.6 L610.5 572.0 L610.2 572.3 L609.9 572.6 L609.6 572.8 L609.3 573.0 L609.0 573.1 L608.6 573.2 L608.2 573.3 L607.8 573.3 L607.3 573.1 L606.9 572.8 L606.5 572.6 M617.6 543.4 L617.2 543.4 L616.6 543.4 L616.0 543.4 L615.5 543.4 L615.0 543.3 L614.6 543.1 L614.2 542.8 L613.9 542.3 L613.6 541.8 L613.4 541.3 L613.3 540.7 L613.3 540.2 L613.3 539.7 L613.3 539.2 L613.6 538.8 L614.0 538.3 L614.7 537.8 L615.1 537.4 M607.2 586.2 L606.9 585.9 L606.5 585.6 L606.2 585.3 L606.0 584.9 L605.8 584.5 L605.6 584.1 L605.6 583.7 L605.6 583.3 L605.7 582.9 L605.9 582.6 L606.1 582.2 L606.3 582.0 L606.7 581.7 L607.1 581.4 L607.5 581.2 L607.9 581.1 L608.3 580.9 L608.6 580.9 M625.7 549.3 L625.6 549.2 L625.3 549.1 L625.1 549.1 L624.8 549.0 L624.6 549.0 L624.4 549.0 L624.1 549.0 L623.9 549.0 L623.7 549.0 L623.5 548.8 L623.2 548.6 L623.0 548.4 L622.8 548.2 L622.7 547.9 L622.6 547.7 L622.5 547.4 L622.5 547.2 L622.5 547.0 M612.8 536.0 L612.8 536.2 L612.7 536.4 L612.5 536.6 L612.3 536.8 L612.0 537.1 L611.8 537.2 L611.6 537.2 L611.4 537.1 L611.2 537.1 L611.0 537.2 L610.7 537.4 L610.5 537.6 L610.2 537.6 L609.9 537.6 L609.7 537.6 L609.5 537.4 L609.2 537.2 L609.1 537.1 M613.1 567.5 L613.3 567.6 L613.7 567.8 L614.0 568.1 L614.3 568.5 L614.6 568.9 L614.9 569.3 L615.1 569.7 L615.2 570.1 L615.2 570.4 L615.0 570.9 L614.7 571.3 L614.4 571.7 L614.2 572.0 L614.1 572.3 L613.8 572.6 L613.5 572.7 L613.0 572.8 L612.7 572.8 M635.1 560.7 L635.3 560.7 L635.5 560.8 L635.8 560.9 L636.0 560.9 L636.3 560.8 L636.5 560.7 L636.7 560.6 L636.9 560.6 L637.1 560.6 L637.3 560.6 L637.6 560.7 L637.8 560.8 L637.9 561.0 L638.1 561.3 L638.2 561.5 L638.4 561.7 L638.6 561.8 L638.8 561.9 M623.8 583.8 Q623.4 583.0 622.6 583.1 Q622.1 583.8 621.2 583.5 Q621.3 584.5 620.3 584.6 M604.9 581.7 L604.8 581.6 L604.8 581.5 L604.8 581.4 L604.9 581.2 L605.0 581.1 L605.1 581.0 L605.2 580.9 L605.2 580.8 L605.3 580.7 L605.3 580.7 L605.4 580.6 L605.5 580.5 L605.6 580.5 L605.7 580.4 L605.8 580.4 L606.0 580.4 L606.1 580.4 L606.2 580.4 M606.0 566.1 L606.3 566.3 L606.6 566.5 L606.7 566.7 L606.7 567.0 L606.5 567.2 L606.4 567.5 L606.5 567.7 L606.7 567.9 L606.8 568.1 L606.7 568.4 L606.6 568.6 L606.5 568.8 L606.3 569.0 L606.1 569.2 L606.0 569.4 L605.9 569.6 L606.0 569.8 L606.0 569.9 M639.6 569.2 Q638.7 570.2 639.6 571.2 Q638.8 572.0 639.1 573.0 Q639.4 574.1 638.6 574.9 M625.1 563.9 Q623.9 564.8 622.6 563.9 Q622.4 562.5 621.0 562.0 M624.2 556.5 L624.2 556.9 L624.4 557.4 L624.5 557.9 L624.7 558.4 L624.9 558.9 L624.9 559.4 L624.6 559.8 L624.2 560.2 L623.8 560.6 L623.4 561.0 L623.1 561.3 L622.7 561.6 L622.3 561.6 L621.7 561.5 L621.2 561.4 L620.7 561.3 L620.1 561.3 L619.7 561.2 M620.5 590.9 L620.4 590.9 L620.3 590.9 L620.1 591.0 L620.0 591.1 L619.9 591.2 L619.8 591.3 L619.6 591.2 L619.5 591.1 L619.4 591.0 L619.3 591.1 L619.1 591.1 L619.0 591.1 L618.9 591.1 L618.8 591.0 L618.7 590.8 L618.6 590.7 L618.5 590.6 L618.5 590.5 M624.4 586.8 Q627.0 585.6 626.4 582.9 Q629.1 582.8 629.8 580.1 M606.6 552.5 L606.7 552.7 L606.8 553.0 L606.9 553.3 L606.9 553.5 L606.9 553.8 L606.9 554.1 L606.8 554.4 L606.7 554.7 L606.6 555.0 L606.5 555.2 L606.4 555.3 L606.3 555.5 L606.1 555.7 L605.8 556.0 L605.5 556.2 L605.3 556.3 L605.0 556.3 L604.7 556.4 M615.6 536.4 Q613.4 536.3 613.4 538.6 Q612.5 540.1 613.3 541.7 M612.8 537.9 L612.9 538.0 L613.0 538.1 L613.1 538.2 L613.2 538.3 L613.2 538.4 L613.2 538.5 L613.4 538.6 L613.5 538.8 L613.6 538.9 L613.6 539.0 L613.6 539.2 L613.6 539.3 L613.6 539.5 L613.6 539.6 L613.5 539.7 L613.5 539.9 L613.4 540.0 L613.3 540.1 M611.9 580.3 L612.0 580.2 L612.3 580.0 L612.5 579.9 L612.6 579.7 L612.7 579.6 L612.8 579.5 L613.0 579.3 L613.2 579.2 L613.4 579.1 L613.6 579.0 L613.8 579.1 L614.0 579.1 L614.2 579.2 L614.4 579.3 L614.5 579.4 L614.7 579.4 L614.9 579.5 L615.0 579.6 M600.1 562.3 L600.0 562.5 L599.7 562.8 L599.4 563.0 L599.1 563.1 L598.7 563.1 L598.3 563.0 L598.0 562.9 L597.6 562.8 L597.3 562.6 L597.1 562.3 L597.0 562.0 L596.9 561.7 L596.7 561.3 L596.6 561.0 L596.6 560.6 L596.8 560.3 L597.0 559.9 L597.2 559.6 M635.0 568.1 Q636.1 566.7 637.8 567.0 Q639.4 566.3 640.7 567.5 M631.0 547.9 Q630.9 549.6 632.6 549.5 Q632.3 550.8 633.3 551.7 M613.5 563.9 Q612.9 565.4 614.4 566.1 Q614.9 567.7 613.4 568.3 M626.0 546.1 Q623.9 547.0 624.7 549.2 Q622.5 548.3 621.4 550.3 M613.5 571.5 L613.4 571.4 L613.3 571.2 L613.3 571.1 L613.2 570.9 L613.3 570.8 L613.3 570.6 L613.4 570.5 L613.4 570.3 L613.5 570.2 L613.6 570.0 L613.6 569.9 L613.7 569.8 L613.8 569.6 L614.0 569.5 L614.1 569.4 L614.3 569.4 L614.4 569.5 L614.6 569.5 M622.7 568.4 Q624.4 567.9 624.0 566.2 Q624.8 564.6 623.2 563.8 M633.5 558.4 L633.6 558.5 L633.7 558.8 L633.8 559.0 L633.7 559.2 L633.5 559.4 L633.3 559.6 L633.2 559.7 L633.1 559.8 L633.0 559.9 L632.8 560.0 L632.6 560.1 L632.4 560.2 L632.2 560.4 L632.1 560.6 L631.9 560.7 L631.7 560.7 L631.5 560.6 L631.3 560.5 M617.5 585.0 L617.7 585.0 L618.0 584.9 L618.3 584.9 L618.6 584.8 L618.9 584.6 L619.2 584.6 L619.5 584.8 L619.7 585.0 L620.0 585.3 L620.1 585.5 L620.3 585.6 L620.4 585.8 L620.6 586.1 L620.8 586.4 L620.9 586.7 L620.8 587.0 L620.6 587.3 L620.5 587.5 M602.2 560.2 L602.3 560.0 L602.5 559.6 L602.7 559.3 L603.0 559.2 L603.3 559.1 L603.7 559.0 L604.0 558.9 L604.3 558.8 L604.7 558.7 L605.0 558.7 L605.3 558.8 L605.7 558.9 L606.0 559.1 L606.3 559.4 L606.5 559.7 L606.6 560.0 L606.6 560.3 L606.6 560.6 M606.8 543.8 Q605.3 542.5 603.6 543.4 Q602.8 545.4 600.7 544.8 M608.5 581.5 L608.3 581.7 L608.1 581.9 L607.7 582.1 L607.4 582.4 L606.9 582.6 L606.5 582.7 L606.1 582.6 L605.7 582.3 L605.4 582.0 L605.0 581.8 L604.7 581.6 L604.5 581.3 L604.3 581.0 L604.2 580.7 L604.2 580.3 L604.2 579.9 L604.3 579.5 L604.4 579.2 M611.4 542.1 L611.5 541.8 L611.7 541.5 L611.9 541.2 L612.1 540.9 L612.2 540.6 L612.3 540.4 L612.5 540.4 L612.8 540.4 L613.1 540.4 L613.4 540.4 L613.7 540.3 L614.0 540.3 L614.3 540.4 L614.5 540.6 L614.8 540.8 L614.9 541.0 L615.0 541.2 L615.0 541.4 M614.4 587.1 L614.5 586.9 L614.7 586.7 L614.9 586.4 L615.2 586.2 L615.4 586.1 L615.7 586.0 L616.0 585.8 L616.2 585.7 L616.5 585.6 L616.8 585.5 L617.1 585.4 L617.4 585.5 L617.7 585.6 L618.0 585.9 L618.2 586.1 L618.5 586.3 L618.7 586.5 L618.9 586.6 M629.0 579.1 L628.9 579.3 L628.6 579.6 L628.3 579.9 L628.0 580.1 L627.6 580.2 L627.3 580.3 L626.9 580.4 L626.5 580.4 L626.1 580.4 L625.7 580.2 L625.4 579.8 L625.2 579.5 L625.0 579.1 L625.0 578.8 L625.0 578.4 L624.9 578.0 L624.8 577.6 L624.8 577.2 M616.9 532.8 L617.2 533.2 L617.6 533.7 L617.8 534.3 L617.8 534.8 L617.7 535.3 L617.5 535.8 L617.2 536.2 L616.8 536.7 L616.5 537.1 L616.1 537.4 L615.7 537.7 L615.3 537.9 L614.8 538.0 L614.3 537.9 L613.8 537.7 L613.3 537.5 L612.8 537.1 L612.4 536.8 M625.4 554.3 Q626.9 554.0 627.4 555.5 Q628.6 556.1 629.6 555.2 M605.1 578.1 L605.2 578.1 L605.4 578.0 L605.6 578.0 L605.8 577.8 L606.1 577.6 L606.3 577.4 L606.6 577.3 L606.9 577.2 L607.1 577.1 L607.3 577.2 L607.6 577.3 L607.8 577.4 L608.1 577.4 L608.3 577.5 L608.5 577.5 L608.7 577.6 L608.9 577.8 L609.0 577.9 M636.3 566.0 L636.2 565.9 L636.0 565.9 L635.8 565.8 L635.7 565.8 L635.6 565.7 L635.5 565.7 L635.4 565.6 L635.4 565.5 L635.3 565.4 L635.2 565.2 L635.1 565.1 L635.0 564.9 L635.0 564.8 L635.1 564.6 L635.2 564.5 L635.2 564.3 L635.1 564.2 L635.1 564.1 M612.2 589.8 L612.2 589.7 L612.2 589.5 L612.1 589.4 L612.2 589.2 L612.3 589.1 L612.3 589.0 L612.4 588.9 L612.4 588.7 L612.4 588.6 L612.5 588.5 L612.5 588.4 L612.6 588.3 L612.7 588.2 L612.7 588.1 L612.8 588.1 L612.9 588.0 L613.1 588.0 L613.2 588.0 M639.0 570.6 L638.6 570.8 L638.1 570.9 L637.6 571.0 L637.2 570.9 L636.7 570.6 L636.3 570.3 L635.9 570.0 L635.5 569.7 L635.2 569.3 L635.1 568.9 L635.2 568.5 L635.3 568.0 L635.3 567.6 L635.3 567.1 L635.5 566.7 L635.7 566.2 L636.0 565.8 L636.2 565.5 M600.4 554.8 Q603.4 555.3 602.7 558.2 Q601.9 560.9 604.6 561.8 M597.0 564.5 L597.1 564.6 L597.3 564.7 L597.5 564.8 L597.6 565.0 L597.8 565.2 L597.9 565.4 L598.0 565.5 L598.0 565.7 L598.1 565.8 L598.3 566.0 L598.6 566.2 L598.7 566.4 L598.7 566.6 L598.6 566.8 L598.5 567.0 L598.5 567.3 L598.6 567.5 L598.6 567.6" fill="none" stroke="#4f8a4f" stroke-width="0.5" stroke-linecap="round" opacity="0.7"/>
<rect x="417.1" y="468.0" width="4.5" height="64.0" fill="#00ffff" />
<path d="M447.5 397.9 L448.3 397.3 L449.1 397.2 L449.9 397.2 L450.7 397.3 L451.4 397.6 L452.1 398.0 L452.7 398.5 L453.3 399.1 L453.7 399.8 L454.0 400.7 L455.2 400.4 L456.3 400.5 L457.2 400.7 L458.0 401.0 L458.7 401.5 L459.3 402.0 L459.8 402.7 L460.1 403.5 L460.4 404.4 L460.4 405.4 L460.2 406.6 L461.0 406.9 L462.0 407.1 L462.9 407.5 L463.6 408.0 L464.2 408.6 L464.7 409.3 L465.1 410.0 L465.3 410.8 L465.4 411.7 L465.4 412.6 L465.1 413.6 L464.6 414.6 L465.2 415.1 L465.7 415.8 L466.0 416.6 L466.2 417.3 L466.2 418.1 L466.0 418.9 L465.8 419.7 L465.4 420.4 L465.0 421.1 L464.5 421.7 L463.9 422.3 L463.1 422.8 L463.3 423.7 L463.6 424.8 L463.7 425.8 L463.7 426.6 L463.5 427.4 L463.3 428.1 L463.0 428.8 L462.5 429.4 L461.9 430.1 L461.2 430.7 L460.2 431.3 L459.7 432.0 L460.1 432.9 L460.3 433.8 L460.4 434.6 L460.4 435.4 L460.3 436.2 L460.1 437.0 L459.9 437.8 L459.5 438.5 L459.1 439.2 L458.6 439.9 L457.9 440.6 L456.9 441.1 L458.2 442.3 L458.5 443.2 L458.4 444.0 L457.8 444.7 L456.7 445.2 L455.9 445.7 L456.0 446.6 L456.0 447.4 L455.8 448.2 L455.5 449.0 L455.1 449.6 L454.6 450.3 L453.9 450.8 L453.1 451.3 L453.1 452.2 L453.3 453.2 L453.3 454.2 L453.2 455.0 L452.9 455.8 L452.6 456.6 L452.1 457.3 L451.6 457.9 L450.9 458.5 L450.2 458.9 L449.3 459.2 L448.3 459.4 L447.0 459.3 L447.1 460.5 L447.0 461.5 L446.9 462.3 L446.8 463.1 L446.7 463.7 L446.7 464.3 L446.7 465.0 L446.7 465.8 L446.6 466.7 L446.2 467.7 L446.6 468.3 L447.5 468.9 L447.9 469.9 L447.7 471.0 L447.2 471.8 L446.6 472.5 L445.9 473.1 L445.2 473.5 L444.3 473.8 L443.4 473.9 L442.5 473.8 L441.5 473.5 L440.7 473.4 L440.2 474.8 L439.3 475.5 L438.2 475.5 L437.4 474.8 L437.1 473.7 L437.5 472.0 L436.5 472.0 L435.6 471.7 L434.9 471.3 L434.2 470.9 L433.6 470.4 L432.9 469.9 L432.2 469.4 L431.5 468.8 L430.8 468.2 L429.8 468.8 L429.0 469.1 L428.2 469.3 L427.4 469.2 L426.6 469.0 L425.7 468.6 L424.8 467.7 L423.9 468.3 L423.1 469.0 L422.5 469.7 L422.1 470.5 L421.7 471.1 L421.1 471.4 L420.3 471.3 L419.6 471.0 L419.0 470.6 L418.4 470.3 L417.7 470.4 L417.0 470.2 L416.4 469.8 L415.9 469.3 L415.4 468.6 L415.1 467.9 L414.9 467.1 L414.8 466.3 L414.9 465.4 L414.3 464.8 L413.7 464.2 L413.3 463.5 L413.2 462.7 L413.4 461.9 L413.5 461.2 L412.7 460.5 L412.3 459.7 L412.2 458.9 L412.4 458.2 L412.8 457.4 L413.5 456.8 L413.9 456.1 L413.3 455.1 L413.2 454.2 L413.3 453.4 L413.6 452.6 L414.1 452.0 L414.8 451.4 L416.0 450.8 L416.1 450.0 L416.1 449.1 L416.0 448.3 L416.0 447.4 L416.0 446.6 L416.0 445.8 L416.0 445.0 L416.1 444.2 L416.1 443.4 L416.3 442.6 L416.4 441.8 L416.7 441.0 L416.3 440.2 L415.6 439.4 L415.2 438.6 L414.9 437.8 L414.7 437.0 L414.6 436.2 L414.7 435.4 L414.8 434.5 L415.1 433.8 L415.6 433.0 L416.2 432.3 L417.0 431.6 L416.3 430.7 L416.1 429.8 L416.2 429.0 L416.6 428.3 L417.2 427.7 L418.2 427.4 L418.6 426.7 L418.6 425.9 L418.9 425.1 L419.2 424.3 L419.6 423.7 L420.1 423.0 L420.7 422.4 L421.3 421.9 L421.9 421.4 L422.7 421.0 L423.4 420.5 L424.1 420.0 L423.5 418.6 L423.5 417.6 L423.8 416.8 L424.4 416.2 L425.4 416.0 L426.8 416.1 L427.2 415.4 L427.3 414.4 L427.6 413.6 L427.9 412.9 L428.4 412.2 L428.9 411.6 L429.6 411.1 L430.3 410.7 L431.1 410.4 L432.2 410.3 L432.5 409.5 L432.7 408.5 L433.1 407.8 L433.6 407.3 L434.4 406.9 L435.4 406.7 L435.9 406.1 L435.9 405.0 L436.3 404.2 L436.9 403.7 L437.9 403.6 L439.1 403.7 L439.1 402.5 L439.3 401.6 L439.6 400.8 L439.9 400.0 L440.4 399.3 L440.9 398.7 L441.6 398.2 L442.3 397.7 L443.1 397.4 L444.0 397.2 L444.9 397.3 L445.8 397.8 L446.2 396.8 L446.9 396.8Z" fill="#00ffff" stroke="#109898" stroke-width="0.6" stroke-linejoin="round"/>
<path d="M459.7 423.5 Q460.4 422.2 461.9 422.0 Q463.8 421.3 462.9 419.5 Q464.2 418.2 463.1 416.8 M439.1 464.5 Q440.8 463.5 440.9 461.6 Q441.7 459.3 444.0 460.1 M431.6 453.0 Q428.7 454.3 430.0 457.2 Q427.2 456.2 425.8 458.8 Q424.3 456.1 421.5 457.5 M449.8 409.1 L449.5 409.1 L449.2 409.2 L448.9 409.1 L448.6 409.0 L448.3 408.8 L448.0 408.6 L447.9 408.3 L447.9 408.1 L447.8 407.9 L447.7 407.7 L447.6 407.6 L447.4 407.4 L447.3 407.1 L447.1 406.8 L447.0 406.5 L446.9 406.2 L446.9 405.9 L446.9 405.7 M431.9 451.0 Q431.4 454.9 435.2 455.5 Q437.2 459.1 440.7 456.8 M428.9 428.0 L428.6 427.7 L428.1 427.2 L427.7 426.6 L427.2 426.0 L426.8 425.3 L426.5 424.6 L426.5 424.0 L426.7 423.3 L427.0 422.7 L427.4 422.1 L428.0 421.4 L428.6 420.9 L429.3 420.4 L430.0 420.0 L430.8 419.9 L431.6 420.1 L432.4 420.5 L432.9 420.8 M453.2 431.4 L453.2 431.2 L453.3 430.9 L453.4 430.6 L453.4 430.4 L453.4 430.1 L453.5 429.9 L453.7 429.6 L454.0 429.4 L454.2 429.1 L454.2 428.8 L454.1 428.5 L454.2 428.2 L454.4 428.1 L454.6 428.1 L454.9 428.0 L455.2 427.7 L455.6 427.4 L455.8 427.2 M455.8 430.3 L455.9 430.8 L456.0 431.5 L455.9 432.1 L455.7 432.8 L455.4 433.4 L455.0 433.9 L454.6 434.2 L454.1 434.3 L453.6 434.4 L453.0 434.7 L452.3 434.9 L451.7 434.9 L451.2 434.7 L450.8 434.4 L450.3 434.0 L449.8 433.5 L449.3 432.9 L448.9 432.5 M447.7 439.0 L447.1 438.9 L446.4 438.7 L445.6 438.4 L444.9 437.9 L444.3 437.3 L443.8 436.6 L443.6 436.1 L443.7 435.5 L443.7 434.9 L443.6 434.2 L443.4 433.5 L443.4 432.8 L443.6 432.2 L443.9 431.5 L444.2 430.9 L444.5 430.4 L444.7 429.8 L444.9 429.4 M438.6 426.0 L438.8 426.2 L439.1 426.5 L439.4 426.7 L439.5 426.9 L439.6 427.0 L439.7 427.2 L439.8 427.4 L439.9 427.6 L439.9 427.9 L440.0 428.1 L440.1 428.3 L440.1 428.5 L440.2 428.8 L440.2 429.0 L440.1 429.3 L440.1 429.6 L439.9 429.9 L439.8 430.1 M425.9 454.9 Q428.0 457.5 425.4 459.6 Q422.7 461.2 424.1 464.1 M439.3 430.0 L439.5 429.9 L439.9 429.9 L440.2 430.0 L440.4 430.3 L440.5 430.6 L440.6 430.9 L440.7 431.2 L440.8 431.5 L440.9 431.8 L441.1 432.1 L441.2 432.3 L441.3 432.6 L441.3 433.0 L441.2 433.3 L441.1 433.6 L440.8 433.9 L440.5 434.2 L440.3 434.4 M417.4 444.5 L417.2 444.5 L416.8 444.5 L416.5 444.5 L416.2 444.3 L416.0 444.0 L415.8 443.7 L415.7 443.3 L415.6 443.0 L415.5 442.6 L415.6 442.3 L415.7 442.0 L415.7 441.7 L415.8 441.3 L415.8 441.0 L415.9 440.7 L416.1 440.5 L416.4 440.3 L416.6 440.1 M452.3 443.0 L451.9 442.8 L451.3 442.6 L450.7 442.2 L450.3 441.8 L450.0 441.3 L449.7 440.7 L449.3 440.1 L448.9 439.5 L448.7 438.8 L448.9 438.1 L449.3 437.4 L449.8 436.8 L450.3 436.2 L450.8 435.7 L451.4 435.3 L452.0 435.2 L452.7 435.2 L453.2 435.2 M441.5 445.4 Q439.2 441.5 442.6 438.4 Q442.5 434.0 438.2 432.8 M440.0 449.9 Q438.2 453.9 434.1 452.4 Q430.9 454.0 427.8 452.1 M428.8 424.9 Q430.9 424.5 432.0 426.4 Q433.4 428.4 435.4 427.1 M420.6 428.3 L420.9 428.1 L421.4 427.9 L421.8 427.6 L422.1 427.2 L422.4 426.8 L422.8 426.5 L423.3 426.4 L423.8 426.4 L424.3 426.4 L424.8 426.5 L425.2 426.6 L425.6 426.7 L426.1 426.9 L426.5 427.1 L426.9 427.4 L427.3 427.7 L427.7 428.2 L427.9 428.5 M453.7 434.1 L453.5 433.9 L453.1 433.6 L452.7 433.3 L452.3 433.1 L451.8 432.9 L451.5 432.6 L451.4 432.2 L451.4 431.8 L451.5 431.4 L451.5 431.0 L451.4 430.6 L451.5 430.2 L451.6 429.8 L451.7 429.3 L451.9 428.9 L452.2 428.6 L452.5 428.3 L452.8 428.0" fill="none" stroke="#109898" stroke-width="0.5" stroke-linecap="round" opacity="0.7"/>
<path d="M425.7 527.1 L427.2 526.0 L428.3 526.1 L429.1 526.6 L429.4 527.4 L429.4 528.4 L428.8 529.8 L429.6 530.2 L430.6 530.5 L431.3 531.0 L431.7 531.6 L431.9 532.5 L431.7 533.6 L431.8 534.5 L432.7 534.9 L433.3 535.4 L433.6 536.2 L433.6 537.1 L434.6 537.4 L435.8 537.6 L436.2 538.3 L435.8 539.5 L436.1 540.3 L437.0 540.7 L436.9 541.8 L437.5 542.5 L438.5 542.7 L439.5 542.7 L440.3 542.6 L441.3 542.6 L442.5 542.9 L442.4 541.3 L442.9 540.4 L443.9 540.3 L443.7 541.3 L442.5 541.8 L442.9 542.6 L442.9 543.4 L442.6 544.2 L442.1 544.8 L441.4 545.2 L440.5 545.4 L440.7 546.5 L440.3 547.3 L439.6 547.7 L438.6 547.8 L438.5 548.9 L438.6 550.2 L438.3 551.0 L437.8 551.5 L436.9 551.7 L435.5 551.7 L435.2 552.5 L435.7 553.6 L435.6 554.2 L434.5 554.9 L433.7 555.9 L434.4 556.8 L435.1 557.5 L435.8 558.1 L436.5 558.8 L437.4 559.3 L438.4 559.3 L439.2 558.0 L439.9 557.4 L440.7 557.2 L441.5 557.5 L442.4 558.2 L443.3 559.2 L444.0 558.7 L444.8 558.5 L445.5 558.6 L445.8 559.1 L446.3 558.9 L446.9 559.4 L446.8 560.2 L446.3 560.9 L445.3 561.4 L445.5 562.3 L446.3 563.4 L446.5 564.3 L446.2 565.1 L445.3 565.7 L443.8 565.9 L444.3 567.0 L444.6 567.9 L443.9 568.5 L442.1 568.8 L442.8 569.9 L443.0 570.8 L443.0 571.6 L442.9 572.5 L443.0 573.9 L444.2 573.8 L445.1 573.7 L445.8 574.3 L445.6 575.2 L444.9 575.7 L443.8 575.9 L443.7 576.8 L443.7 577.8 L443.1 578.4 L442.0 578.4 L441.3 578.8 L441.1 579.7 L440.7 580.5 L440.2 581.1 L439.5 581.7 L438.7 582.2 L438.8 583.2 L439.5 584.5 L439.6 585.6 L439.1 586.4 L438.0 586.7 L436.6 586.3 L435.5 586.1 L435.1 586.9 L434.6 587.5 L433.9 587.9 L433.2 588.2 L432.3 588.3 L431.5 588.5 L431.4 589.9 L430.8 590.6 L430.0 590.7 L428.8 590.0 L428.7 591.8 L428.1 592.5 L426.9 591.7 L426.1 591.3 L425.4 592.1 L424.6 592.4 L423.8 592.2 L423.2 591.5 L423.0 590.6 L422.4 590.2 L421.0 590.3 L420.0 589.9 L419.4 589.3 L419.3 588.5 L419.6 587.4 L420.5 585.7 L419.2 585.6 L418.4 585.2 L417.8 584.6 L417.4 583.8 L416.4 583.9 L415.1 585.0 L414.5 584.5 L414.3 582.2 L413.0 583.9 L412.1 584.0 L411.6 582.9 L411.2 581.7 L410.1 582.4 L409.1 582.4 L408.4 581.9 L408.0 581.0 L408.2 579.6 L406.6 580.2 L405.5 580.3 L405.0 579.5 L405.5 577.9 L405.0 577.2 L404.0 577.1 L403.3 576.7 L402.7 576.1 L402.3 575.4 L402.2 574.5 L402.5 573.3 L401.0 573.4 L399.9 573.0 L399.4 572.3 L399.5 571.4 L400.1 570.2 L399.6 569.6 L398.3 569.4 L398.0 568.8 L398.6 567.2 L397.8 566.8 L396.7 566.9 L395.9 566.7 L395.3 566.2 L394.9 565.3 L394.7 564.2 L393.4 564.7 L392.6 564.3 L392.5 563.4 L393.5 562.8 L393.2 562.0 L392.8 560.9 L393.0 560.0 L393.4 559.3 L394.2 558.8 L395.2 558.6 L396.6 558.9 L396.6 557.7 L396.8 556.8 L397.1 556.1 L397.7 555.5 L398.4 555.1 L399.4 554.9 L400.4 554.8 L400.5 553.8 L400.9 553.1 L401.6 552.6 L402.4 552.3 L403.1 552.0 L402.9 550.4 L403.1 549.5 L403.6 548.9 L404.5 548.7 L405.8 548.9 L406.6 548.6 L406.8 547.6 L407.1 546.8 L407.6 546.2 L408.4 545.7 L409.4 545.3 L409.3 544.3 L409.1 543.3 L409.2 542.5 L409.5 541.7 L410.1 541.1 L411.1 540.7 L411.4 540.0 L410.9 538.8 L410.8 537.8 L411.1 537.0 L411.6 536.4 L412.5 536.0 L413.6 535.8 L414.3 535.3 L414.4 534.4 L415.2 534.1 L416.0 533.8 L416.2 533.0 L416.7 532.6 L417.4 532.7 L418.0 533.3 L418.8 532.6 L419.6 532.3 L420.5 532.2 L421.5 532.1 L422.7 531.7 L422.3 530.4 L422.0 529.4 L422.3 528.6 L423.5 528.2 L424.1 527.7 L423.9 526.7 L424.2 525.9 L424.9 525.6 L425.7 525.9Z" fill="#00ffff" stroke="#109898" stroke-width="0.6" stroke-linejoin="round"/>
<path d="M432.7 582.6 L432.8 582.6 L432.9 582.8 L433.1 582.9 L433.3 583.2 L433.5 583.4 L433.7 583.7 L433.9 583.9 L434.1 584.1 L434.2 584.3 L434.4 584.5 L434.5 584.8 L434.5 585.1 L434.5 585.3 L434.5 585.6 L434.4 585.8 L434.3 586.1 L434.2 586.3 L434.1 586.5 M432.2 562.1 Q433.9 562.9 433.1 564.6 Q434.5 565.3 434.6 566.8 Q435.6 568.1 434.7 569.5 M412.2 557.9 L412.2 557.9 L412.0 558.0 L411.9 558.1 L411.6 558.3 L411.4 558.5 L411.1 558.6 L410.9 558.6 L410.7 558.5 L410.5 558.5 L410.2 558.5 L409.9 558.5 L409.7 558.5 L409.5 558.4 L409.2 558.4 L409.0 558.2 L408.9 558.0 L408.7 557.8 L408.6 557.6 M439.2 581.3 L439.1 581.5 L439.0 581.7 L438.9 582.0 L438.7 582.2 L438.4 582.4 L438.2 582.6 L438.0 582.8 L437.8 583.0 L437.7 583.2 L437.4 583.4 L437.2 583.5 L437.0 583.6 L436.7 583.5 L436.5 583.5 L436.2 583.4 L435.9 583.4 L435.6 583.5 L435.4 583.5 M439.4 544.7 Q439.2 545.8 438.2 546.1 Q437.4 547.0 436.4 546.4 Q435.3 546.4 434.9 547.4 M423.9 556.0 L423.8 555.8 L423.8 555.6 L423.7 555.4 L423.7 555.1 L423.8 554.9 L423.8 554.7 L423.9 554.4 L424.1 554.2 L424.2 554.0 L424.3 553.8 L424.4 553.7 L424.4 553.5 L424.6 553.3 L424.8 553.2 L424.9 553.0 L425.0 552.7 L425.1 552.4 L425.2 552.2 M425.7 575.1 L426.0 575.2 L426.4 575.4 L426.8 575.5 L427.1 575.6 L427.4 575.7 L427.6 575.9 L427.7 576.2 L427.9 576.6 L428.0 577.0 L428.0 577.3 L428.0 577.7 L427.9 578.0 L427.8 578.3 L427.6 578.5 L427.3 578.7 L427.0 578.9 L426.6 579.0 L426.3 579.1 M418.1 582.1 Q418.7 581.8 419.4 582.0 Q420.1 582.2 420.5 581.5 Q421.2 581.3 421.7 581.9 M435.9 570.1 L436.0 570.3 L436.1 570.6 L436.3 570.8 L436.3 571.1 L436.2 571.4 L436.2 571.7 L436.0 572.0 L435.9 572.2 L435.7 572.5 L435.6 572.7 L435.5 572.9 L435.4 573.1 L435.1 573.3 L434.8 573.5 L434.5 573.6 L434.2 573.5 L433.9 573.4 L433.7 573.3 M435.6 540.7 L435.4 541.0 L435.1 541.4 L434.8 541.8 L434.4 542.1 L434.0 542.2 L433.5 542.4 L433.1 542.4 L432.6 542.4 L432.2 542.4 L431.8 542.2 L431.4 542.0 L431.1 541.8 L430.7 541.4 L430.4 540.9 L430.3 540.4 L430.4 539.9 L430.7 539.4 L430.9 539.1 M444.4 565.8 L444.2 565.9 L444.0 565.9 L443.8 566.0 L443.5 566.0 L443.3 566.1 L443.1 566.0 L442.9 565.9 L442.7 565.6 L442.5 565.4 L442.3 565.3 L442.2 565.3 L442.0 565.2 L441.8 565.2 L441.6 565.1 L441.5 565.0 L441.3 564.9 L441.2 564.7 L441.1 564.6 M402.9 560.7 L403.1 560.4 L403.5 559.9 L403.9 559.6 L404.3 559.6 L404.7 559.7 L405.1 559.8 L405.5 559.8 L405.9 559.9 L406.2 560.0 L406.6 560.2 L407.1 560.5 L407.4 560.9 L407.6 561.3 L407.7 561.7 L407.8 562.1 L407.7 562.6 L407.5 563.0 L407.4 563.4 M435.7 571.9 Q436.3 570.4 435.3 569.3 Q434.9 567.4 436.7 567.0 Q438.3 566.3 437.9 564.7 M422.2 585.2 Q423.7 583.8 422.6 582.0 Q424.1 580.2 422.2 578.8 M431.9 540.6 L431.5 540.6 L431.0 540.5 L430.6 540.4 L430.3 540.2 L430.0 539.9 L429.7 539.6 L429.5 539.3 L429.2 538.9 L429.1 538.5 L429.0 538.1 L429.0 537.6 L429.1 537.2 L429.3 536.8 L429.5 536.4 L429.8 536.0 L430.2 535.7 L430.6 535.5 L430.9 535.4 M421.5 550.0 L421.7 550.2 L422.0 550.4 L422.3 550.7 L422.6 550.9 L422.9 551.2 L423.1 551.5 L423.3 551.9 L423.4 552.3 L423.5 552.7 L423.6 553.1 L423.7 553.5 L423.7 553.9 L423.5 554.2 L423.2 554.6 L422.9 555.0 L422.7 555.4 L422.5 555.7 L422.3 555.9 M418.9 571.1 L419.0 571.0 L419.3 570.8 L419.5 570.6 L419.7 570.6 L420.0 570.6 L420.2 570.7 L420.4 570.7 L420.6 570.8 L420.8 570.9 L421.0 571.0 L421.2 571.1 L421.4 571.3 L421.5 571.5 L421.7 571.6 L421.8 571.8 L421.8 572.1 L421.8 572.3 L421.8 572.5 M433.4 552.5 L433.6 552.7 L433.8 553.1 L433.9 553.4 L434.0 553.7 L434.0 554.0 L434.0 554.4 L433.9 554.7 L433.8 555.1 L433.6 555.4 L433.5 555.7 L433.4 556.0 L433.2 556.2 L433.0 556.4 L432.6 556.5 L432.3 556.6 L431.9 556.6 L431.5 556.5 L431.2 556.5 M432.3 573.0 L432.5 572.7 L432.8 572.3 L433.1 572.0 L433.4 571.7 L433.8 571.5 L434.2 571.5 L434.5 571.5 L434.9 571.7 L435.3 572.0 L435.6 572.2 L435.8 572.4 L436.0 572.7 L436.2 573.1 L436.4 573.5 L436.4 573.9 L436.3 574.3 L436.1 574.7 L436.0 575.0 M437.7 564.8 L437.5 565.0 L437.3 565.3 L437.1 565.6 L437.1 565.9 L437.1 566.2 L437.1 566.5 L436.8 566.7 L436.6 567.0 L436.3 567.2 L436.0 567.2 L435.8 567.2 L435.5 567.2 L435.2 567.3 L434.9 567.5 L434.6 567.6 L434.3 567.6 L434.0 567.4 L433.8 567.3 M431.8 565.1 Q431.3 565.8 431.8 566.5 Q432.3 567.4 431.4 567.9 Q431.2 568.7 430.3 568.8 M419.1 570.3 L419.3 570.3 L419.6 570.3 L419.9 570.3 L420.1 570.4 L420.2 570.5 L420.4 570.7 L420.6 570.9 L420.9 571.1 L421.0 571.4 L421.0 571.7 L420.9 572.0 L420.8 572.3 L420.9 572.5 L421.0 572.7 L421.1 573.0 L421.2 573.3 L421.2 573.6 L421.1 573.8 M440.4 566.6 L440.5 566.8 L440.7 566.9 L440.8 567.1 L440.8 567.3 L440.8 567.4 L440.8 567.6 L440.7 567.8 L440.5 568.0 L440.5 568.1 L440.4 568.2 L440.4 568.3 L440.4 568.5 L440.3 568.6 L440.1 568.7 L440.0 568.9 L439.9 569.0 L439.7 569.0 L439.6 569.1 M408.9 573.5 Q411.6 574.2 410.8 576.8 Q411.8 578.9 414.1 578.7 M412.9 576.5 L412.7 576.5 L412.5 576.6 L412.3 576.6 L412.1 576.6 L411.9 576.5 L411.7 576.5 L411.5 576.4 L411.3 576.3 L411.1 576.1 L411.0 576.0 L410.9 575.8 L410.8 575.5 L410.8 575.3 L410.8 575.1 L410.8 574.9 L410.9 574.6 L411.0 574.4 L411.0 574.3 M428.5 538.1 L428.6 538.3 L428.7 538.5 L428.7 538.7 L428.8 538.8 L428.8 538.9 L428.9 539.1 L428.9 539.2 L428.9 539.4 L428.9 539.6 L428.9 539.7 L428.9 539.9 L428.8 540.1 L428.8 540.3 L428.8 540.4 L428.7 540.6 L428.6 540.7 L428.4 540.8 L428.3 540.9 M421.8 538.6 L421.6 538.6 L421.3 538.6 L421.0 538.5 L420.7 538.3 L420.4 538.1 L420.2 537.9 L420.1 537.7 L420.0 537.4 L419.9 537.2 L419.8 536.9 L419.7 536.6 L419.7 536.3 L419.8 536.0 L420.1 535.7 L420.3 535.5 L420.5 535.3 L420.7 535.2 L420.8 535.1 M422.6 538.6 L422.7 538.8 L422.8 539.0 L422.9 539.2 L423.1 539.5 L423.3 539.8 L423.4 540.0 L423.3 540.3 L423.1 540.6 L423.0 540.9 L423.0 541.1 L423.1 541.4 L423.0 541.6 L422.9 541.9 L422.7 542.1 L422.5 542.3 L422.2 542.5 L421.9 542.5 L421.6 542.6 M431.4 538.6 L431.2 538.5 L430.9 538.5 L430.5 538.5 L430.3 538.6 L430.1 538.7 L429.8 538.8 L429.6 538.7 L429.3 538.6 L429.0 538.5 L428.8 538.4 L428.6 538.3 L428.4 538.3 L428.1 538.2 L427.9 538.1 L427.6 538.0 L427.4 537.9 L427.2 537.7 L427.1 537.5 M428.1 589.8 Q429.2 588.9 429.0 587.4 Q430.5 587.2 430.8 585.6 M443.4 558.7 Q442.3 558.6 441.6 559.5 Q441.7 560.6 440.8 561.3 M415.8 549.8 L415.9 550.0 L415.9 550.3 L415.8 550.6 L415.7 550.9 L415.4 551.2 L415.2 551.5 L414.9 551.8 L414.7 552.0 L414.5 552.2 L414.3 552.3 L414.0 552.5 L413.8 552.5 L413.5 552.5 L413.2 552.5 L412.8 552.4 L412.5 552.4 L412.1 552.4 L411.9 552.4 M425.5 540.1 L425.3 540.1 L424.9 540.2 L424.5 540.3 L424.2 540.3 L423.8 540.2 L423.5 540.1 L423.1 539.9 L422.8 539.7 L422.5 539.4 L422.2 539.0 L422.0 538.6 L421.9 538.3 L421.9 537.9 L422.0 537.6 L422.1 537.2 L422.2 536.8 L422.2 536.5 L422.3 536.2 M419.4 572.3 L419.5 572.0 L419.6 571.6 L419.8 571.2 L420.1 570.9 L420.5 570.7 L420.9 570.5 L421.4 570.3 L421.9 570.2 L422.3 570.2 L422.8 570.3 L423.3 570.5 L423.8 570.7 L424.1 570.9 L424.4 571.1 L424.6 571.3 L424.9 571.8 L425.2 572.3 L425.4 572.6 M427.0 541.9 L427.2 542.1 L427.5 542.4 L427.8 542.7 L427.9 542.9 L428.0 543.1 L428.1 543.2 L428.1 543.5 L428.2 543.8 L428.2 544.1 L428.1 544.4 L428.0 544.6 L427.9 544.8 L427.8 545.1 L427.8 545.4 L427.7 545.6 L427.4 545.8 L427.1 545.9 L426.8 546.0 M428.4 554.8 L428.5 554.9 L428.6 555.0 L428.7 555.1 L428.8 555.2 L428.9 555.2 L428.9 555.3 L429.0 555.5 L429.1 555.6 L429.2 555.8 L429.3 555.9 L429.4 556.1 L429.4 556.2 L429.3 556.4 L429.2 556.5 L429.1 556.6 L429.1 556.8 L429.2 557.0 L429.2 557.1 M412.1 572.2 L411.7 572.1 L411.3 571.9 L410.8 571.7 L410.3 571.4 L409.8 571.0 L409.5 570.6 L409.2 570.1 L409.0 569.5 L409.0 569.0 L409.2 568.5 L409.5 567.9 L409.9 567.5 L410.1 567.0 L410.3 566.7 L410.6 566.4 L411.1 566.2 L411.8 566.1 L412.2 566.0 M430.1 535.3 L430.0 535.5 L429.8 535.6 L429.6 535.7 L429.4 535.8 L429.2 535.8 L429.0 535.8 L428.9 535.9 L428.7 536.1 L428.5 536.2 L428.3 536.2 L428.1 536.3 L427.9 536.3 L427.7 536.1 L427.5 535.9 L427.4 535.8 L427.2 535.7 L427.0 535.8 L426.9 535.8 M424.5 535.4 L424.3 535.5 L424.0 535.5 L423.7 535.4 L423.5 535.2 L423.4 535.0 L423.2 534.7 L423.1 534.5 L423.0 534.3 L422.9 534.1 L422.9 533.9 L422.8 533.7 L422.7 533.4 L422.7 533.2 L422.7 532.9 L422.7 532.7 L422.8 532.5 L423.0 532.2 L423.1 532.1 M423.1 540.8 L423.1 540.6 L423.2 540.4 L423.4 540.2 L423.7 540.0 L424.0 539.9 L424.3 539.8 L424.6 539.7 L424.8 539.6 L425.1 539.6 L425.3 539.6 L425.6 539.7 L425.9 539.8 L426.2 539.8 L426.5 539.9 L426.8 540.0 L427.0 540.2 L427.1 540.5 L427.2 540.7 M403.7 563.6 L403.9 563.5 L404.0 563.4 L404.1 563.2 L404.2 563.0 L404.3 562.8 L404.4 562.6 L404.6 562.5 L404.8 562.5 L405.0 562.5 L405.1 562.3 L405.3 562.1 L405.5 562.0 L405.6 562.0 L405.8 561.9 L406.0 561.9 L406.3 562.0 L406.5 562.0 L406.7 562.1 M422.6 564.0 Q422.9 562.8 421.8 562.1 Q420.6 562.2 419.8 561.2 M414.6 546.2 Q414.4 548.4 412.6 549.5 Q413.5 552.0 410.9 552.9 M424.3 548.9 L424.1 549.0 L423.9 549.3 L423.7 549.4 L423.5 549.5 L423.3 549.6 L423.1 549.7 L422.8 549.8 L422.5 549.9 L422.3 550.0 L422.1 550.0 L421.8 549.9 L421.6 549.8 L421.4 549.6 L421.1 549.4 L420.9 549.1 L420.8 548.9 L420.7 548.6 L420.6 548.5 M426.3 530.7 Q426.3 529.3 425.1 528.7 Q423.6 528.1 423.9 526.6" fill="none" stroke="#109898" stroke-width="0.5" stroke-linecap="round" opacity="0.7"/>
<g transform="translate(432.0,-3.8)">
<g fill="#c6dcc2" stroke="#8a8a8a" stroke-width="1.1"><circle cx="158.3" cy="392.8" r="3.3"/><circle cx="160.3" cy="397.5" r="3.9"/><circle cx="156.2" cy="400.5" r="3.2"/><circle cx="162" cy="401.5" r="2.8"/><circle cx="153" cy="402.5" r="2.4"/></g>
<g fill="#c6dcc2"><circle cx="158.3" cy="392.8" r="3.3"/><circle cx="160.3" cy="397.5" r="3.9"/><circle cx="156.2" cy="400.5" r="3.2"/><circle cx="162" cy="401.5" r="2.8"/><circle cx="153" cy="402.5" r="2.4"/></g>
<g fill="#f8c6f5" stroke="#d660d6" stroke-width="1.1"><circle cx="144.6" cy="405.6" r="3.6"/><circle cx="149.5" cy="405.2" r="4.3"/><circle cx="154.5" cy="404.6" r="4.2"/><circle cx="159.5" cy="404.8" r="4.0"/><circle cx="163" cy="405.2" r="3.0"/><circle cx="147" cy="407" r="3.2"/></g>
<g fill="#f8c6f5"><circle cx="144.6" cy="405.6" r="3.6"/><circle cx="149.5" cy="405.2" r="4.3"/><circle cx="154.5" cy="404.6" r="4.2"/><circle cx="159.5" cy="404.8" r="4.0"/><circle cx="163" cy="405.2" r="3.0"/><circle cx="147" cy="407" r="3.2"/></g>
</g>
<path d="M545.8 387.2 L545.8 386.9 L545.8 386.6 L545.9 386.2 L545.9 385.7 L546.0 385.2 L546.2 384.7 L546.5 384.2 L547.0 383.7 L547.7 383.2 L548.6 382.6 L549.7 382.0 L550.8 381.4 L552.0 380.8 L553.2 380.4 L554.3 380.1 L555.3 380.0 L556.2 380.2 L557.1 380.6 L557.9 381.2 L558.8 381.9 L559.6 382.6 L560.4 383.3 L561.2 383.8 L562.0 384.2 L562.9 384.3 L563.7 384.3 L564.6 384.1 L565.5 383.9 L566.4 383.7 L567.2 383.6 L568.0 383.6 L568.7 383.7 L569.4 384.0 L570.0 384.4 L570.6 385.0 L571.2 385.6 L571.6 386.2 L572.0 386.9 L572.3 387.6 L572.5 388.3 L572.5 389.1 L572.5 389.9 L572.3 390.8 L572.0 391.7 L571.7 392.6 L571.2 393.5 L570.8 394.3 L570.3 395.0 L569.7 395.6 L569.0 396.0 L568.2 396.4 L567.3 396.8 L566.5 397.1 L565.7 397.4 L565.0 397.8 L564.5 398.3 L564.1 398.8 L563.9 399.4 L563.7 400.0 L563.5 400.7 L563.5 401.3 L563.4 402.0 L563.4 402.6 L563.3 403.3 L563.2 404.0 L563.2 404.7 L563.2 405.5 L563.2 406.3 L563.2 407.1 L563.2 407.7 L563.2 408.3 L563.2 408.7" fill="none" stroke="#b07a18" stroke-width="2.3" stroke-linecap="round" stroke-linejoin="round"/>
<path d="M545.8 387.2 L545.8 386.9 L545.8 386.6 L545.9 386.2 L545.9 385.7 L546.0 385.2 L546.2 384.7 L546.5 384.2 L547.0 383.7 L547.7 383.2 L548.6 382.6 L549.7 382.0 L550.8 381.4 L552.0 380.8 L553.2 380.4 L554.3 380.1 L555.3 380.0 L556.2 380.2 L557.1 380.6 L557.9 381.2 L558.8 381.9 L559.6 382.6 L560.4 383.3 L561.2 383.8 L562.0 384.2 L562.9 384.3 L563.7 384.3 L564.6 384.1 L565.5 383.9 L566.4 383.7 L567.2 383.6 L568.0 383.6 L568.7 383.7 L569.4 384.0 L570.0 384.4 L570.6 385.0 L571.2 385.6 L571.6 386.2 L572.0 386.9 L572.3 387.6 L572.5 388.3 L572.5 389.1 L572.5 389.9 L572.3 390.8 L572.0 391.7 L571.7 392.6 L571.2 393.5 L570.8 394.3 L570.3 395.0 L569.7 395.6 L569.0 396.0 L568.2 396.4 L567.3 396.8 L566.5 397.1 L565.7 397.4 L565.0 397.8 L564.5 398.3 L564.1 398.8 L563.9 399.4 L563.7 400.0 L563.5 400.7 L563.5 401.3 L563.4 402.0 L563.4 402.6 L563.3 403.3 L563.2 404.0 L563.2 404.7 L563.2 405.5 L563.2 406.3 L563.2 407.1 L563.2 407.7 L563.2 408.3 L563.2 408.7" fill="none" stroke="#fcab08" stroke-width="1.5" stroke-linecap="round" stroke-linejoin="round"/>
<rect x="955.1" y="478.0" width="4.2" height="58.0" fill="#a6fea6" />
<rect x="892.9" y="470.0" width="4.3" height="68.0" fill="#00ffff" />
<path d="M825.1 389.2 L823.9 388.3 L823.4 387.4 L823.2 386.5 L823.3 385.7 L823.5 384.9 L823.9 384.2 L824.6 383.6 L825.4 383.1 L826.5 382.8 L826.8 382.1 L826.6 381.1 L826.7 380.1 L827.1 379.4 L827.7 378.8 L828.4 378.4 L829.4 378.3 L830.6 378.5 L830.8 377.5 L830.9 376.4 L831.2 375.5 L831.5 374.6 L831.9 373.9 L832.4 373.3 L832.9 372.8 L833.4 372.3 L834.0 371.9 L834.8 371.5 L835.6 371.0 L836.5 370.5 L837.4 369.8 L835.9 368.7 L835.2 367.7 L835.0 366.9 L835.1 366.2 L835.7 365.4 L836.8 364.7 L838.7 364.3 L838.0 363.4 L837.7 362.6 L837.9 361.8 L838.3 361.0 L839.1 360.5 L840.0 360.4 L840.8 360.5 L841.6 360.7 L842.4 361.1 L843.2 361.6 L844.0 362.3 L844.7 361.9 L845.6 361.2 L846.4 360.7 L847.3 360.4 L848.1 360.4 L848.9 360.5 L849.6 360.8 L850.4 361.3 L851.1 362.0 L851.8 363.0 L852.7 363.1 L853.5 362.7 L854.3 362.5 L855.2 362.5 L856.0 362.6 L856.8 362.9 L857.8 363.4 L858.5 362.3 L859.1 361.4 L859.7 360.7 L860.2 360.1 L860.8 359.5 L861.4 359.1 L862.2 358.8 L863.0 358.5 L863.9 358.4 L864.8 358.5 L865.9 358.9 L866.4 358.1 L866.7 356.9 L867.2 356.2 L867.9 355.7 L868.7 355.6 L869.7 355.8 L871.0 356.7 L871.3 355.3 L871.6 354.2 L872.1 353.3 L872.8 352.6 L873.6 352.2 L874.4 352.0 L875.3 352.0 L876.3 352.2 L877.2 352.8 L878.0 353.8 L878.8 354.1 L879.7 353.0 L880.6 352.4 L881.4 352.2 L882.2 352.5 L882.9 353.2 L883.5 354.3 L884.2 355.4 L885.1 354.7 L886.0 354.4 L886.8 354.2 L887.6 354.2 L888.4 354.5 L889.3 354.9 L890.3 355.6 L890.9 354.6 L891.6 353.9 L892.3 353.4 L893.0 353.0 L893.8 352.7 L894.6 352.5 L895.4 352.5 L896.2 352.5 L897.1 352.8 L898.1 353.2 L898.7 352.7 L899.3 351.9 L900.0 351.2 L900.7 350.7 L901.5 350.3 L902.3 350.0 L903.1 349.9 L904.0 349.8 L904.8 349.9 L905.6 350.1 L906.4 350.4 L907.2 350.8 L907.9 351.4 L908.6 352.2 L909.3 352.7 L910.2 352.4 L911.0 352.2 L911.8 352.3 L912.6 352.4 L913.4 352.7 L914.1 353.1 L914.8 353.8 L915.8 353.0 L916.7 352.5 L917.5 352.2 L918.3 352.1 L919.1 352.1 L919.9 352.3 L920.7 352.6 L921.7 353.2 L922.6 353.6 L923.3 352.9 L924.0 352.4 L924.7 351.9 L925.4 351.5 L926.1 351.2 L926.9 351.0 L927.7 351.0 L928.4 351.1 L929.1 351.4 L929.8 351.8 L930.4 352.3 L930.9 353.2 L931.7 353.0 L932.6 353.0 L933.4 353.2 L934.1 353.4 L934.9 353.6 L935.6 353.9 L936.3 354.3 L937.0 354.7 L937.7 355.1 L938.3 355.6 L939.0 356.1 L939.6 356.6 L940.2 357.2 L940.8 357.8 L941.2 358.6 L941.9 358.9 L942.8 359.0 L943.6 359.2 L944.4 359.5 L945.1 359.8 L945.8 360.2 L946.4 360.7 L947.1 361.2 L947.6 361.8 L948.2 362.4 L948.7 363.1 L949.1 363.9 L950.3 363.6 L951.4 363.3 L952.4 363.3 L953.3 363.5 L954.0 363.8 L954.7 364.3 L955.2 364.9 L955.7 365.7 L956.0 366.6 L956.1 367.8 L956.4 368.8 L957.3 369.0 L958.1 369.2 L958.8 369.5 L959.6 369.8 L960.3 370.2 L961.0 370.6 L961.6 371.1 L962.3 371.6 L962.9 372.1 L963.5 372.6 L964.0 373.2 L964.6 373.8 L965.1 374.5 L965.6 375.2 L965.9 376.0 L967.1 375.8 L968.0 375.9 L968.8 376.2 L969.4 376.7 L969.9 377.4 L970.2 378.2 L970.0 379.6 L971.2 379.5 L972.0 379.7 L972.8 380.0 L973.6 380.4 L974.2 380.9 L974.9 381.4 L975.4 382.0 L976.0 382.6 L976.4 383.2 L976.9 383.9 L977.2 384.7 L977.5 385.5 L977.7 386.3 L977.8 387.2 L978.6 387.6 L980.0 387.6 L981.0 387.9 L981.7 388.4 L982.3 389.1 L982.6 389.9 L982.7 390.8 L982.5 391.8 L981.9 392.9 L981.2 393.9 L982.0 394.5 L982.5 395.1 L982.9 395.8 L983.1 396.6 L983.2 397.4 L983.0 398.2 L982.7 399.1 L983.3 399.8 L984.2 400.4 L984.8 401.1 L985.1 401.9 L985.1 402.7 L984.9 403.6 L984.4 404.4 L983.4 405.4 L984.7 406.0 L985.4 406.7 L985.9 407.5 L986.2 408.2 L986.4 409.0 L986.3 409.8 L986.1 410.7 L985.7 411.5 L984.9 412.5 L985.6 413.2 L986.5 413.9 L987.1 414.6 L987.6 415.3 L988.0 416.1 L988.3 416.8 L988.5 417.6 L988.6 418.5 L988.6 419.3 L988.4 420.1 L988.1 420.9 L987.7 421.8 L987.2 422.6 L986.3 423.4 L986.8 424.2 L987.8 425.0 L988.4 425.9 L988.6 426.8 L988.4 427.6 L988.0 428.4 L987.2 429.0 L986.0 429.6 L985.5 430.3 L986.2 431.3 L986.6 432.2 L986.9 433.1 L987.0 433.9 L986.9 434.7 L986.8 435.4 L986.5 436.2 L986.1 436.9 L985.6 437.6 L985.0 438.4 L984.1 439.3 L983.9 440.2 L984.6 441.0 L985.1 441.7 L985.6 442.4 L986.0 443.1 L986.3 443.8 L986.6 444.6 L986.8 445.4 L986.9 446.2 L986.9 447.0 L986.8 447.8 L986.5 448.6 L986.0 449.2 L986.9 449.9 L987.3 450.8 L987.4 451.6 L987.4 452.4 L987.2 453.2 L986.8 453.9 L986.3 454.6 L985.6 455.2 L984.7 455.6 L983.7 456.0 L984.0 457.0 L984.0 457.9 L983.9 458.8 L983.7 459.6 L983.4 460.3 L983.0 461.0 L982.6 461.7 L982.1 462.4 L981.5 463.0 L980.8 463.5 L980.0 464.1 L980.5 465.1 L981.2 466.3 L981.5 467.3 L981.3 468.1 L980.8 468.8 L979.8 469.2 L978.3 469.4 L978.2 470.2 L978.8 471.5 L978.8 472.6 L978.4 473.4 L977.6 473.9 L976.5 474.0 L975.0 473.5 L974.0 473.6 L973.7 474.4 L973.3 475.1 L972.7 475.7 L972.0 476.1 L971.3 476.4 L970.5 476.5 L969.6 476.4 L968.7 476.4 L968.2 477.2 L967.6 477.8 L967.0 478.3 L966.3 478.7 L965.6 479.1 L964.8 479.4 L964.1 479.6 L963.3 479.7 L962.5 479.7 L961.7 479.7 L960.9 479.5 L960.1 479.2 L959.3 479.3 L958.6 479.9 L957.8 480.2 L957.1 480.5 L956.3 480.5 L955.5 480.5 L954.7 480.3 L953.9 480.1 L953.2 479.7 L952.5 479.1 L951.9 478.2 L950.9 478.9 L950.0 479.1 L949.2 479.3 L948.4 479.2 L947.6 479.1 L946.8 478.9 L946.1 478.5 L945.3 478.0 L944.6 477.3 L943.8 477.5 L942.9 478.0 L942.1 478.3 L941.2 478.4 L940.4 478.5 L939.6 478.5 L938.8 478.3 L938.0 478.0 L937.3 477.6 L936.6 477.1 L936.0 476.4 L935.6 475.5 L934.8 475.6 L933.9 475.7 L933.0 475.5 L932.3 474.9 L931.8 474.2 L931.5 473.4 L931.4 472.6 L931.3 471.8 L931.3 470.9 L931.3 469.9 L931.5 468.5 L930.3 468.4 L929.4 468.3 L928.6 468.0 L927.8 467.6 L927.2 467.1 L926.7 466.5 L926.3 465.8 L926.1 464.9 L926.2 464.0 L926.0 463.5 L925.6 463.1 L925.3 462.6 L925.2 462.0 L925.3 461.3 L925.5 460.6 L925.8 459.9 L926.1 459.2 L926.6 458.6 L927.0 457.9 L927.6 457.3 L928.1 456.7 L928.8 456.2 L929.5 455.6 L929.4 454.6 L929.3 453.6 L929.3 452.7 L929.4 451.9 L929.5 451.1 L929.6 450.3 L929.9 449.5 L930.2 448.8 L930.5 448.0 L931.0 447.3 L931.5 446.6 L932.1 446.0 L933.0 445.4 L932.7 444.5 L932.3 443.5 L932.1 442.7 L932.1 441.8 L932.3 441.1 L932.6 440.3 L933.1 439.6 L933.8 439.0 L935.1 438.4 L934.1 437.4 L933.7 436.5 L933.5 435.6 L933.4 434.8 L933.3 433.9 L933.4 433.1 L933.7 432.4 L934.0 431.6 L934.5 430.9 L935.1 430.2 L935.8 429.6 L936.6 429.0 L935.6 427.9 L935.1 426.9 L934.9 425.9 L934.8 425.0 L935.0 424.2 L935.3 423.4 L935.8 422.8 L936.4 422.1 L937.2 421.6 L938.2 421.2 L939.6 420.9 L939.6 420.0 L939.2 419.0 L939.1 418.1 L938.9 417.2 L938.9 416.4 L938.8 415.6 L938.8 414.9 L938.9 414.1 L939.0 413.3 L939.2 412.6 L939.5 411.8 L939.8 411.0 L940.1 410.2 L940.6 409.2 L941.3 408.1 L940.1 407.5 L939.2 406.9 L938.4 406.5 L937.6 406.2 L936.9 406.1 L936.1 405.9 L935.4 405.7 L934.6 405.5 L933.9 405.2 L933.1 404.9 L932.4 404.4 L931.7 403.8 L931.2 402.9 L930.3 403.3 L929.3 403.8 L928.4 404.0 L927.5 404.0 L926.8 403.8 L926.0 403.4 L925.4 402.8 L924.8 402.1 L924.2 401.0 L923.4 400.7 L922.5 401.2 L921.6 401.5 L920.8 401.8 L920.0 402.0 L919.2 402.1 L918.4 402.2 L917.6 402.2 L916.8 402.1 L916.0 402.0 L915.2 401.8 L914.4 401.5 L913.6 401.2 L912.8 400.7 L912.1 400.1 L911.4 399.2 L910.6 399.5 L909.8 399.7 L909.0 399.8 L908.2 399.8 L907.4 399.5 L906.6 399.2 L905.8 398.7 L905.0 398.9 L904.1 399.9 L903.3 400.6 L902.6 401.1 L901.9 401.5 L901.2 401.6 L900.4 401.7 L899.6 401.5 L898.7 401.2 L897.7 400.7 L896.4 399.4 L896.0 400.9 L895.5 401.8 L895.0 402.5 L894.4 403.1 L893.7 403.7 L893.1 404.1 L892.4 404.5 L891.6 404.7 L890.8 404.9 L890.0 405.0 L889.1 405.0 L888.1 404.9 L887.1 404.6 L886.4 405.1 L886.3 406.5 L886.0 407.5 L885.5 408.2 L884.8 408.6 L884.0 408.8 L883.0 408.7 L881.6 408.2 L880.9 408.6 L880.8 409.8 L880.7 410.8 L880.5 411.6 L880.2 412.4 L879.7 413.0 L879.2 413.6 L878.6 414.1 L877.8 414.5 L876.8 414.8 L875.6 414.9 L875.1 415.5 L875.2 416.6 L875.0 417.5 L874.5 418.1 L873.8 418.6 L872.9 418.7 L871.7 418.5 L871.2 419.2 L870.9 420.0 L870.5 420.8 L870.0 421.5 L869.4 422.1 L868.8 422.6 L868.1 423.0 L867.4 423.4 L866.7 423.7 L865.9 424.0 L865.0 424.1 L864.1 424.2 L863.1 423.8 L862.7 424.6 L862.3 425.2 L861.7 425.5 L861.0 425.7 L860.3 425.8 L859.6 425.7 L858.9 425.5 L858.2 425.1 L857.5 424.7 L856.9 424.2 L856.3 423.6 L855.8 423.0 L855.3 422.3 L854.5 422.0 L853.4 422.3 L852.5 422.3 L851.6 422.2 L850.8 422.0 L850.0 421.6 L849.3 421.2 L848.7 420.6 L848.2 419.9 L847.8 419.2 L847.5 418.3 L847.3 417.2 L846.9 416.4 L846.1 416.1 L845.3 415.8 L844.6 415.5 L843.9 415.1 L843.2 414.6 L842.6 414.2 L842.0 413.7 L841.4 413.1 L840.8 412.5 L840.3 411.9 L839.9 411.3 L839.4 410.6 L839.0 409.9 L838.7 409.0 L837.9 408.8 L837.1 408.5 L836.3 408.1 L835.7 407.6 L835.1 407.0 L834.6 406.4 L834.2 405.7 L833.8 404.9 L833.6 404.1 L833.1 403.4 L832.2 403.2 L831.5 402.8 L830.8 402.3 L830.1 401.9 L829.5 401.3 L829.0 400.7 L828.5 400.1 L828.0 399.5 L827.6 398.7 L827.3 398.0 L827.1 397.2 L827.0 396.3 L826.6 395.6 L825.8 395.3 L825.1 394.8 L824.5 394.2 L824.1 393.5 L823.8 392.8 L823.6 392.1 L823.7 391.3 L823.9 390.6 L824.3 389.9Z" fill="#a6fea6" stroke="#4f8a4f" stroke-width="0.6" stroke-linejoin="round"/>
<path d="M849.7 417.7 L849.4 417.7 L849.0 417.7 L848.5 417.7 L848.2 417.5 L848.0 417.3 L847.7 417.1 L847.3 416.9 L847.0 416.7 L846.7 416.4 L846.5 416.1 L846.4 415.7 L846.4 415.3 L846.3 414.9 L846.3 414.6 L846.4 414.2 L846.6 413.8 L846.9 413.4 L847.1 413.1 M972.2 454.5 Q972.7 450.9 969.5 449.2 Q967.1 446.1 969.8 443.3 M944.6 439.8 Q945.2 441.2 946.7 441.1 Q948.6 441.4 948.3 443.2 M962.8 382.8 L962.8 382.5 L962.9 382.0 L963.0 381.5 L963.2 381.1 L963.5 380.7 L963.7 380.3 L963.9 380.1 L964.0 379.9 L964.2 379.7 L964.5 379.4 L964.8 379.0 L965.1 378.7 L965.4 378.4 L965.6 378.3 L965.9 378.1 L966.3 377.8 L966.7 377.4 L967.1 377.2 M843.3 389.4 Q841.5 388.9 841.1 387.0 Q840.0 385.4 841.2 383.9 Q843.4 383.3 842.7 381.1 M888.5 359.2 L888.5 359.3 L888.5 359.5 L888.4 359.6 L888.3 359.8 L888.1 359.9 L888.0 360.1 L887.7 360.2 L887.4 360.2 L887.2 360.3 L887.0 360.4 L886.8 360.5 L886.7 360.6 L886.4 360.7 L886.2 360.8 L886.0 360.9 L885.7 360.8 L885.5 360.7 L885.4 360.6 M853.5 401.3 L853.4 401.2 L853.1 401.0 L853.0 400.8 L852.9 400.7 L852.9 400.5 L852.9 400.3 L852.8 400.1 L852.8 399.9 L852.8 399.7 L852.8 399.4 L852.8 399.2 L852.9 399.0 L852.9 398.8 L853.0 398.6 L853.0 398.4 L853.2 398.3 L853.4 398.1 L853.6 398.0 M920.4 381.7 L920.5 381.5 L920.5 381.2 L920.6 381.0 L920.6 380.7 L920.7 380.5 L920.7 380.3 L920.9 380.2 L921.0 380.1 L921.2 379.9 L921.5 379.7 L921.7 379.4 L922.0 379.2 L922.2 379.1 L922.4 379.1 L922.7 379.1 L923.0 379.1 L923.3 379.1 L923.5 379.1 M849.9 369.2 L850.3 369.3 L850.8 369.4 L851.4 369.6 L851.8 370.0 L852.2 370.4 L852.6 370.8 L852.8 371.3 L852.9 371.8 L853.0 372.3 L853.0 372.8 L853.0 373.3 L852.9 373.8 L852.6 374.2 L852.3 374.6 L852.0 374.9 L851.6 375.3 L851.1 375.6 L850.8 375.8 M981.7 392.5 L981.8 392.8 L981.9 393.2 L982.0 393.6 L982.2 393.9 L982.3 394.3 L982.3 394.6 L982.1 394.9 L981.8 395.2 L981.6 395.5 L981.3 395.8 L981.0 396.0 L980.8 396.3 L980.5 396.4 L980.1 396.4 L979.8 396.4 L979.5 396.3 L979.1 396.1 L978.9 396.0 M936.3 428.5 L936.4 428.4 L936.7 428.3 L936.9 428.2 L937.2 428.1 L937.5 428.1 L937.8 428.1 L938.0 428.2 L938.3 428.4 L938.5 428.5 L938.7 428.6 L938.9 428.7 L939.0 428.9 L939.2 429.1 L939.3 429.4 L939.5 429.6 L939.5 429.9 L939.6 430.2 L939.6 430.4 M936.8 368.9 Q935.4 371.2 932.9 370.6 Q930.6 372.1 928.7 370.1 M873.2 386.1 Q869.8 386.0 868.6 382.8 Q864.9 381.4 866.2 377.7 M891.2 360.3 L891.1 360.0 L890.8 359.7 L890.7 359.3 L890.7 358.9 L890.8 358.5 L890.9 358.1 L890.9 357.7 L891.0 357.4 L891.2 357.1 L891.5 356.8 L891.8 356.6 L892.2 356.4 L892.6 356.1 L893.0 355.9 L893.4 355.8 L893.8 356.0 L894.1 356.4 L894.4 356.7 M939.4 457.1 L939.3 457.3 L939.1 457.5 L938.8 457.9 L938.5 458.2 L938.1 458.7 L937.6 459.0 L937.3 459.1 L936.9 459.1 L936.5 459.1 L936.0 459.1 L935.6 459.1 L935.1 459.0 L934.7 458.8 L934.3 458.6 L934.0 458.4 L933.7 458.3 L933.4 458.1 L933.2 458.0 M930.7 382.2 Q933.4 380.0 931.7 376.9 Q934.7 375.8 934.9 372.6 M889.2 363.4 Q888.7 360.5 890.9 358.5 Q894.5 358.4 894.7 354.9 M972.9 416.1 Q976.4 417.4 976.0 421.1 Q977.3 424.7 974.2 426.8 M907.5 351.3 L907.5 351.8 L907.5 352.4 L907.5 353.0 L907.5 353.7 L907.5 354.3 L907.4 354.8 L907.1 355.0 L906.6 355.2 L906.1 355.4 L905.6 355.8 L905.1 356.2 L904.5 356.5 L903.9 356.6 L903.3 356.6 L902.8 356.5 L902.2 356.4 L901.6 356.2 L901.2 356.1 M974.8 441.1 L974.6 441.4 L974.4 441.7 L974.2 442.0 L974.0 442.1 L973.8 442.2 L973.6 442.3 L973.3 442.5 L973.0 442.8 L972.8 443.0 L972.5 443.1 L972.3 443.2 L972.1 443.3 L971.8 443.3 L971.5 443.3 L971.3 443.3 L971.0 443.2 L970.7 443.0 L970.5 442.9 M904.2 387.0 Q901.9 388.9 902.0 391.8 Q902.3 395.1 899.3 396.5 M897.2 361.4 Q895.9 360.2 896.3 358.5 Q896.1 356.8 894.6 355.9 Q892.8 357.3 891.6 355.4 M947.6 435.8 Q946.5 433.5 948.9 432.5 Q950.0 430.7 948.8 429.0 M940.3 426.5 Q942.7 427.1 942.9 429.5 Q943.6 432.4 946.4 431.5 M862.6 360.2 L863.0 360.4 L863.6 360.7 L864.3 361.1 L864.9 361.6 L865.5 362.1 L865.9 362.7 L866.2 363.4 L866.4 364.1 L866.4 364.8 L866.2 365.5 L865.9 366.2 L865.6 366.9 L865.3 367.4 L864.9 367.8 L864.5 368.1 L863.9 368.6 L863.3 369.1 L862.9 369.4 M952.7 386.8 L953.2 386.7 L954.0 386.6 L954.7 386.7 L955.3 387.0 L955.8 387.5 L956.3 388.1 L956.5 388.7 L956.6 389.5 L956.7 390.3 L956.8 391.0 L956.8 391.8 L956.7 392.4 L956.2 392.9 L955.5 393.3 L954.8 393.6 L954.1 393.8 L953.3 394.0 L952.8 394.1 M935.9 474.8 L935.8 474.3 L935.6 473.5 L935.6 472.8 L935.9 472.2 L936.5 471.6 L937.1 471.1 L937.8 470.7 L938.6 470.3 L939.4 470.1 L940.2 469.9 L941.0 469.8 L941.7 470.0 L942.2 470.4 L942.7 471.1 L943.1 471.7 L943.6 472.5 L944.0 473.2 L944.3 473.7 M953.2 401.5 L953.6 401.6 L954.3 401.7 L954.9 401.9 L955.4 402.2 L956.0 402.5 L956.5 403.0 L957.0 403.5 L957.5 404.0 L957.8 404.6 L958.0 405.1 L958.0 405.7 L958.0 406.3 L957.7 406.9 L957.3 407.6 L957.0 408.2 L956.8 408.8 L956.5 409.3 L956.4 409.6 M871.0 413.7 L870.9 413.9 L870.8 414.3 L870.6 414.5 L870.2 414.7 L869.8 414.9 L869.4 415.0 L869.0 415.1 L868.7 415.2 L868.3 415.2 L867.9 415.0 L867.6 414.7 L867.3 414.4 L867.0 414.1 L866.7 413.8 L866.6 413.4 L866.5 413.0 L866.6 412.6 L866.6 412.3 M887.4 386.1 L886.8 386.2 L886.0 386.3 L885.2 386.3 L884.4 386.2 L883.6 386.0 L882.9 385.7 L882.5 385.2 L882.3 384.6 L882.0 383.9 L881.4 383.3 L880.9 382.7 L880.5 382.0 L880.4 381.3 L880.5 380.5 L880.8 379.7 L881.3 379.0 L882.0 378.4 L882.5 377.9 M973.4 472.8 L973.3 472.6 L973.2 472.3 L973.1 472.0 L973.0 471.8 L972.8 471.5 L972.7 471.2 L972.7 470.9 L972.6 470.7 L972.6 470.4 L972.6 470.1 L972.6 469.8 L972.6 469.6 L972.7 469.3 L972.8 469.1 L972.9 468.9 L973.0 468.6 L973.2 468.3 L973.3 468.2 M969.3 407.4 Q969.7 405.5 971.7 405.5 Q973.2 404.0 974.7 405.5 M982.1 405.2 L981.8 405.2 L981.3 405.1 L980.8 405.1 L980.4 405.1 L979.9 405.0 L979.4 405.0 L978.9 405.1 L978.3 405.3 L977.9 405.3 L977.4 405.1 L977.0 404.8 L976.7 404.4 L976.4 404.0 L976.1 403.7 L975.9 403.3 L975.5 402.8 L975.2 402.3 L974.9 402.0 M962.2 383.9 Q961.1 385.5 962.1 387.1 Q962.8 389.4 960.5 389.9 M930.2 372.9 L930.9 373.1 L931.9 373.3 L932.8 373.7 L933.5 374.5 L934.0 375.5 L934.4 376.5 L934.6 377.4 L934.5 378.3 L934.3 379.1 L933.9 379.9 L933.3 380.6 L932.6 381.4 L931.9 382.3 L931.2 383.2 L930.4 383.7 L929.5 383.7 L928.6 383.3 L927.9 383.0 M957.3 392.2 Q955.4 390.1 957.1 387.8 Q957.0 384.5 953.7 384.9 M939.2 365.6 Q939.7 367.9 942.1 368.4 Q943.2 370.8 945.8 370.0 M972.3 437.4 Q972.1 433.6 968.8 431.6 Q971.2 428.5 969.8 424.9 M971.7 393.8 L971.7 393.6 L971.6 393.4 L971.5 393.2 L971.6 393.0 L971.6 392.7 L971.6 392.4 L971.6 392.2 L971.5 392.0 L971.5 391.7 L971.6 391.5 L971.9 391.3 L972.1 391.0 L972.2 390.8 L972.4 390.6 L972.6 390.4 L972.8 390.2 L973.0 390.0 L973.2 389.9 M958.9 431.4 Q961.0 433.8 964.2 433.1 Q966.9 435.3 969.7 433.1 M962.6 381.2 L962.4 380.8 L962.1 380.3 L961.9 379.7 L961.8 379.1 L961.8 378.4 L961.9 377.8 L962.2 377.4 L962.6 377.0 L963.1 376.7 L963.6 376.3 L964.2 375.9 L964.7 375.7 L965.3 375.6 L965.9 375.7 L966.4 375.9 L967.0 376.2 L967.4 376.5 L967.8 376.8 M872.8 406.3 Q870.6 405.3 868.5 406.7 Q866.4 408.8 864.3 406.7 Q863.3 404.0 860.5 404.9 M846.3 410.6 Q847.8 411.7 849.4 410.7 Q850.3 412.8 852.4 411.7 M971.6 466.7 Q973.7 467.5 975.4 466.0 Q976.5 467.9 978.6 468.1 M922.3 379.3 L922.1 379.1 L921.8 378.9 L921.6 378.8 L921.3 378.8 L921.0 378.8 L920.8 378.7 L920.7 378.5 L920.7 378.2 L920.6 377.9 L920.4 377.6 L920.2 377.3 L920.0 377.0 L919.9 376.7 L919.9 376.5 L919.9 376.3 L919.9 376.0 L919.9 375.6 L919.9 375.4 M855.1 381.5 Q853.8 379.6 851.4 379.8 Q849.0 380.6 847.6 378.5 Q845.1 377.5 845.6 374.9 M960.3 403.6 Q958.3 403.7 958.5 405.7 Q956.9 405.6 955.9 406.9 M844.7 412.9 Q842.3 411.4 842.3 408.5 Q845.6 406.8 843.6 403.7 M864.4 413.5 L864.6 413.5 L865.0 413.5 L865.4 413.6 L865.7 413.7 L866.0 413.9 L866.2 414.1 L866.5 414.4 L866.8 414.8 L866.9 415.1 L867.0 415.5 L866.9 415.9 L866.8 416.2 L866.6 416.6 L866.4 416.9 L866.2 417.1 L865.9 417.4 L865.6 417.6 L865.4 417.8 M880.2 373.7 L880.2 374.0 L880.3 374.4 L880.3 374.8 L880.2 375.1 L879.9 375.4 L879.7 375.7 L879.4 375.9 L879.1 376.1 L878.9 376.2 L878.5 376.3 L878.1 376.2 L877.8 376.2 L877.4 376.1 L877.1 376.1 L876.8 376.0 L876.5 375.8 L876.2 375.5 L876.0 375.3 M930.1 468.5 L929.5 468.0 L928.7 467.3 L928.0 466.6 L927.6 465.6 L927.2 464.6 L927.1 463.5 L927.2 462.4 L927.5 461.3 L928.0 460.4 L928.7 459.8 L929.7 459.5 L930.7 459.1 L931.6 458.7 L932.6 458.4 L933.6 458.3 L934.6 458.6 L935.7 459.0 L936.4 459.4 M921.6 382.5 L921.4 382.9 L921.2 383.5 L920.9 384.0 L920.6 384.4 L920.1 384.6 L919.7 384.8 L919.2 385.0 L918.6 385.2 L918.1 385.2 L917.5 385.2 L916.9 385.0 L916.4 384.8 L916.0 384.5 L915.6 384.2 L915.4 383.9 L915.2 383.3 L915.0 382.6 L915.0 382.2 M854.5 372.6 L854.3 372.4 L854.0 372.2 L853.7 371.9 L853.6 371.6 L853.6 371.2 L853.5 370.9 L853.5 370.5 L853.4 370.2 L853.5 369.9 L853.6 369.6 L853.8 369.3 L854.0 368.9 L854.2 368.6 L854.3 368.3 L854.5 368.0 L854.8 367.9 L855.2 367.8 L855.4 367.8 M904.7 388.7 Q900.4 387.4 901.2 383.1 Q897.0 384.0 895.4 379.9 M987.1 422.2 L987.0 422.4 L986.9 422.7 L986.7 423.0 L986.5 423.2 L986.2 423.4 L985.9 423.6 L985.6 423.8 L985.2 424.0 L984.9 424.1 L984.5 424.2 L984.2 424.1 L983.8 424.0 L983.5 423.8 L983.2 423.6 L983.0 423.3 L982.7 422.9 L982.5 422.5 L982.4 422.2 M910.2 370.6 L910.0 370.4 L909.7 370.2 L909.4 370.0 L909.3 369.9 L909.2 369.7 L909.0 369.5 L908.8 369.3 L908.6 369.0 L908.4 368.6 L908.5 368.3 L908.6 368.0 L908.7 367.8 L908.8 367.5 L908.9 367.2 L909.0 367.0 L909.2 366.7 L909.5 366.4 L909.6 366.2 M934.6 459.9 L934.8 459.3 L935.2 458.4 L935.7 457.7 L936.3 457.3 L937.1 457.1 L937.9 457.0 L938.8 457.1 L939.6 457.3 L940.5 457.5 L941.4 457.7 L942.3 457.9 L943.0 458.4 L943.5 459.1 L943.8 460.1 L943.9 461.1 L943.7 462.1 L943.4 463.0 L943.1 463.7 M911.5 369.5 L912.0 369.4 L912.7 369.3 L913.4 369.2 L914.1 369.0 L914.7 368.8 L915.3 368.9 L915.8 369.2 L916.2 369.8 L916.6 370.3 L917.2 370.7 L917.8 371.1 L918.3 371.5 L918.7 372.0 L919.0 372.6 L919.2 373.2 L919.1 373.8 L918.9 374.5 L918.8 374.9 M872.0 389.9 L872.0 389.7 L872.1 389.3 L872.2 389.0 L872.5 388.7 L872.8 388.5 L873.1 388.3 L873.4 388.1 L873.6 388.0 L873.9 387.9 L874.2 387.8 L874.6 387.6 L874.9 387.6 L875.2 387.7 L875.5 387.8 L875.8 388.0 L876.0 388.2 L876.2 388.5 L876.4 388.6 M829.6 397.4 L829.5 396.9 L829.4 396.2 L829.2 395.5 L829.0 394.9 L828.8 394.2 L828.7 393.6 L828.7 393.0 L828.8 392.4 L829.0 391.9 L829.3 391.5 L829.8 391.0 L830.3 390.6 L830.8 390.0 L831.3 389.4 L831.9 389.0 L832.6 389.1 L833.4 389.4 L833.9 389.6 M968.0 453.7 L967.8 454.0 L967.4 454.4 L967.0 454.8 L966.7 455.0 L966.4 455.2 L966.0 455.4 L965.6 455.7 L965.1 456.1 L964.6 456.3 L964.1 456.5 L963.6 456.6 L963.2 456.5 L962.7 456.4 L962.3 456.2 L961.9 456.0 L961.5 455.7 L961.0 455.5 L960.7 455.3 M911.6 370.5 Q909.5 372.6 907.2 370.9 Q907.1 373.7 904.4 374.3 M946.3 397.1 L946.5 397.4 L946.7 397.8 L947.0 398.2 L947.3 398.5 L947.7 398.9 L948.0 399.3 L948.0 399.7 L948.0 400.2 L947.9 400.6 L947.8 401.1 L947.6 401.5 L947.4 401.9 L947.2 402.2 L946.9 402.5 L946.7 402.8 L946.3 403.1 L945.9 403.5 L945.6 403.7 M982.5 402.7 L982.0 403.0 L981.4 403.6 L980.7 404.1 L980.0 404.6 L979.3 405.2 L978.6 405.5 L977.9 405.5 L977.2 405.4 L976.5 405.2 L975.7 404.8 L975.0 404.4 L974.3 404.0 L973.9 403.4 L973.6 402.9 L973.3 402.2 L972.9 401.5 L972.4 400.7 L972.1 400.1 M957.3 449.4 L957.6 449.3 L957.9 449.1 L958.2 449.0 L958.6 448.9 L958.9 448.8 L959.3 448.8 L959.6 448.7 L960.0 448.7 L960.4 448.7 L960.7 448.9 L961.1 449.1 L961.3 449.3 L961.5 449.5 L961.6 449.7 L961.8 450.0 L962.0 450.2 L962.4 450.6 L962.6 450.8 M945.8 457.6 L946.3 457.2 L947.0 456.7 L947.8 456.3 L948.5 456.1 L949.3 456.0 L950.0 456.2 L950.6 456.5 L951.2 457.1 L951.8 457.7 L952.4 458.3 L952.9 458.9 L953.3 459.6 L953.4 460.3 L953.2 461.0 L953.0 461.6 L952.5 462.3 L951.9 462.9 L951.5 463.3 M834.4 387.1 L834.2 387.1 L834.0 387.0 L833.7 387.0 L833.5 386.9 L833.3 386.9 L833.1 386.8 L832.9 386.7 L832.8 386.5 L832.6 386.3 L832.5 386.3 L832.3 386.2 L832.1 386.1 L832.0 385.9 L831.8 385.6 L831.7 385.4 L831.8 385.1 L831.9 384.9 L832.0 384.8 M961.9 385.8 L962.0 386.0 L962.1 386.3 L962.1 386.5 L961.8 386.8 L961.4 387.0 L961.1 387.2 L960.9 387.3 L960.8 387.4 L960.6 387.5 L960.3 387.8 L960.0 388.0 L959.7 388.2 L959.4 388.3 L959.1 388.4 L958.8 388.3 L958.5 388.3 L958.2 388.2 L958.0 388.1 M967.1 407.7 L967.4 407.5 L968.0 407.2 L968.5 407.0 L969.0 406.9 L969.5 406.8 L970.0 406.8 L970.4 407.0 L970.8 407.3 L971.1 407.6 L971.4 408.1 L971.7 408.6 L971.9 409.1 L972.1 409.6 L972.2 410.1 L972.3 410.5 L972.1 411.0 L971.8 411.5 L971.5 411.8 M969.2 411.7 L969.1 412.3 L968.9 413.2 L968.5 414.1 L968.1 414.8 L967.5 415.4 L966.9 415.8 L966.2 416.0 L965.5 416.0 L964.8 415.9 L964.0 415.9 L963.1 415.8 L962.3 415.6 L961.7 415.1 L961.1 414.5 L960.7 413.8 L960.6 413.0 L960.6 412.2 L960.6 411.6 M898.8 399.8 L898.8 399.5 L898.8 399.0 L898.9 398.6 L899.1 398.2 L899.5 397.9 L899.8 397.6 L900.2 397.3 L900.7 397.2 L901.1 397.1 L901.6 397.2 L902.0 397.4 L902.5 397.6 L902.9 397.9 L903.2 398.2 L903.5 398.5 L903.6 398.9 L903.7 399.4 L903.8 399.7 M839.0 385.6 L839.3 386.0 L839.6 386.7 L839.9 387.3 L840.2 388.0 L840.4 388.6 L840.5 389.2 L840.4 389.7 L840.1 390.2 L839.7 390.6 L839.3 391.1 L838.7 391.6 L838.2 392.0 L837.6 392.2 L837.0 392.4 L836.4 392.4 L835.7 392.3 L835.0 392.0 L834.5 391.8 M906.5 371.1 Q905.2 368.9 903.1 370.3 Q902.4 372.6 900.1 372.0 Q900.5 374.3 898.4 375.0 M877.7 378.8 Q875.1 380.9 876.0 384.1 Q879.4 385.7 878.1 389.3 M862.6 381.4 Q863.1 378.3 860.7 376.3 Q861.8 372.8 858.5 371.2 M858.1 422.9 L857.9 422.4 L857.6 421.9 L857.5 421.3 L857.6 420.8 L857.9 420.4 L858.3 420.0 L858.7 419.6 L859.1 419.3 L859.5 419.0 L859.8 418.7 L860.0 418.5 L860.3 418.3 L860.8 418.1 L861.3 417.9 L861.8 417.7 L862.4 417.5 L862.9 417.3 L863.4 417.2 M957.3 452.4 L956.8 452.3 L956.2 452.0 L955.5 451.7 L955.0 451.1 L954.4 450.4 L954.0 449.7 L953.8 449.0 L953.8 448.3 L953.8 447.5 L953.8 446.8 L953.8 446.1 L954.0 445.4 L954.4 444.6 L955.0 443.9 L955.6 443.3 L956.2 442.8 L956.7 442.4 L957.1 442.2 M978.7 429.4 L978.9 429.2 L979.0 428.9 L979.2 428.7 L979.4 428.6 L979.7 428.6 L979.9 428.6 L980.1 428.7 L980.3 428.7 L980.6 428.8 L980.8 428.9 L981.1 429.0 L981.3 429.1 L981.5 429.1 L981.7 429.1 L981.8 429.2 L982.0 429.4 L982.2 429.7 L982.3 429.9" fill="none" stroke="#4f8a4f" stroke-width="0.5" stroke-linecap="round" opacity="0.7"/>
<circle cx="939.5" cy="407.5" r="3" fill="#a6fea6"/>
<path d="M914.0 409.8 L914.1 408.2 L914.7 407.4 L915.5 407.0 L916.3 406.8 L917.1 407.0 L918.0 407.5 L918.8 408.7 L919.6 407.8 L920.4 407.2 L921.2 406.8 L922.0 406.5 L922.8 406.3 L923.6 406.3 L924.4 406.3 L925.2 406.4 L926.0 406.6 L926.8 406.9 L927.6 407.3 L928.4 407.9 L929.2 408.5 L930.0 407.4 L930.8 406.9 L931.6 406.8 L932.4 407.0 L933.2 407.5 L933.8 408.7 L934.5 408.6 L935.3 408.5 L936.1 408.6 L936.7 408.8 L937.3 409.2 L937.8 409.8 L938.2 410.5 L938.4 411.2 L938.4 412.0 L938.4 412.8 L938.2 413.6 L938.9 414.2 L939.3 415.0 L939.4 415.7 L939.4 416.5 L939.1 417.3 L939.1 418.1 L940.3 418.9 L940.9 419.8 L941.1 420.7 L940.9 421.5 L940.4 422.2 L939.5 422.9 L937.8 423.2 L938.2 424.2 L938.4 425.1 L938.5 425.9 L938.4 426.7 L938.3 427.5 L938.1 428.3 L937.8 429.1 L937.4 429.8 L937.0 430.5 L936.4 431.1 L935.8 431.7 L935.1 432.2 L934.2 432.7 L934.3 433.6 L934.3 434.5 L934.2 435.4 L933.9 436.1 L933.4 436.8 L932.8 437.4 L931.8 438.0 L932.8 439.2 L933.3 440.1 L933.7 440.9 L933.8 441.7 L933.9 442.5 L933.8 443.3 L933.5 444.1 L933.0 444.8 L932.3 445.6 L931.3 446.2 L931.3 447.0 L931.7 447.9 L931.9 448.8 L931.8 449.6 L931.5 450.4 L931.0 451.1 L930.4 451.7 L929.6 452.2 L928.5 452.5 L928.8 453.5 L929.0 454.5 L928.9 455.4 L928.7 456.2 L928.4 456.9 L927.8 457.6 L927.2 458.1 L926.3 458.5 L924.8 458.6 L925.6 460.0 L925.8 461.0 L925.7 461.9 L925.5 462.7 L925.1 463.4 L924.6 464.0 L923.9 464.5 L923.0 465.0 L921.7 465.4 L921.9 466.3 L922.2 467.3 L922.4 468.1 L922.5 468.9 L922.5 469.7 L922.3 470.6 L921.8 471.6 L922.6 472.1 L923.1 472.8 L923.5 473.5 L923.5 474.3 L923.3 475.1 L922.9 475.8 L922.3 476.4 L921.7 476.8 L920.9 477.2 L920.1 477.5 L919.3 477.6 L918.8 478.2 L918.7 479.6 L918.2 480.5 L917.5 481.0 L916.5 480.9 L915.5 480.2 L914.7 479.3 L914.1 479.7 L913.4 479.7 L912.7 479.4 L912.1 478.9 L911.6 478.3 L911.2 477.4 L910.5 477.0 L909.1 477.6 L908.3 477.6 L907.6 477.4 L907.0 476.6 L906.7 475.1 L905.9 474.9 L905.0 475.0 L904.2 474.9 L903.4 474.8 L902.6 474.5 L901.8 474.2 L900.9 473.8 L900.0 474.3 L899.4 475.3 L899.2 476.1 L899.0 476.9 L898.6 477.5 L898.1 478.2 L897.4 478.7 L896.5 478.9 L895.9 478.1 L895.4 478.8 L894.5 478.8 L893.7 478.6 L892.9 478.2 L892.3 477.7 L891.7 477.1 L891.2 476.4 L890.8 475.7 L890.5 474.9 L890.4 474.0 L890.3 473.1 L890.5 472.0 L889.4 471.8 L888.3 471.5 L887.4 471.0 L886.8 470.4 L886.5 469.6 L886.4 468.7 L886.7 467.7 L887.4 466.7 L887.2 466.0 L886.2 465.3 L885.7 464.3 L885.8 463.4 L886.4 462.7 L887.5 462.2 L888.5 461.7 L888.1 460.7 L888.0 459.8 L888.2 459.0 L888.6 458.3 L889.1 457.7 L889.9 457.1 L891.2 456.6 L890.9 455.6 L890.8 454.7 L890.6 453.9 L890.5 453.0 L890.4 452.2 L890.4 451.4 L890.3 450.6 L890.3 449.8 L890.4 449.0 L890.5 448.2 L890.7 447.4 L890.9 446.6 L891.5 445.9 L890.7 445.1 L890.5 444.3 L890.4 443.5 L890.6 442.7 L891.1 441.9 L891.5 441.2 L890.9 440.3 L890.5 439.5 L890.4 438.6 L890.4 437.8 L890.6 437.0 L890.9 436.2 L891.3 435.5 L891.9 434.9 L892.7 434.4 L893.6 434.0 L893.2 432.9 L893.2 432.0 L893.4 431.2 L893.8 430.4 L894.3 429.8 L895.0 429.3 L895.9 429.0 L897.1 428.8 L897.4 428.1 L897.6 427.3 L898.0 426.5 L898.3 425.8 L898.8 425.1 L899.3 424.5 L899.8 423.9 L900.4 423.3 L901.0 422.8 L901.8 422.4 L901.8 421.4 L901.5 420.2 L901.6 419.2 L901.9 418.4 L902.5 417.8 L903.2 417.4 L904.1 417.1 L905.4 417.2 L906.2 416.8 L906.3 415.8 L906.5 414.9 L906.8 414.2 L907.2 413.4 L907.7 412.8 L908.2 412.2 L908.9 411.7 L909.6 411.3 L910.5 411.1 L911.5 411.1 L911.1 409.4 L911.5 408.5 L912.4 408.3Z" fill="#00ffff" stroke="#109898" stroke-width="0.6" stroke-linejoin="round"/>
<path d="M898.5 460.7 L898.4 460.9 L898.1 461.3 L897.9 461.6 L897.6 461.8 L897.2 462.0 L896.8 462.1 L896.5 462.1 L896.1 462.1 L895.8 462.1 L895.5 462.0 L895.1 461.7 L894.8 461.5 L894.5 461.2 L894.2 460.9 L893.9 460.6 L893.8 460.2 L893.7 459.9 L893.6 459.7 M922.5 430.3 L922.2 430.3 L921.8 430.2 L921.4 430.1 L921.0 429.9 L920.5 429.7 L920.1 429.6 L919.7 429.6 L919.5 429.7 L919.1 429.7 L918.7 429.4 L918.3 428.9 L917.9 428.5 L917.5 428.4 L917.2 428.3 L916.9 428.2 L916.8 427.8 L916.8 427.3 L916.8 426.9 M916.2 440.8 L916.3 440.7 L916.6 440.5 L916.8 440.4 L917.0 440.2 L917.2 440.1 L917.4 440.0 L917.6 440.0 L917.8 440.1 L918.0 440.2 L918.2 440.3 L918.4 440.3 L918.6 440.4 L918.8 440.4 L919.0 440.5 L919.2 440.5 L919.4 440.6 L919.5 440.7 L919.6 440.7 M923.7 436.8 L924.4 436.5 L925.4 436.1 L926.4 435.8 L927.3 435.6 L928.3 435.6 L929.2 435.7 L930.2 436.3 L931.1 437.2 L931.8 438.1 L932.2 438.8 L932.4 439.6 L932.4 440.4 L932.5 441.3 L932.5 442.4 L932.2 443.4 L931.6 444.2 L930.8 445.0 L930.2 445.5 M916.0 445.0 L916.3 444.6 L916.8 444.0 L917.3 443.5 L917.9 443.4 L918.6 443.4 L919.2 443.5 L919.8 443.8 L920.3 444.3 L920.8 444.8 L921.3 445.2 L921.7 445.6 L922.1 446.1 L922.4 446.6 L922.6 447.2 L922.6 447.8 L922.3 448.4 L921.9 449.0 L921.5 449.4 M928.1 409.0 L928.5 408.9 L928.9 408.9 L929.4 408.9 L929.9 409.0 L930.3 409.3 L930.7 409.5 L930.9 409.9 L931.0 410.3 L931.1 410.8 L931.2 411.2 L931.4 411.6 L931.4 412.0 L931.2 412.4 L930.8 412.7 L930.5 413.0 L930.1 413.3 L929.6 413.6 L929.3 413.7 M923.0 414.7 L923.2 415.0 L923.5 415.5 L923.7 415.9 L923.8 416.3 L923.9 416.8 L924.0 417.2 L924.2 417.6 L924.4 418.0 L924.5 418.4 L924.5 418.8 L924.4 419.2 L924.2 419.7 L923.7 420.1 L923.2 420.5 L922.8 420.9 L922.7 421.1 L922.7 421.2 L922.8 421.3 M919.7 441.1 L919.9 441.7 L920.0 442.6 L920.1 443.4 L919.9 444.2 L919.5 445.1 L919.1 445.8 L918.6 446.5 L918.0 447.2 L917.4 447.6 L916.7 447.9 L915.9 447.9 L915.1 447.9 L914.3 447.6 L913.5 447.2 L912.8 446.8 L912.2 446.3 L911.6 445.8 L911.2 445.4 M929.6 437.4 Q926.9 435.6 928.0 432.6 Q927.5 429.7 929.9 428.0 M925.4 432.5 L925.7 432.6 L926.1 432.8 L926.5 433.1 L926.9 433.4 L927.2 433.8 L927.5 434.1 L927.6 434.4 L927.7 434.8 L927.9 435.1 L928.1 435.6 L928.3 436.2 L928.5 436.7 L928.5 437.2 L928.4 437.7 L928.3 438.2 L927.9 438.8 L927.6 439.3 L927.3 439.6 M938.5 417.9 L938.0 418.0 L937.2 418.2 L936.5 418.3 L935.8 418.2 L935.1 417.9 L934.4 417.6 L933.8 417.2 L933.2 416.8 L932.7 416.2 L932.3 415.6 L932.0 415.0 L931.8 414.3 L931.7 413.7 L931.8 413.0 L932.0 412.3 L932.5 411.6 L933.0 411.0 L933.4 410.5 M897.4 457.0 L897.1 457.1 L896.7 457.3 L896.3 457.4 L895.8 457.4 L895.4 457.4 L895.0 457.2 L894.7 457.1 L894.4 457.0 L894.1 456.7 L893.9 456.4 L893.8 456.1 L893.6 455.7 L893.4 455.2 L893.2 454.8 L893.1 454.4 L893.3 453.9 L893.6 453.5 L893.8 453.1 M891.6 459.1 Q893.4 456.2 892.1 453.0 Q890.1 449.8 892.5 446.8 M934.7 427.4 Q934.8 425.0 937.0 424.0 Q934.8 422.3 936.4 420.0 M909.5 426.1 L909.3 426.1 L909.1 426.1 L908.8 426.0 L908.4 425.9 L908.0 425.7 L907.7 425.5 L907.4 425.3 L907.2 425.2 L907.0 425.0 L906.8 424.7 L906.7 424.4 L906.6 424.1 L906.7 423.8 L906.8 423.5 L906.8 423.3 L906.8 422.9 L906.8 422.6 L906.8 422.4 M908.8 476.2 Q909.2 471.7 913.7 470.9 Q910.9 467.7 912.7 463.8 M905.4 430.1 Q905.2 426.5 908.5 424.9 Q911.9 424.2 912.8 420.8 M909.8 460.3 L910.5 460.1 L911.4 459.8 L912.4 459.7 L913.3 460.0 L914.3 460.4 L915.1 461.0 L915.7 461.4 L916.2 462.0 L916.6 462.6 L917.0 463.4 L917.4 464.4 L917.5 465.2 L917.2 466.0 L916.6 466.7 L916.0 467.4 L915.4 468.1 L914.8 468.8 L914.3 469.3" fill="none" stroke="#109898" stroke-width="0.5" stroke-linecap="round" opacity="0.7"/>
<path d="M942.6 531.5 L944.3 530.2 L945.4 530.6 L945.7 531.3 L945.4 532.4 L944.7 534.0 L946.1 533.9 L946.9 534.0 L947.6 534.5 L948.2 535.7 L949.1 535.1 L950.0 534.7 L950.7 535.2 L951.5 535.9 L952.3 534.9 L953.2 534.4 L953.9 534.3 L954.7 534.4 L955.5 534.8 L956.5 535.8 L957.2 535.3 L957.9 535.1 L958.6 535.9 L959.5 534.9 L960.5 534.8 L961.2 535.4 L961.3 536.4 L960.4 537.6 L961.1 538.2 L961.7 538.8 L962.2 539.5 L962.6 540.2 L962.9 541.0 L963.1 542.0 L963.8 542.5 L965.3 542.0 L965.8 542.6 L965.2 544.6 L967.1 543.6 L968.3 543.7 L969.0 544.4 L969.0 545.5 L967.7 546.7 L967.5 547.3 L967.7 548.1 L967.6 548.9 L967.3 549.7 L966.9 550.6 L967.6 551.5 L968.9 551.7 L969.1 552.6 L969.2 553.7 L970.5 553.3 L971.4 553.4 L971.8 554.2 L971.8 555.7 L972.6 556.0 L973.5 556.1 L974.2 556.4 L974.7 557.0 L975.1 557.8 L975.2 559.0 L976.5 558.6 L977.4 558.8 L977.9 559.4 L978.2 560.3 L978.6 561.0 L980.2 560.6 L981.3 561.0 L981.9 561.8 L981.8 563.0 L980.9 563.9 L980.3 564.6 L981.5 566.0 L981.1 566.8 L979.2 566.7 L978.5 567.2 L978.4 568.0 L977.8 568.6 L976.7 568.8 L977.8 570.5 L977.8 571.3 L976.5 571.6 L976.4 572.4 L977.3 573.4 L977.6 574.2 L977.1 574.9 L975.8 575.6 L975.0 576.2 L975.3 577.0 L975.1 577.8 L974.7 578.4 L974.0 578.8 L973.2 579.0 L972.2 578.8 L972.1 580.1 L971.7 581.1 L971.1 581.6 L970.2 581.7 L969.1 581.4 L968.0 581.0 L967.5 581.8 L966.9 582.5 L966.2 583.0 L965.5 583.3 L964.6 583.6 L964.0 584.1 L964.0 585.4 L963.7 586.1 L962.9 586.5 L961.7 586.6 L961.8 587.7 L962.0 588.8 L961.8 589.6 L961.4 590.2 L960.6 590.7 L959.3 591.0 L959.9 592.2 L960.1 593.1 L959.0 593.5 L958.6 594.2 L959.1 595.5 L958.7 596.2 L957.4 596.2 L956.2 595.6 L955.8 596.3 L955.2 596.6 L954.4 596.6 L953.7 596.4 L953.0 595.8 L952.2 596.1 L951.3 596.5 L950.4 596.5 L949.7 596.2 L949.0 595.6 L948.6 594.6 L947.4 595.5 L946.2 595.9 L945.4 595.6 L945.1 594.5 L945.6 592.7 L943.9 593.4 L943.3 592.8 L943.8 591.3 L942.7 591.2 L941.8 590.9 L941.5 590.1 L941.9 588.7 L940.7 588.7 L939.8 588.4 L939.5 587.6 L939.4 586.5 L937.5 587.4 L936.6 587.3 L936.4 586.3 L937.2 584.1 L935.8 584.5 L934.8 584.4 L934.1 583.9 L933.7 583.2 L933.6 582.2 L934.2 581.1 L933.8 580.5 L933.3 579.9 L933.4 579.1 L933.8 578.3 L932.4 577.6 L931.6 576.9 L931.3 576.1 L931.4 575.3 L931.8 574.5 L932.6 573.6 L933.0 572.6 L932.2 571.9 L931.5 571.3 L931.0 570.7 L930.7 570.0 L930.4 569.1 L930.4 567.9 L928.9 568.3 L928.1 567.9 L928.3 566.6 L927.8 566.2 L927.0 565.9 L926.9 565.2 L927.6 564.9 L928.2 564.7 L928.3 563.5 L928.9 562.9 L929.7 562.7 L930.7 563.0 L931.5 562.8 L931.9 561.8 L932.9 561.9 L933.9 562.1 L934.4 561.2 L935.0 560.6 L935.8 560.1 L936.8 559.7 L936.5 558.6 L936.3 557.5 L936.2 556.7 L936.3 556.0 L936.7 555.3 L937.3 554.5 L938.3 553.2 L937.0 552.7 L936.4 552.1 L936.2 551.0 L934.9 551.2 L933.8 551.4 L933.0 551.2 L932.5 550.5 L932.3 549.3 L932.3 548.0 L931.3 548.0 L930.7 547.5 L930.8 546.5 L929.1 546.8 L929.3 545.5 L930.4 545.2 L931.3 545.7 L932.0 546.9 L932.8 546.7 L933.7 545.8 L934.4 545.4 L935.1 545.2 L935.8 545.4 L936.7 545.7 L938.3 546.5 L938.0 544.8 L938.4 544.0 L939.4 543.9 L940.2 543.6 L939.8 542.1 L940.7 541.9 L942.1 542.0 L942.0 540.9 L942.7 540.3 L943.7 539.9 L942.8 538.6 L942.5 537.8 L942.5 537.3 L943.0 536.4 L944.2 535.0 L942.4 535.0 L942.0 534.3 L942.8 532.9 L941.5 532.8 L941.1 532.1 L942.1 531.6 L940.6 530.2 L941.1 528.9 L942.4 529.0Z" fill="#a6fea6" stroke="#4f8a4f" stroke-width="0.6" stroke-linejoin="round"/>
<path d="M940.3 560.7 L940.3 560.5 L940.4 560.2 L940.5 559.9 L940.7 559.7 L940.9 559.5 L941.2 559.3 L941.4 559.2 L941.7 559.1 L942.0 559.1 L942.3 559.2 L942.6 559.3 L942.8 559.5 L943.0 559.7 L943.2 560.0 L943.2 560.2 L943.3 560.5 L943.2 560.8 L943.2 561.0 M969.0 571.5 L968.9 571.8 L968.8 572.3 L968.6 572.8 L968.3 573.3 L967.9 573.8 L967.5 574.2 L967.1 574.3 L966.7 574.4 L966.3 574.4 L965.9 574.4 L965.4 574.5 L964.9 574.4 L964.5 574.1 L964.0 573.7 L963.7 573.3 L963.4 572.8 L963.3 572.3 L963.2 571.9 M950.3 563.6 L950.5 563.3 L950.8 562.8 L951.2 562.4 L951.5 562.0 L951.8 561.6 L952.1 561.4 L952.5 561.3 L952.8 561.4 L953.2 561.5 L953.7 561.5 L954.1 561.6 L954.5 561.7 L954.9 561.8 L955.3 562.0 L955.7 562.3 L956.0 562.6 L956.4 563.0 L956.6 563.3 M954.5 563.4 Q955.3 563.8 955.3 564.6 Q955.3 565.7 956.3 565.8 Q957.3 566.2 956.9 567.2 M968.8 566.1 Q968.4 564.5 966.9 564.9 Q965.8 564.1 966.3 562.8 M972.6 573.3 L972.6 573.5 L972.7 573.8 L972.7 574.0 L972.7 574.3 L972.6 574.5 L972.5 574.7 L972.4 574.9 L972.2 575.0 L972.0 575.2 L971.8 575.3 L971.5 575.3 L971.3 575.3 L971.1 575.4 L970.9 575.4 L970.7 575.3 L970.5 575.2 L970.3 575.0 L970.1 574.9 M956.0 584.6 Q956.0 584.0 956.6 583.7 Q956.0 583.3 956.4 582.7 Q956.4 582.1 957.0 581.8 M949.4 588.0 Q949.6 586.1 951.4 585.6 Q952.0 583.5 954.1 584.2 M967.2 556.7 L967.1 556.8 L967.0 556.8 L966.8 556.9 L966.7 556.9 L966.6 556.9 L966.4 556.9 L966.3 556.9 L966.2 556.8 L966.1 556.7 L965.9 556.7 L965.8 556.6 L965.7 556.5 L965.6 556.4 L965.5 556.4 L965.4 556.3 L965.3 556.1 L965.2 555.9 L965.2 555.8 M947.7 575.0 Q946.6 575.4 946.2 574.3 Q945.4 574.7 944.6 574.0 M943.7 573.1 L943.6 573.3 L943.6 573.7 L943.5 574.1 L943.3 574.5 L943.0 574.8 L942.7 575.1 L942.4 575.3 L942.2 575.3 L941.9 575.4 L941.5 575.4 L941.1 575.3 L940.8 575.2 L940.5 575.2 L940.3 575.0 L940.0 574.9 L939.7 574.5 L939.5 574.2 L939.3 573.9 M943.0 587.3 L943.1 587.4 L943.2 587.6 L943.3 587.8 L943.2 588.0 L943.0 588.2 L942.8 588.4 L942.8 588.5 L942.7 588.6 L942.6 588.7 L942.5 588.8 L942.3 588.9 L942.1 589.0 L941.9 589.0 L941.8 589.1 L941.6 589.1 L941.4 589.1 L941.2 589.1 L941.1 589.2 M939.5 582.1 L939.3 582.2 L939.0 582.3 L938.7 582.4 L938.5 582.3 L938.3 582.3 L938.0 582.2 L937.8 582.0 L937.6 581.8 L937.4 581.6 L937.3 581.4 L937.3 581.2 L937.3 581.0 L937.3 580.8 L937.3 580.5 L937.4 580.3 L937.6 580.1 L937.7 579.8 L937.9 579.6 M940.3 547.5 L940.1 547.5 L939.9 547.4 L939.7 547.4 L939.6 547.3 L939.4 547.3 L939.3 547.2 L939.2 547.0 L939.2 546.8 L939.2 546.7 L939.1 546.5 L939.1 546.3 L939.1 546.1 L939.1 545.9 L939.1 545.7 L939.1 545.5 L939.3 545.4 L939.5 545.2 L939.6 545.1 M955.5 540.5 L955.6 540.2 L955.7 539.8 L955.9 539.4 L956.1 539.1 L956.5 538.9 L956.9 538.7 L957.2 538.6 L957.5 538.7 L957.9 538.7 L958.3 538.8 L958.7 538.9 L959.0 539.1 L959.2 539.4 L959.4 539.7 L959.5 540.0 L959.7 540.4 L959.9 540.8 L960.0 541.0 M945.5 574.8 L945.4 574.7 L945.3 574.7 L945.2 574.6 L945.1 574.5 L944.9 574.4 L944.8 574.3 L944.7 574.2 L944.7 574.0 L944.7 573.9 L944.7 573.8 L944.7 573.6 L944.6 573.4 L944.6 573.3 L944.5 573.1 L944.4 573.0 L944.4 572.8 L944.5 572.6 L944.5 572.5 M971.4 574.2 L971.1 574.3 L970.7 574.4 L970.3 574.4 L969.9 574.2 L969.6 574.0 L969.3 573.7 L969.1 573.5 L969.0 573.2 L969.0 572.9 L968.9 572.5 L968.8 572.1 L968.8 571.7 L969.0 571.4 L969.3 571.1 L969.6 570.9 L969.9 570.7 L970.3 570.7 L970.6 570.7 M958.0 548.8 L958.1 548.8 L958.3 548.9 L958.5 549.0 L958.7 549.1 L958.8 549.2 L958.9 549.3 L959.2 549.4 L959.4 549.5 L959.6 549.5 L959.7 549.6 L959.7 549.6 L959.7 549.7 L959.9 549.8 L960.1 550.0 L960.2 550.2 L960.3 550.4 L960.3 550.6 L960.3 550.7 M938.8 557.3 L938.5 557.1 L938.0 556.9 L937.7 556.6 L937.6 556.3 L937.6 556.0 L937.6 555.6 L937.5 555.2 L937.4 554.8 L937.4 554.4 L937.6 554.0 L937.8 553.5 L938.0 553.1 L938.2 552.8 L938.4 552.5 L938.6 552.3 L939.0 552.1 L939.4 551.8 L939.7 551.7 M954.6 557.8 Q955.5 556.5 954.3 555.4 Q955.7 555.0 955.8 553.5 Q955.0 552.4 955.5 551.1 M972.2 562.2 L972.0 562.4 L971.6 562.7 L971.3 563.0 L971.0 563.2 L970.8 563.3 L970.5 563.3 L970.2 563.3 L969.9 563.2 L969.5 563.1 L969.2 563.0 L968.9 562.9 L968.6 562.8 L968.3 562.7 L967.9 562.7 L967.7 562.5 L967.4 562.2 L967.3 561.9 L967.2 561.6 M944.1 552.9 L944.1 553.1 L944.0 553.4 L943.9 553.6 L943.7 553.8 L943.5 554.0 L943.3 554.1 L943.0 554.1 L942.7 554.0 L942.5 554.0 L942.2 554.0 L942.0 554.0 L941.8 554.0 L941.6 553.8 L941.5 553.5 L941.4 553.3 L941.2 553.0 L941.1 552.7 L940.9 552.5 M953.9 569.7 Q951.8 569.3 951.4 571.5 Q949.5 570.6 948.6 572.6 M948.5 543.9 Q949.0 542.9 950.1 542.9 Q951.0 541.9 952.0 542.7 Q952.6 543.7 953.7 543.8 M957.8 563.9 L958.0 563.8 L958.2 563.8 L958.4 563.8 L958.6 563.8 L958.8 563.9 L959.0 563.9 L959.1 563.9 L959.3 563.9 L959.4 563.9 L959.6 564.1 L959.8 564.2 L960.0 564.4 L960.1 564.6 L960.1 564.7 L960.2 564.8 L960.4 565.1 L960.6 565.3 L960.7 565.5 M938.2 553.1 L938.0 552.9 L937.6 552.7 L937.3 552.5 L937.0 552.3 L936.8 552.2 L936.5 552.1 L936.2 551.9 L935.9 551.7 L935.7 551.4 L935.6 551.2 L935.7 550.8 L935.7 550.5 L935.7 550.2 L935.6 549.9 L935.7 549.6 L935.8 549.3 L936.0 549.0 L936.1 548.8 M960.7 553.3 L960.9 553.1 L961.2 552.8 L961.5 552.5 L961.7 552.2 L962.0 552.0 L962.2 551.9 L962.5 551.9 L962.9 551.9 L963.2 552.0 L963.6 552.1 L963.9 552.2 L964.2 552.4 L964.5 552.5 L964.6 552.8 L964.8 553.0 L964.9 553.3 L965.1 553.5 L965.2 553.7 M968.3 558.4 L968.6 558.6 L969.2 558.7 L969.7 559.0 L970.0 559.2 L970.3 559.6 L970.6 559.9 L970.8 560.3 L971.1 560.7 L971.2 561.2 L971.2 561.7 L971.2 562.2 L971.0 562.6 L970.7 563.1 L970.3 563.5 L969.9 563.8 L969.5 564.0 L969.0 564.1 L968.6 564.1 M955.2 540.4 Q956.2 539.7 957.0 540.6 Q958.0 540.6 958.5 541.4 M945.0 540.4 Q944.3 543.1 946.8 544.4 Q950.0 544.9 949.4 548.0 M960.3 563.5 L960.2 563.7 L959.9 564.0 L959.7 564.2 L959.4 564.4 L959.1 564.5 L958.8 564.5 L958.5 564.4 L958.2 564.2 L958.0 564.1 L957.7 563.9 L957.5 563.7 L957.3 563.5 L957.1 563.3 L957.0 563.0 L957.0 562.7 L957.0 562.4 L957.1 562.1 L957.2 561.8 M949.9 587.7 Q947.5 586.3 948.8 583.8 Q946.1 584.4 945.4 581.6 M944.8 557.2 L944.5 557.3 L944.1 557.6 L943.7 557.7 L943.4 557.6 L943.0 557.5 L942.7 557.3 L942.4 557.2 L942.2 557.0 L941.9 556.8 L941.7 556.6 L941.6 556.3 L941.5 556.0 L941.4 555.7 L941.3 555.4 L941.3 555.0 L941.3 554.7 L941.3 554.3 L941.4 554.0 M950.3 568.9 Q949.9 567.6 951.0 566.8 Q950.7 565.5 951.7 564.7 M956.7 553.8 L956.7 553.8 L956.6 553.8 L956.5 553.8 L956.4 553.9 L956.3 554.0 L956.2 554.0 L956.1 554.0 L956.0 554.0 L955.9 553.9 L955.8 553.9 L955.7 553.9 L955.6 553.8 L955.5 553.8 L955.4 553.8 L955.4 553.7 L955.2 553.6 L955.1 553.5 L955.0 553.4 M961.6 587.5 Q961.2 589.3 959.4 589.4 Q959.4 591.4 957.5 591.7 M979.4 563.0 L979.1 563.0 L978.8 563.1 L978.4 563.1 L978.0 563.0 L977.7 562.9 L977.3 562.8 L977.0 562.7 L976.8 562.5 L976.6 562.3 L976.5 562.0 L976.4 561.7 L976.4 561.4 L976.3 561.0 L976.2 560.7 L976.2 560.4 L976.4 560.0 L976.7 559.6 L976.8 559.3 M937.4 571.3 Q940.4 570.8 939.7 567.8 Q937.3 566.1 938.9 563.7 M941.6 548.1 L941.7 548.3 L941.8 548.6 L941.9 548.9 L941.8 549.2 L941.7 549.5 L941.5 549.8 L941.4 550.0 L941.2 550.2 L941.1 550.5 L940.9 550.7 L940.8 551.0 L940.6 551.2 L940.3 551.2 L940.0 551.2 L939.7 551.2 L939.3 551.2 L939.0 551.1 L938.8 551.1 M945.7 575.7 L945.7 575.9 L945.7 576.2 L945.7 576.4 L945.6 576.7 L945.5 577.0 L945.3 577.2 L945.2 577.4 L945.0 577.6 L944.8 577.7 L944.6 577.8 L944.3 577.8 L944.1 577.8 L943.8 577.8 L943.5 577.9 L943.2 577.8 L943.0 577.7 L942.7 577.4 L942.6 577.2 M962.2 556.7 L962.1 556.9 L962.1 557.0 L962.1 557.2 L962.0 557.4 L961.9 557.6 L961.9 557.8 L961.8 557.9 L961.7 558.0 L961.6 558.0 L961.5 558.2 L961.3 558.4 L961.1 558.5 L961.0 558.5 L960.8 558.4 L960.6 558.4 L960.4 558.4 L960.2 558.4 L960.1 558.5 M968.3 577.9 L968.4 578.0 L968.6 578.1 L968.8 578.3 L968.9 578.4 L969.1 578.5 L969.2 578.6 L969.3 578.8 L969.3 579.0 L969.3 579.2 L969.4 579.3 L969.6 579.5 L969.7 579.7 L969.7 579.9 L969.7 580.1 L969.6 580.2 L969.5 580.4 L969.3 580.6 L969.2 580.7 M966.9 559.2 L967.2 559.4 L967.5 559.7 L967.8 560.0 L967.9 560.4 L968.0 560.8 L968.0 561.3 L968.0 561.7 L967.9 562.1 L967.8 562.6 L967.6 563.0 L967.4 563.3 L967.2 563.7 L966.9 564.0 L966.6 564.2 L966.2 564.4 L965.8 564.5 L965.3 564.5 L965.0 564.5 M972.1 558.4 L972.4 558.3 L973.0 558.3 L973.5 558.4 L973.9 558.6 L974.3 559.0 L974.7 559.4 L975.0 559.8 L975.3 560.1 L975.6 560.5 L975.8 561.0 L975.9 561.5 L976.0 562.0 L975.8 562.5 L975.5 563.0 L975.2 563.4 L974.9 563.8 L974.5 564.1 L974.2 564.3 M938.3 561.4 L938.2 561.3 L938.1 561.2 L938.0 561.1 L937.9 561.1 L937.8 561.0 L937.8 560.9 L937.7 560.8 L937.6 560.7 L937.6 560.7 L937.5 560.6 L937.5 560.4 L937.5 560.3 L937.5 560.2 L937.4 560.1 L937.4 560.0 L937.4 559.9 L937.4 559.8 L937.4 559.7 M945.2 577.7 L945.4 577.8 L945.6 577.9 L945.8 578.1 L945.8 578.3 L945.7 578.5 L945.7 578.8 L945.7 579.0 L945.7 579.2 L945.7 579.4 L945.5 579.6 L945.4 579.8 L945.2 579.9 L945.0 580.0 L944.7 580.1 L944.5 580.2 L944.2 580.2 L944.0 580.1 L943.8 580.1" fill="none" stroke="#4f8a4f" stroke-width="0.5" stroke-linecap="round" opacity="0.7"/>
<path d="M900.9 532.3 L902.2 531.4 L903.2 531.6 L903.7 532.2 L903.9 533.1 L903.5 534.4 L904.2 534.8 L905.2 535.2 L905.7 535.8 L905.8 536.7 L905.3 538.0 L906.9 537.9 L907.8 538.2 L908.3 538.9 L908.4 539.8 L907.9 541.0 L908.4 541.6 L909.1 542.1 L909.3 542.9 L908.8 544.1 L910.6 544.0 L911.6 544.3 L912.3 544.9 L912.6 545.6 L912.6 546.5 L912.5 547.9 L913.4 548.6 L914.6 548.2 L915.4 547.8 L916.1 547.4 L916.9 547.1 L917.8 547.0 L917.9 547.0 L917.9 546.4 L918.1 547.0 L917.9 547.7 L917.4 548.3 L916.5 548.7 L917.4 550.1 L917.7 551.2 L916.7 551.6 L915.1 551.3 L915.7 553.0 L915.6 554.0 L915.0 554.5 L913.8 554.5 L912.0 553.8 L912.3 555.2 L912.0 556.1 L911.3 556.4 L909.9 556.4 L910.1 557.6 L910.2 558.5 L909.7 559.2 L908.4 560.0 L909.0 561.0 L909.7 561.7 L910.3 562.3 L910.9 562.9 L911.5 563.5 L912.3 564.2 L913.1 565.2 L914.0 564.2 L914.8 563.8 L915.6 563.5 L916.4 563.4 L917.2 563.5 L918.0 563.8 L918.8 564.5 L919.6 562.7 L920.5 562.6 L920.4 564.1 L920.5 564.3 L920.8 564.9 L920.7 565.7 L920.4 566.4 L919.8 567.1 L919.2 567.7 L918.7 568.5 L919.0 569.4 L919.0 570.2 L918.7 570.9 L918.1 571.6 L917.2 572.1 L918.1 573.3 L918.3 574.2 L918.0 574.9 L917.1 575.5 L916.6 576.4 L917.2 577.3 L917.8 578.1 L918.3 579.0 L918.9 579.3 L920.2 579.2 L920.6 580.2 L920.3 581.1 L919.4 581.6 L918.1 581.7 L918.2 582.7 L918.4 583.9 L918.0 584.7 L917.1 584.9 L915.4 584.6 L915.7 585.8 L915.8 586.9 L915.6 587.6 L915.0 588.2 L914.0 588.5 L912.4 588.6 L913.0 589.8 L913.0 590.8 L912.5 591.4 L911.7 591.8 L910.6 591.7 L910.0 592.1 L909.8 593.2 L909.0 593.5 L907.6 592.7 L907.5 594.1 L907.1 594.9 L906.4 595.5 L905.7 595.8 L904.8 595.7 L903.6 595.2 L903.0 595.6 L902.4 596.2 L901.7 596.6 L901.0 596.7 L900.4 596.7 L899.8 596.4 L899.5 595.7 L898.3 596.3 L897.3 596.3 L896.4 595.8 L895.9 595.1 L895.7 594.3 L895.9 593.3 L896.4 592.0 L895.5 591.6 L894.6 591.2 L894.0 590.7 L893.5 590.0 L893.2 589.0 L892.4 588.6 L891.3 589.0 L890.7 588.4 L890.1 587.5 L889.2 587.8 L888.5 587.3 L887.7 587.4 L886.7 587.8 L886.0 587.3 L886.1 585.6 L884.8 586.2 L883.8 586.2 L883.0 585.9 L882.4 585.4 L882.0 584.6 L881.9 583.5 L881.9 582.5 L880.6 582.6 L879.8 582.2 L879.6 581.3 L880.0 580.0 L878.0 580.6 L877.0 580.2 L876.8 579.3 L877.6 578.0 L877.4 577.2 L876.4 576.8 L875.7 576.2 L875.4 575.5 L875.3 574.7 L875.4 573.7 L875.9 572.2 L874.6 572.2 L873.7 572.0 L873.1 571.4 L872.8 570.3 L871.7 570.6 L870.7 570.7 L869.9 570.4 L869.5 569.5 L870.0 568.6 L869.3 568.0 L868.5 566.8 L868.7 565.9 L869.6 565.4 L871.4 565.7 L871.0 564.4 L871.3 563.6 L872.7 563.7 L872.9 562.8 L872.9 561.8 L873.3 561.0 L874.0 560.6 L875.1 560.5 L876.3 560.5 L876.4 559.6 L876.8 558.9 L877.4 558.3 L878.0 557.8 L878.8 557.5 L879.8 557.4 L879.3 555.7 L879.7 554.9 L880.8 554.9 L881.6 554.6 L881.5 553.4 L882.1 552.8 L883.3 552.8 L883.7 552.1 L883.7 551.0 L884.0 550.3 L884.8 549.8 L886.4 549.7 L885.2 548.2 L885.5 547.5 L887.4 547.4 L886.2 546.1 L886.0 545.1 L886.4 544.4 L887.2 543.9 L888.9 543.9 L888.2 542.6 L888.1 541.6 L888.4 540.8 L888.9 540.2 L889.7 539.8 L890.9 539.7 L891.0 538.8 L891.1 537.8 L891.6 537.1 L892.5 536.9 L893.4 537.3 L894.1 538.6 L895.0 537.7 L895.8 537.4 L896.7 537.1 L897.6 536.7 L898.8 536.3 L898.3 535.1 L898.1 534.1 L898.1 533.3 L898.5 532.5 L899.1 532.0 L900.1 531.8 L900.0 530.5 L901.0 529.2Z" fill="#00ffff" stroke="#109898" stroke-width="0.6" stroke-linejoin="round"/>
<path d="M893.1 543.6 L893.0 543.6 L892.8 543.5 L892.7 543.4 L892.6 543.3 L892.6 543.2 L892.5 543.1 L892.4 542.9 L892.3 542.8 L892.3 542.6 L892.3 542.5 L892.3 542.3 L892.4 542.2 L892.4 542.1 L892.4 541.9 L892.5 541.8 L892.5 541.6 L892.6 541.4 L892.7 541.3 M890.5 551.8 L890.5 552.1 L890.5 552.4 L890.4 552.8 L890.2 553.0 L890.0 553.2 L889.7 553.3 L889.5 553.3 L889.2 553.4 L889.0 553.4 L888.7 553.6 L888.4 553.7 L888.1 553.8 L887.9 553.7 L887.6 553.5 L887.3 553.3 L887.0 553.2 L886.8 553.1 L886.6 553.1 M899.2 587.5 L899.0 587.8 L898.8 588.3 L898.5 588.8 L898.2 589.2 L897.9 589.6 L897.5 589.9 L897.2 590.0 L896.8 589.9 L896.3 589.9 L895.9 590.0 L895.4 590.1 L895.0 590.1 L894.7 589.9 L894.4 589.6 L894.1 589.3 L893.8 588.9 L893.5 588.3 L893.4 588.0 M883.4 560.6 Q884.7 561.0 885.2 559.8 Q885.9 560.7 887.1 560.5 M890.2 544.6 L890.1 544.6 L890.0 544.7 L889.9 544.7 L889.8 544.7 L889.7 544.6 L889.6 544.6 L889.5 544.6 L889.4 544.7 L889.3 544.7 L889.1 544.7 L889.0 544.7 L888.9 544.6 L888.8 544.5 L888.8 544.4 L888.7 544.3 L888.6 544.2 L888.5 544.1 L888.5 544.1 M911.3 571.3 Q911.7 572.2 912.6 571.9 Q912.8 572.7 913.6 572.8 Q914.5 572.9 914.6 573.7 M906.0 546.2 L906.3 546.3 L906.7 546.4 L907.0 546.5 L907.3 546.8 L907.5 547.1 L907.7 547.4 L907.8 547.7 L907.8 548.1 L907.8 548.5 L907.7 548.8 L907.5 549.2 L907.3 549.4 L907.0 549.7 L906.7 549.9 L906.3 550.0 L905.9 550.0 L905.5 550.0 L905.2 549.9 M899.5 578.9 Q901.0 579.1 900.8 580.6 Q899.5 581.5 900.3 582.7 M888.6 562.8 L888.6 563.0 L888.7 563.3 L888.7 563.5 L888.7 563.8 L888.7 564.0 L888.7 564.2 L888.7 564.5 L888.7 564.6 L888.6 564.9 L888.4 565.1 L888.2 565.4 L887.9 565.6 L887.7 565.7 L887.4 565.7 L887.2 565.7 L886.9 565.7 L886.6 565.7 L886.4 565.7 M891.6 550.6 L891.6 550.8 L891.5 551.1 L891.5 551.4 L891.4 551.6 L891.3 551.8 L891.1 552.0 L890.9 552.2 L890.7 552.3 L890.5 552.4 L890.2 552.5 L889.9 552.5 L889.6 552.6 L889.4 552.6 L889.1 552.7 L888.9 552.7 L888.6 552.5 L888.4 552.3 L888.3 552.1 M889.0 556.0 Q887.7 555.7 887.8 554.3 Q886.5 554.3 886.4 553.0 M876.0 562.6 L876.1 562.8 L876.2 563.0 L876.3 563.2 L876.3 563.5 L876.4 563.7 L876.4 563.9 L876.3 564.2 L876.1 564.4 L876.0 564.7 L876.0 564.9 L876.0 565.1 L876.0 565.3 L875.8 565.5 L875.6 565.7 L875.3 565.9 L875.2 566.1 L875.0 566.3 L874.9 566.5 M886.6 563.1 Q884.1 564.4 882.5 562.0 Q879.8 563.4 878.4 560.6 M895.9 562.6 L896.1 562.5 L896.3 562.4 L896.6 562.4 L896.8 562.5 L897.0 562.6 L897.2 562.8 L897.3 563.0 L897.4 563.2 L897.5 563.5 L897.5 563.7 L897.6 564.0 L897.5 564.2 L897.4 564.4 L897.2 564.6 L897.0 564.8 L896.8 565.0 L896.6 565.1 L896.4 565.2 M906.2 546.7 L906.2 546.9 L906.2 547.1 L906.2 547.3 L906.3 547.5 L906.3 547.7 L906.3 547.9 L906.3 548.1 L906.4 548.4 L906.3 548.6 L906.3 548.8 L906.1 549.1 L906.0 549.2 L905.9 549.4 L905.8 549.5 L905.6 549.6 L905.4 549.8 L905.2 550.1 L905.0 550.2 M891.2 585.6 L891.0 585.8 L890.8 586.1 L890.5 586.3 L890.3 586.3 L890.1 586.4 L889.9 586.4 L889.6 586.4 L889.3 586.3 L889.0 586.3 L888.8 586.2 L888.5 586.2 L888.3 586.2 L888.2 586.0 L888.0 585.8 L887.9 585.5 L887.9 585.2 L887.8 584.9 L887.8 584.7 M886.8 565.2 L887.0 564.9 L887.2 564.6 L887.4 564.3 L887.5 564.0 L887.6 563.8 L887.8 563.6 L888.0 563.3 L888.4 563.1 L888.7 563.0 L889.0 563.0 L889.4 563.1 L889.7 563.2 L890.0 563.2 L890.3 563.3 L890.5 563.4 L890.8 563.6 L891.2 563.9 L891.4 564.1 M898.2 593.2 Q900.1 593.7 901.2 592.1 Q903.1 591.6 903.0 589.6 M899.5 573.4 L899.5 573.7 L899.5 574.0 L899.4 574.4 L899.5 574.7 L899.5 575.1 L899.5 575.4 L899.2 575.7 L898.9 576.0 L898.6 576.2 L898.3 576.3 L898.0 576.4 L897.7 576.5 L897.4 576.6 L897.1 576.8 L896.8 576.9 L896.4 576.8 L896.1 576.6 L895.8 576.4 M880.8 562.1 Q881.8 564.2 884.1 563.8 Q886.2 563.2 887.7 564.8 M898.2 557.6 L898.5 557.6 L898.8 557.6 L899.2 557.6 L899.5 557.6 L899.7 557.7 L900.0 557.8 L900.4 557.9 L900.7 558.1 L901.0 558.3 L901.2 558.4 L901.3 558.6 L901.4 558.8 L901.5 558.9 L901.7 559.1 L901.8 559.3 L901.9 559.6 L902.0 559.9 L902.1 560.2 M902.1 589.2 Q901.9 587.6 900.4 587.0 Q898.5 586.5 899.0 584.6 Q899.4 582.8 897.7 582.1 M900.1 551.2 Q898.7 551.7 897.6 550.5 Q896.1 551.4 895.1 549.9 M880.5 559.1 L880.4 559.3 L880.3 559.6 L880.1 559.8 L880.0 560.1 L879.9 560.3 L879.8 560.6 L879.6 560.7 L879.4 560.9 L879.1 561.0 L878.9 561.1 L878.7 561.2 L878.4 561.3 L878.2 561.4 L877.9 561.5 L877.6 561.5 L877.3 561.5 L877.1 561.4 L876.8 561.4 M898.0 595.7 L897.8 595.6 L897.7 595.4 L897.5 595.2 L897.4 595.0 L897.3 594.7 L897.2 594.5 L897.3 594.2 L897.4 593.9 L897.5 593.7 L897.6 593.5 L897.8 593.3 L898.0 593.2 L898.2 593.1 L898.5 592.9 L898.8 592.9 L899.0 593.0 L899.3 593.2 L899.5 593.3 M887.8 560.0 L887.8 559.9 L887.9 559.6 L887.9 559.4 L887.9 559.2 L887.9 559.0 L888.0 558.8 L888.1 558.6 L888.3 558.4 L888.5 558.3 L888.7 558.2 L888.8 558.1 L889.0 558.1 L889.2 558.0 L889.4 558.0 L889.6 558.0 L889.8 558.1 L890.0 558.3 L890.2 558.4 M908.4 567.9 Q910.2 567.6 911.0 569.1 Q912.8 569.7 912.6 571.6 Q914.5 571.9 914.2 573.9 M897.5 562.6 Q897.5 561.3 896.2 561.4 Q895.4 560.6 896.2 559.7 M892.2 568.8 L892.1 568.7 L892.0 568.6 L891.9 568.4 L891.8 568.3 L891.7 568.3 L891.6 568.2 L891.5 568.1 L891.5 567.9 L891.4 567.8 L891.4 567.6 L891.3 567.5 L891.3 567.4 L891.3 567.2 L891.4 567.1 L891.4 566.9 L891.5 566.8 L891.5 566.7 L891.5 566.6 M905.9 551.7 L906.2 551.8 L906.6 551.9 L906.9 552.1 L907.2 552.4 L907.4 552.8 L907.6 553.2 L907.8 553.6 L907.8 554.0 L907.8 554.5 L907.7 554.9 L907.5 555.3 L907.2 555.7 L907.0 556.0 L906.7 556.2 L906.4 556.4 L906.0 556.7 L905.6 556.9 L905.3 557.0 M913.7 570.2 L913.8 570.2 L914.0 570.1 L914.1 570.1 L914.3 570.1 L914.5 570.2 L914.6 570.2 L914.8 570.2 L914.9 570.2 L915.1 570.3 L915.2 570.4 L915.3 570.6 L915.4 570.7 L915.5 570.8 L915.5 570.9 L915.6 571.1 L915.7 571.3 L915.8 571.5 L915.8 571.6 M888.6 576.9 L888.8 577.0 L889.0 577.2 L889.1 577.3 L889.3 577.5 L889.4 577.6 L889.5 577.8 L889.5 578.0 L889.4 578.2 L889.4 578.4 L889.3 578.6 L889.3 578.8 L889.3 579.0 L889.2 579.1 L889.0 579.3 L888.8 579.4 L888.6 579.4 L888.4 579.5 L888.2 579.6 M907.3 550.3 L907.3 550.4 L907.2 550.5 L907.1 550.6 L907.0 550.7 L906.8 550.8 L906.6 550.8 L906.5 550.8 L906.3 550.7 L906.2 550.6 L906.0 550.6 L905.9 550.6 L905.7 550.5 L905.6 550.5 L905.5 550.5 L905.3 550.5 L905.2 550.3 L905.1 550.2 L905.0 550.0 M909.8 552.6 L909.7 552.9 L909.4 553.2 L909.2 553.5 L908.9 553.7 L908.6 553.8 L908.3 553.9 L908.0 553.9 L907.6 553.9 L907.3 553.8 L906.9 553.8 L906.6 553.7 L906.3 553.5 L906.1 553.2 L906.0 552.9 L905.9 552.5 L905.9 552.1 L905.8 551.7 L905.8 551.4 M903.2 565.5 Q903.1 567.5 905.1 567.5 Q903.9 569.1 905.4 570.3 Q906.2 571.8 905.1 573.1 M901.6 585.3 Q901.3 584.6 900.5 584.7 Q899.9 585.1 899.3 584.9 Q898.6 584.3 898.0 585.0 M887.5 579.0 L887.7 579.0 L887.9 579.1 L888.1 579.1 L888.3 579.2 L888.5 579.3 L888.7 579.5 L888.8 579.6 L889.0 579.8 L889.1 579.9 L889.1 580.1 L889.1 580.4 L889.1 580.6 L889.0 580.8 L888.9 581.0 L888.8 581.1 L888.6 581.2 L888.4 581.3 L888.3 581.4 M916.0 580.0 L915.8 579.9 L915.5 579.8 L915.2 579.6 L915.0 579.5 L914.9 579.3 L914.8 579.0 L914.8 578.8 L914.8 578.5 L914.8 578.2 L914.9 577.9 L914.9 577.7 L915.0 577.5 L915.2 577.3 L915.4 577.2 L915.6 577.0 L915.9 576.9 L916.3 576.7 L916.5 576.6 M907.9 570.8 Q908.3 571.8 909.4 571.6 Q909.0 572.7 909.9 573.3 Q909.3 574.3 910.3 575.0 M888.9 558.4 Q890.2 558.8 890.1 560.1 Q891.5 560.5 891.3 561.9 M905.9 562.4 L905.7 562.1 L905.3 561.8 L905.0 561.5 L904.8 561.2 L904.7 560.8 L904.6 560.5 L904.6 560.2 L904.7 559.8 L904.8 559.5 L904.9 559.2 L905.0 558.9 L905.2 558.7 L905.5 558.4 L905.9 558.1 L906.3 557.9 L906.7 557.9 L907.1 558.1 L907.4 558.2 M911.7 574.0 Q913.3 574.5 912.8 576.0 Q912.6 577.5 913.8 578.2 Q913.0 579.4 914.1 580.5 M909.8 550.7 Q908.5 551.7 907.3 550.7 Q906.7 552.4 905.0 551.9 Q904.7 553.7 903.0 553.6" fill="none" stroke="#109898" stroke-width="0.5" stroke-linecap="round" opacity="0.7"/>
<path d="M885.3 390.0 L885.4 389.8 L885.5 389.5 L885.5 389.1 L885.6 388.7 L885.8 388.3 L886.1 387.8 L886.5 387.4 L887.0 387.0 L887.7 386.5 L888.6 386.0 L889.7 385.4 L890.8 384.9 L892.0 384.4 L893.2 384.0 L894.3 383.7 L895.3 383.7 L896.2 383.9 L897.1 384.4 L897.9 385.1 L898.7 385.8 L899.5 386.6 L900.3 387.3 L901.1 387.9 L902.0 388.3 L902.9 388.4 L903.9 388.3 L904.8 388.1 L905.8 387.8 L906.8 387.6 L907.7 387.4 L908.6 387.3 L909.5 387.5 L910.3 387.9 L911.1 388.6 L911.8 389.4 L912.5 390.2 L913.2 391.1 L913.9 391.9 L914.6 392.6 L915.3 393.0 L916.1 393.2 L916.8 393.2 L917.6 393.0 L918.4 392.8 L919.2 392.5 L919.9 392.4 L920.6 392.3 L921.2 392.5 L921.8 392.9 L922.3 393.5 L922.8 394.2 L923.2 395.0 L923.6 395.7 L924.0 396.5 L924.3 397.1 L924.5 397.5" fill="none" stroke="#b07a18" stroke-width="2.3" stroke-linecap="round" stroke-linejoin="round"/>
<path d="M885.3 390.0 L885.4 389.8 L885.5 389.5 L885.5 389.1 L885.6 388.7 L885.8 388.3 L886.1 387.8 L886.5 387.4 L887.0 387.0 L887.7 386.5 L888.6 386.0 L889.7 385.4 L890.8 384.9 L892.0 384.4 L893.2 384.0 L894.3 383.7 L895.3 383.7 L896.2 383.9 L897.1 384.4 L897.9 385.1 L898.7 385.8 L899.5 386.6 L900.3 387.3 L901.1 387.9 L902.0 388.3 L902.9 388.4 L903.9 388.3 L904.8 388.1 L905.8 387.8 L906.8 387.6 L907.7 387.4 L908.6 387.3 L909.5 387.5 L910.3 387.9 L911.1 388.6 L911.8 389.4 L912.5 390.2 L913.2 391.1 L913.9 391.9 L914.6 392.6 L915.3 393.0 L916.1 393.2 L916.8 393.2 L917.6 393.0 L918.4 392.8 L919.2 392.5 L919.9 392.4 L920.6 392.3 L921.2 392.5 L921.8 392.9 L922.3 393.5 L922.8 394.2 L923.2 395.0 L923.6 395.7 L924.0 396.5 L924.3 397.1 L924.5 397.5" fill="none" stroke="#fcab08" stroke-width="1.5" stroke-linecap="round" stroke-linejoin="round"/>
<circle cx="930.3" cy="392.4" r="3.5" fill="#ff00ff"/>
<circle cx="929.3" cy="397.5" r="4.2" fill="#ff00ff"/>
<circle cx="932.6" cy="398.5" r="3.8" fill="#ff00ff"/>
<circle cx="916.6" cy="405.2" r="3.6" fill="#ff00ff"/>
<circle cx="920.8" cy="404.6" r="4.2" fill="#ff00ff"/>
<circle cx="925.5" cy="404" r="4.8" fill="#ff00ff"/>
<circle cx="930.5" cy="404" r="4.9" fill="#ff00ff"/>
<circle cx="934.8" cy="404.6" r="3.7" fill="#ff00ff"/>
<circle cx="927" cy="400" r="4" fill="#ff00ff"/>
<circle cx="923.6" cy="400.8" r="3.1" fill="#ff00ff"/>
<rect x="33.7" y="497.3" width="989.8" height="9.4" fill="rgb(254,226,140)" fill-opacity="0.75"/>
<path d="M34.7 495.100 H1023.700 M34.700 509.800 H1023.700" stroke="#000" stroke-width="1.9" stroke-dasharray="7.7 5.56" fill="none"/>
<clipPath id="c1"><rect x="487" y="197.300" width="162.5" height="109.800"/></clipPath>
<g clip-path="url(#c1)">
<rect x="487" y="197.300" width="161.6" height="109.800" fill="#a6fea6"/>
<path d="M490.5 312.0 L482.0 310.7 L479.4 309.0 L480.7 306.9 L484.0 304.7 L487.4 302.7 L488.9 301.0 L489.0 299.7 L489.3 298.5 L489.7 297.5 L490.1 296.6 L490.4 295.6 L490.5 294.6 L490.4 293.5 L490.1 292.4 L489.8 291.3 L489.4 290.2 L489.0 289.1 L488.8 288.0 L488.6 286.8 L488.5 285.5 L488.4 284.1 L488.3 282.9 L488.4 281.8 L488.6 281.0 L488.9 280.5 L489.4 280.2 L490.0 280.0 L490.6 280.0 L491.3 280.0 L492.0 280.0 L492.7 280.0 L493.5 280.1 L494.3 280.2 L495.1 280.4 L495.9 280.6 L496.7 280.7 L497.4 280.8 L498.2 281.0 L498.9 281.1 L499.6 281.2 L500.3 281.3 L501.0 281.3 L501.8 281.3 L502.5 281.2 L503.3 281.1 L504.1 281.0 L504.8 280.9 L505.5 280.7 L506.1 280.5 L506.8 280.3 L507.4 280.1 L507.9 279.8 L508.5 279.5 L509.0 279.2 L509.5 278.9 L510.1 278.6 L510.6 278.2 L511.0 277.8 L511.4 277.4 L511.8 276.9 L512.1 276.3 L512.3 275.7 L512.4 275.0 L512.5 274.3 L512.7 273.7 L512.8 273.0 L512.9 272.4 L513.0 271.7 L513.1 271.1 L513.2 270.5 L513.4 269.9 L513.7 269.3 L514.2 268.8 L514.7 268.3 L515.4 267.8 L516.1 267.3 L516.8 266.9 L517.5 266.5 L518.2 266.2 L519.0 265.9 L519.8 265.7 L520.5 265.5 L521.3 265.2 L522.0 264.9 L522.7 264.4 L523.3 263.9 L524.0 263.3 L524.6 262.7 L525.2 262.2 L525.8 261.7 L526.4 261.3 L526.9 261.0 L527.4 260.7 L528.0 260.4 L528.5 260.2 L529.0 260.0 L529.5 259.8 L530.1 259.7 L530.6 259.7 L531.1 259.6 L531.6 259.4 L532.1 259.2 L532.5 258.8 L533.0 258.3 L533.4 257.8 L533.8 257.2 L534.2 256.8 L534.6 256.6 L535.1 256.7 L535.6 256.9 L536.1 257.3 L536.6 257.7 L537.1 258.0 L537.5 258.2 L537.9 258.2 L538.2 258.1 L538.5 257.9 L538.8 257.7 L539.2 257.5 L539.7 257.3 L540.4 257.1 L541.2 256.8 L542.1 256.6 L543.0 256.3 L543.9 256.1 L544.8 256.0 L545.6 256.0 L546.5 256.0 L547.3 256.1 L548.1 256.2 L549.0 256.4 L549.8 256.6 L550.7 256.9 L551.6 257.2 L552.5 257.6 L553.3 258.0 L554.2 258.3 L554.9 258.5 L555.5 258.6 L556.1 258.6 L556.6 258.6 L557.0 258.5 L557.5 258.4 L558.0 258.3 L558.5 258.2 L559.0 257.9 L559.6 257.7 L560.1 257.5 L560.6 257.3 L561.2 257.3 L561.8 257.4 L562.4 257.7 L563.1 258.1 L563.7 258.4 L564.3 258.7 L565.0 258.7 L565.6 258.5 L566.2 258.0 L566.8 257.4 L567.5 256.9 L568.2 256.3 L569.0 256.0 L569.9 255.8 L570.9 255.7 L572.0 255.7 L573.1 255.7 L574.2 255.8 L575.3 256.0 L576.4 256.3 L577.5 256.7 L578.6 257.2 L579.8 257.7 L580.9 258.2 L582.0 258.5 L583.1 258.8 L584.2 259.0 L585.4 259.2 L586.5 259.3 L587.6 259.4 L588.7 259.3 L589.8 259.0 L590.8 258.6 L591.8 258.0 L592.8 257.5 L594.0 257.0 L595.3 256.8 L596.8 256.7 L598.5 256.8 L600.3 257.0 L602.1 257.2 L604.1 257.6 L606.0 258.0 L608.1 258.5 L610.4 259.2 L612.8 259.9 L615.0 260.7 L617.1 261.7 L618.7 262.7 L619.9 263.9 L620.8 265.3 L621.4 266.8 L621.9 268.3 L622.4 269.7 L622.8 271.0 L623.2 272.1 L623.5 273.2 L623.8 274.2 L624.0 275.1 L624.2 276.0 L624.5 277.0 L624.9 278.0 L625.3 278.9 L625.7 279.9 L626.2 280.8 L626.6 281.8 L627.0 282.7 L627.4 283.6 L627.7 284.5 L628.1 285.4 L628.4 286.3 L628.7 287.2 L629.0 288.0 L629.3 288.8 L629.5 289.5 L629.7 290.2 L629.9 291.0 L630.1 291.8 L630.3 292.7 L630.6 293.7 L630.9 294.8 L631.2 295.9 L631.5 297.1 L631.8 298.5 L632.0 300.0 L633.9 301.9 L637.7 304.1 L641.5 306.5 L643.3 308.7 L641.1 310.6 L633.0 312.0 L615.9 312.8 L590.9 313.3 L561.9 313.4 L532.9 313.3 L507.8 312.8Z" fill="#fff" stroke="#33553a" stroke-width="0.7"/>
<path d="M595.5 212.5 L595.3 213.1 L595.1 213.9 L594.8 214.9 L594.5 215.9 L594.3 217.0 L594.2 218.0 L594.2 219.0 L594.2 220.1 L594.3 221.1 L594.4 222.2 L594.6 223.3 L594.8 224.3 L595.0 225.3 L595.2 226.3 L595.5 227.3 L595.8 228.2 L596.1 229.1 L596.5 230.0 L596.9 230.8 L597.3 231.6 L597.8 232.4 L598.3 233.2 L598.9 233.9 L599.5 234.5 L600.2 235.1 L601.0 235.7 L601.9 236.2 L602.8 236.7 L603.7 237.1 L604.5 237.5 L605.3 237.8 L606.2 238.0 L607.1 238.2 L607.9 238.3 L608.5 238.4 L609.0 238.5" fill="none" stroke="#33553a" stroke-width="0.7" stroke-linecap="round"/>
<path d="M591.2 235.2 L591.8 235.2 L592.7 235.2 L593.7 235.2 L594.8 235.2 L595.9 235.3 L597.0 235.5 L598.1 235.8 L599.4 236.2 L600.7 236.6 L601.9 237.1 L603.0 237.4 L603.7 237.7" fill="none" stroke="#33553a" stroke-width="0.7" stroke-linecap="round"/>
<path d="M618.7 231.0 L618.5 231.7 L618.3 232.6 L618.0 233.6 L617.6 234.8 L617.3 235.9 L617.0 237.0 L616.7 238.0 L616.4 239.1 L616.0 240.2 L615.7 241.2 L615.5 242.1 L615.3 242.7" fill="none" stroke="#33553a" stroke-width="0.7" stroke-linecap="round"/>
<path d="M642.0 244.3 L641.5 244.5 L640.9 244.8 L640.1 245.1 L639.3 245.5 L638.6 246.0 L638.0 246.5 L637.5 247.1 L637.1 247.9 L636.8 248.7 L636.5 249.5 L636.3 250.3 L636.2 251.0 L636.2 251.7 L636.2 252.3 L636.4 252.9 L636.6 253.5 L636.8 254.0 L637.0 254.5 L637.3 254.9 L637.6 255.4 L637.9 255.7 L638.2 256.0 L638.5 256.3 L638.7 256.5" fill="none" stroke="#33553a" stroke-width="0.7" stroke-linecap="round"/>
<path d="M623.7 206.8 L623.9 207.0 L624.3 207.3 L624.7 207.7 L625.1 208.1 L625.5 208.6 L625.8 209.0 L626.1 209.5 L626.3 210.0 L626.5 210.5 L626.7 211.1 L626.9 211.5 L627.0 211.8" fill="none" stroke="#33553a" stroke-width="0.7" stroke-linecap="round"/>
<path d="M502.8 219.3 L502.7 219.6 L502.5 220.0 L502.3 220.5 L502.0 221.0 L501.8 221.5 L501.5 222.0 L501.2 222.4 L500.8 222.9 L500.4 223.3 L500.0 223.7 L499.7 224.1 L499.5 224.3" fill="none" stroke="#33553a" stroke-width="0.7" stroke-linecap="round"/>
<path d="M575.3 244.3 L575.6 244.5 L576.0 244.7 L576.5 245.0 L577.0 245.3 L577.5 245.6 L578.0 245.8 L578.4 245.9 L578.9 246.0 L579.3 246.0 L579.7 246.0 L580.1 246.0 L580.3 246.0" fill="none" stroke="#33553a" stroke-width="0.7" stroke-linecap="round"/>
<path d="M487.8 238.3 L488.2 238.6 L488.8 239.1 L489.4 239.7 L490.1 240.3 L490.8 240.9 L491.5 241.5 L492.1 242.1 L492.8 242.7 L493.4 243.4 L494.1 244.1 L494.7 244.7 L495.4 245.3 L496.1 245.9 L496.8 246.4 L497.5 246.9 L498.2 247.4 L498.8 247.9 L499.5 248.5 L500.1 249.1 L500.7 249.7 L501.4 250.3 L501.9 251.0 L502.5 251.6 L503.0 252.2 L503.5 252.8 L504.0 253.3 L504.4 253.8 L504.8 254.4 L505.2 254.9 L505.5 255.5 L505.8 256.1 L506.1 256.7 L506.3 257.4 L506.5 258.0 L506.7 258.6 L506.8 259.2 L506.9 259.7 L507.0 260.2 L507.0 260.7 L507.0 261.1 L507.0 261.6 L507.0 262.0 L507.0 262.4 L506.9 262.8 L506.8 263.2 L506.7 263.5 L506.5 263.9 L506.2 264.2 L505.8 264.5 L505.3 264.8 L504.8 265.1 L504.2 265.4 L503.6 265.6 L503.0 265.8 L502.4 265.9 L501.8 266.0 L501.1 266.1 L500.4 266.1 L499.8 266.1 L499.2 266.1 L498.6 266.0 L498.0 265.9 L497.4 265.8 L496.8 265.7 L496.3 265.6 L496.0 265.5" fill="none" stroke="#33553a" stroke-width="0.7" stroke-linecap="round"/>
<path d="M500.5 243.4 L500.8 243.5 L501.3 243.5 L501.8 243.6 L502.4 243.7 L503.0 243.9 L503.5 244.0 L504.0 244.2 L504.5 244.3 L504.9 244.5 L505.4 244.8 L505.8 245.0 L506.2 245.3 L506.6 245.6 L506.9 245.9 L507.2 246.3 L507.5 246.7 L507.7 247.1 L508.0 247.5 L508.3 248.0 L508.5 248.5 L508.8 249.0 L509.0 249.6 L509.2 250.0 L509.3 250.3" fill="none" stroke="#33553a" stroke-width="0.7" stroke-linecap="round"/>
<path d="M520.1 247.8 L520.3 248.1 L520.5 248.6 L520.8 249.2 L521.0 249.8 L521.3 250.4 L521.5 251.0 L521.7 251.5 L521.8 252.0 L521.9 252.5 L522.0 253.0 L522.0 253.5 L522.0 254.1 L521.9 254.7 L521.7 255.4 L521.4 256.0 L521.1 256.7 L520.8 257.4 L520.5 258.0 L520.2 258.6 L519.8 259.1 L519.5 259.6 L519.1 260.1 L518.7 260.6 L518.2 261.1 L517.7 261.6 L517.1 262.1 L516.5 262.5 L515.8 263.0 L515.1 263.4 L514.5 263.8 L513.9 264.2 L513.2 264.5 L512.5 264.8 L511.8 265.0 L511.2 265.3 L510.6 265.5 L510.0 265.7 L509.5 265.8 L509.0 266.0 L508.5 266.1 L508.0 266.1 L507.5 266.2 L506.9 266.2 L506.3 266.2 L505.7 266.2 L505.1 266.2 L504.6 266.1 L504.3 266.1" fill="none" stroke="#33553a" stroke-width="0.7" stroke-linecap="round"/>
<path d="M494.1 254.7 L494.3 254.9 L494.7 255.2 L495.1 255.5 L495.5 255.8 L495.9 256.2 L496.3 256.5 L496.6 256.8 L496.9 257.1 L497.2 257.5 L497.5 257.8 L497.7 258.1 L497.9 258.5 L498.0 258.9 L498.1 259.3 L498.1 259.8 L498.1 260.2 L498.0 260.6 L498.0 261.0 L497.9 261.3 L497.9 261.6 L497.8 261.9 L497.7 262.2 L497.5 262.6 L497.3 263.0 L497.1 263.6 L496.8 264.2 L496.5 264.9 L496.2 265.6 L495.8 266.3 L495.4 266.8 L495.0 267.2 L494.5 267.6 L494.0 267.9 L493.5 268.2 L493.0 268.4 L492.5 268.7 L491.9 269.0 L491.3 269.2 L490.6 269.4 L490.0 269.6 L489.5 269.8 L489.1 269.9" fill="none" stroke="#33553a" stroke-width="0.7" stroke-linecap="round"/>
<path d="M487.8 269.9 L488.5 269.8 L489.4 269.6 L490.5 269.3 L491.7 269.1 L492.9 268.9 L494.1 268.7 L495.4 268.5 L496.9 268.3 L498.4 268.1 L499.8 268.0 L501.0 267.9 L501.7 268.0 L501.9 268.3 L501.7 268.7 L501.2 269.2 L500.6 269.8 L500.0 270.3 L499.5 270.8 L499.1 271.2 L498.6 271.6 L498.2 272.0 L497.7 272.4 L497.2 272.7 L496.7 273.1 L496.2 273.4 L495.7 273.8 L495.1 274.1 L494.6 274.4 L494.0 274.7 L493.5 275.0 L493.0 275.3 L492.4 275.6 L491.8 275.8 L491.3 276.1 L490.8 276.5 L490.3 276.9 L489.9 277.5 L489.5 278.2 L489.1 278.9 L488.8 279.6 L488.6 280.3 L488.4 280.7" fill="none" stroke="#33553a" stroke-width="0.7" stroke-linecap="round"/>
<path d="M513.7 268.7 L513.5 269.0 L513.2 269.3 L512.9 269.7 L512.6 270.2 L512.4 270.6 L512.2 271.0 L512.1 271.4 L512.2 271.8 L512.3 272.2 L512.4 272.6 L512.4 272.9 L512.5 273.1" fill="none" stroke="#33553a" stroke-width="0.7" stroke-linecap="round"/>
<path d="M628.7 269.3 L629.3 269.9 L630.1 270.7 L631.1 271.7 L632.1 272.7 L633.1 273.9 L634.0 275.0 L634.8 276.2 L635.7 277.5 L636.5 278.8 L637.3 280.1 L638.1 281.4 L638.7 282.7 L639.2 283.9 L639.7 285.0 L640.1 286.2 L640.4 287.3 L640.7 288.4 L641.0 289.5 L641.3 290.6 L641.5 291.7 L641.8 292.8 L641.9 293.9 L642.0 294.9 L642.0 296.0 L641.8 297.1 L641.5 298.3 L641.1 299.4 L640.6 300.5 L640.3 301.4 L640.0 302.0" fill="none" stroke="#33553a" stroke-width="0.7" stroke-linecap="round"/>
<path d="M632.0 267.7 L632.4 267.3 L633.0 266.8 L633.7 266.2 L634.5 265.6 L635.3 265.0 L636.0 264.5 L636.7 264.1 L637.6 263.7 L638.4 263.4 L639.2 263.1 L639.8 262.9 L640.3 262.7" fill="none" stroke="#33553a" stroke-width="0.7" stroke-linecap="round"/>
<path d="M619.0 243.0 L619.6 243.5 L620.4 244.1 L621.3 244.9 L622.3 245.8 L623.2 246.6 L624.0 247.5 L624.7 248.4 L625.4 249.2 L626.0 250.2 L626.6 251.1 L627.1 252.0 L627.5 253.0 L627.8 254.0 L628.1 255.0 L628.3 256.0 L628.4 257.1 L628.5 258.1 L628.5 259.0 L628.4 259.9 L628.1 260.9 L627.8 261.9 L627.5 262.7 L627.2 263.5 L627.0 264.0" fill="none" stroke="#33553a" stroke-width="0.7" stroke-linecap="round"/>
<path d="M612.0 198.5 L612.4 198.7 L613.0 199.0 L613.8 199.3 L614.5 199.6 L615.3 199.9 L616.0 200.0 L616.7 200.0 L617.5 199.8 L618.2 199.6 L619.0 199.4 L619.6 199.1 L620.0 199.0" fill="none" stroke="#33553a" stroke-width="0.7" stroke-linecap="round"/>
<path d="M588.0 198.0 L588.2 198.3 L588.6 198.7 L589.0 199.2 L589.4 199.8 L589.8 200.2 L590.0 200.5" fill="none" stroke="#33553a" stroke-width="0.7" stroke-linecap="round"/>
<path d="M602.5 238.0 L602.9 237.1 L603.3 236.2 L603.8 235.3 L604.3 234.4 L604.9 233.6 L605.5 233.0 L606.2 232.5 L607.0 232.1 L607.9 231.7 L608.8 231.5 L609.7 231.3 L610.5 231.3 L611.3 231.3 L612.1 231.5 L612.9 231.7 L613.7 232.1 L614.4 232.5 L615.0 233.0 L615.5 233.6 L616.0 234.4 L616.4 235.3 L616.7 236.2 L617.0 237.1 L617.3 238.0 L617.5 238.9 L617.7 239.8 L617.8 240.8 L618.0 241.7 L618.2 242.6 L618.5 243.5 L619.0 244.4 L619.5 245.2 L620.1 246.0 L620.8 246.8 L621.4 247.6 L622.0 248.5 L622.5 249.4 L623.1 250.3 L623.6 251.2 L624.1 252.1 L624.6 253.0 L625.0 254.0 L625.3 255.0 L625.5 256.0 L625.7 257.0 L625.9 258.1 L626.1 259.1 L626.3 260.0 L626.6 260.9 L627.0 261.7 L627.4 262.5 L627.9 263.3 L628.2 264.1 L628.5 265.0 L628.7 266.0 L628.9 267.0 L629.0 268.0 L629.1 269.1 L629.1 270.1 L629.0 271.0 L628.8 271.9 L628.6 272.8 L628.2 273.6 L627.9 274.4 L627.4 275.0 L627.0 275.5 L626.5 275.9 L625.9 276.2 L625.2 276.3 L624.6 276.4 L624.0 276.3 L623.5 276.0 L623.1 275.5 L622.8 274.8 L622.5 274.0 L622.2 273.0 L621.9 272.0 L621.5 271.0 L621.0 269.9 L620.5 268.7 L620.0 267.5 L619.4 266.2 L618.7 265.0 L618.0 264.0 L617.1 263.1 L616.2 262.3 L615.1 261.6 L614.1 260.9 L613.0 260.2 L612.0 259.5 L611.0 258.8 L610.1 258.2 L609.1 257.6 L608.2 256.9 L607.3 256.2 L606.5 255.5 L605.7 254.7 L605.0 253.8 L604.2 252.9 L603.6 252.0 L603.0 251.0 L602.5 250.0 L602.1 249.0 L601.8 247.9 L601.6 246.8 L601.4 245.6 L601.3 244.5 L601.3 243.5 L601.3 242.5 L601.5 241.6 L601.6 240.7 L601.9 239.8 L602.2 238.9Z" fill="#ffffff" fill-opacity="0.22" stroke="#6c6c6c" stroke-width="0.8"/>
<path d="M590 258 Q596 252.500 603 251.500 Q607 256 611 258.500" fill="#ffffff" fill-opacity="0.18" stroke="#5c7c5c" stroke-width="0.6"/>
<path d="M571.3 271.4 L571.3 270.7 L571.4 269.9 L571.6 269.1 L571.8 268.4 L572.1 267.6 L572.3 267.0 L572.5 266.4 L572.7 266.0 L573.0 265.5 L573.2 265.1 L573.6 264.7 L574.0 264.3 L574.5 263.9 L575.1 263.5 L575.8 263.1 L576.5 262.7 L577.3 262.3 L578.0 262.0 L578.8 261.7 L579.6 261.5 L580.4 261.3 L581.3 261.1 L582.1 260.9 L582.9 260.7 L583.6 260.5 L584.4 260.3 L585.1 260.1 L585.7 259.9 L586.4 259.7 L587.0 259.5 L587.6 259.3 L588.0 259.0 L588.5 258.8 L589.0 258.5 L589.5 258.2 L590.0 258.0 L590.6 257.8 L591.3 257.5 L591.9 257.2 L592.6 257.0 L593.3 256.9 L594.0 256.8 L594.7 256.9 L595.3 257.1 L595.9 257.4 L596.6 257.7 L597.3 257.9 L598.0 258.0 L598.8 257.9 L599.6 257.7 L600.4 257.5 L601.3 257.2 L602.2 257.0 L603.0 257.0 L603.8 257.1 L604.7 257.3 L605.5 257.6 L606.3 257.9 L607.2 258.2 L608.0 258.5 L608.8 258.7 L609.7 259.0 L610.5 259.2 L611.3 259.4 L612.2 259.7 L613.0 260.0 L613.9 260.3 L614.7 260.7 L615.6 261.1 L616.5 261.6 L617.3 262.0 L618.0 262.5 L618.6 263.0 L619.2 263.6 L619.7 264.2 L620.2 264.8 L620.6 265.4 L621.0 266.0 L621.3 266.6 L621.5 267.3 L621.7 268.0 L621.9 268.7 L622.0 269.4 L622.1 270.0 L622.2 270.6 L622.3 271.2 L622.4 271.7 L622.4 272.2 L622.3 272.7 L622.1 273.2 L621.8 273.7 L621.4 274.1 L620.9 274.5 L620.4 274.9 L619.7 275.2 L619.0 275.5 L618.2 275.7 L617.2 275.9 L616.2 276.1 L615.1 276.3 L614.0 276.4 L613.0 276.5 L612.0 276.6 L611.0 276.7 L610.1 276.8 L609.1 276.8 L608.1 276.9 L607.0 277.0 L605.9 277.1 L604.7 277.3 L603.5 277.4 L602.3 277.6 L601.1 277.8 L600.0 278.0 L598.9 278.2 L597.9 278.5 L596.9 278.8 L596.0 279.1 L595.0 279.3 L594.0 279.5 L593.0 279.6 L592.0 279.7 L591.0 279.8 L590.0 279.8 L589.0 279.8 L588.0 279.8 L587.0 279.7 L586.0 279.6 L584.9 279.5 L583.9 279.4 L582.9 279.2 L582.0 279.0 L581.1 278.8 L580.2 278.6 L579.4 278.4 L578.6 278.1 L577.8 277.8 L577.0 277.5 L576.2 277.2 L575.5 276.8 L574.8 276.4 L574.1 276.0 L573.5 275.5 L573.0 275.0 L572.6 274.5 L572.2 273.9 L571.8 273.3 L571.6 272.7 L571.4 272.1Z" fill="#fae6f9" stroke="#c084c0" stroke-width="0.8"/>
<path d="M573.9 270.8 L573.9 270.3 L574.0 269.6 L574.1 269.0 L574.3 268.4 L574.6 267.8 L574.8 267.3 L575.0 266.9 L575.2 266.5 L575.4 266.1 L575.6 265.8 L575.9 265.5 L576.3 265.1 L576.8 264.8 L577.3 264.5 L577.9 264.1 L578.6 263.8 L579.2 263.6 L579.9 263.3 L580.6 263.1 L581.3 262.9 L582.1 262.7 L582.9 262.6 L583.6 262.4 L584.3 262.3 L585.0 262.1 L585.6 261.9 L586.3 261.8 L586.9 261.6 L587.5 261.5 L588.0 261.3 L588.5 261.1 L588.9 260.9 L589.4 260.7 L589.8 260.5 L590.2 260.3 L590.7 260.1 L591.2 259.9 L591.8 259.7 L592.4 259.5 L593.1 259.3 L593.7 259.2 L594.3 259.1 L594.9 259.2 L595.5 259.4 L596.0 259.6 L596.6 259.8 L597.2 260.0 L597.9 260.1 L598.6 260.0 L599.3 259.9 L600.1 259.7 L600.9 259.5 L601.6 259.3 L602.4 259.3 L603.2 259.4 L603.9 259.6 L604.7 259.8 L605.4 260.0 L606.2 260.3 L606.9 260.5 L607.7 260.7 L608.4 260.9 L609.2 261.1 L609.9 261.2 L610.7 261.5 L611.4 261.7 L612.2 262.0 L613.0 262.3 L613.8 262.6 L614.5 262.9 L615.3 263.3 L615.9 263.7 L616.5 264.1 L617.0 264.6 L617.5 265.0 L617.9 265.5 L618.3 266.0 L618.6 266.5 L618.9 267.0 L619.1 267.6 L619.3 268.1 L619.4 268.7 L619.5 269.2 L619.6 269.7 L619.7 270.2 L619.8 270.6 L619.8 271.1 L619.8 271.5 L619.8 271.9 L619.6 272.3 L619.3 272.6 L619.0 273.0 L618.5 273.3 L618.0 273.6 L617.4 273.9 L616.8 274.1 L616.1 274.3 L615.2 274.5 L614.3 274.6 L613.3 274.7 L612.3 274.8 L611.4 274.9 L610.5 275.0 L609.6 275.0 L608.8 275.1 L607.9 275.2 L607.0 275.2 L606.0 275.3 L605.0 275.4 L603.9 275.5 L602.9 275.7 L601.8 275.8 L600.7 275.9 L599.7 276.1 L598.7 276.3 L597.8 276.5 L596.9 276.7 L596.1 277.0 L595.2 277.2 L594.3 277.3 L593.4 277.4 L592.5 277.5 L591.6 277.5 L590.7 277.6 L589.8 277.6 L588.9 277.5 L588.0 277.5 L587.1 277.4 L586.1 277.3 L585.2 277.2 L584.3 277.0 L583.5 276.9 L582.7 276.7 L581.9 276.6 L581.1 276.4 L580.4 276.2 L579.7 276.0 L579.0 275.7 L578.3 275.4 L577.7 275.1 L577.0 274.8 L576.4 274.5 L575.9 274.1 L575.4 273.7 L575.0 273.3 L574.6 272.8 L574.4 272.4 L574.1 271.9 L574.0 271.3Z" fill="none" stroke="#f0c6ee" stroke-width="1.6"/>
<path d="M610.5 236.6 L611 239.7 L608.3 242 M611 239.7 L613.7 243.8 L614.6 247.8 L619.5 250.9 L620.4 254 L617.7 257.1 L612.8 257.6 L611.9 251.8 L614.6 247.8 M611.9 251.8 L608.8 250 M612.8 257.6 L611.4 259.8 L608.8 262.5 M617.7 257.1 L617.7 262.5 M599.8 263.4 L603.4 260.7 L608.8 262.5 L610.5 266.1 L605.2 268.750 L600.7 267 L599.8 263.4 M605.2 268.750 L604.7 270.1 M610.5 266.1 L613.2 267 L617.7 265.2 L621.250 268.750 M599.8 263.4 L594.5 258 M600.7 267 L596.250 268.750 L593.6 266.1 M596.250 268.750 L590 270.5 L591.3 273.2 M590 270.5 L585.5 271.4 L579.3 268.750 L576.6 271.4 M585.5 271.4 L582 273.7" fill="none" stroke="#b98ab8" stroke-width="2.3" stroke-linecap="round" stroke-linejoin="round"/>
<path d="M610.5 236.6 L611 239.7 L608.3 242 M611 239.7 L613.7 243.8 L614.6 247.8 L619.5 250.9 L620.4 254 L617.7 257.1 L612.8 257.6 L611.9 251.8 L614.6 247.8 M611.9 251.8 L608.8 250 M612.8 257.6 L611.4 259.8 L608.8 262.5 M617.7 257.1 L617.7 262.5 M599.8 263.4 L603.4 260.7 L608.8 262.5 L610.5 266.1 L605.2 268.750 L600.7 267 L599.8 263.4 M605.2 268.750 L604.7 270.1 M610.5 266.1 L613.2 267 L617.7 265.2 L621.250 268.750 M599.8 263.4 L594.5 258 M600.7 267 L596.250 268.750 L593.6 266.1 M596.250 268.750 L590 270.5 L591.3 273.2 M590 270.5 L585.5 271.4 L579.3 268.750 L576.6 271.4 M585.5 271.4 L582 273.7" fill="none" stroke="#ecb4e8" stroke-width="1.5" stroke-linecap="round" stroke-linejoin="round"/>
<circle cx="610.5" cy="236.3" r="1.25" fill="#e8101c"/>
<circle cx="608.8" cy="250" r="1.25" fill="#e8101c"/>
<circle cx="620.4" cy="254" r="1.25" fill="#e8101c"/>
<circle cx="611.4" cy="259.8" r="1.25" fill="#e8101c"/>
<circle cx="614.1" cy="261.2" r="1.25" fill="#e8101c"/>
<circle cx="617.7" cy="262.7" r="1.25" fill="#e8101c"/>
<circle cx="603.4" cy="260.6" r="1.25" fill="#e8101c"/>
<circle cx="604.7" cy="270.4" r="1.25" fill="#e8101c"/>
<circle cx="594.5" cy="258" r="1.25" fill="#e8101c"/>
<circle cx="596.25" cy="269" r="1.25" fill="#e8101c"/>
<circle cx="593.6" cy="266" r="1.25" fill="#e8101c"/>
<circle cx="590" cy="270.5" r="1.25" fill="#e8101c"/>
<circle cx="591.3" cy="273.5" r="1.25" fill="#e8101c"/>
<circle cx="576.6" cy="271.5" r="1.25" fill="#e8101c"/>
<circle cx="582" cy="273.9" r="1.25" fill="#e8101c"/>
<circle cx="619" cy="258.5" r="1.25" fill="#e8101c"/>
<circle cx="613.7" cy="243.8" r="1.3" fill="#2438e8"/>
<circle cx="613.2" cy="267" r="1.3" fill="#2438e8"/>
<path d="M510.0 234.7 L510.0 234.4 L510.0 233.9 L509.9 233.4 L509.9 232.8 L509.9 232.1 L510.0 231.5 L510.0 231.0 L510.2 230.5 L510.4 230.1 L510.6 229.7 L510.8 229.4 L511.0 229.1 L511.4 228.8 L511.8 228.5 L512.3 228.3 L513.0 228.0 L513.8 227.7 L514.9 227.5 L516.1 227.2 L517.3 227.0 L518.6 226.8 L519.8 226.5 L521.0 226.3 L522.0 226.0 L522.9 225.7 L523.7 225.4 L524.5 225.1 L525.2 224.8 L525.9 224.5 L526.6 224.1 L527.3 223.8 L528.0 223.5 L528.7 223.1 L529.5 222.7 L530.2 222.3 L531.0 221.9 L531.7 221.5 L532.4 221.2 L533.1 221.0 L533.7 221.0 L534.3 221.1 L534.9 221.3 L535.4 221.7 L536.0 222.1 L536.5 222.6 L537.0 223.1 L537.5 223.6 L538.0 224.0 L538.5 224.4 L539.0 224.9 L539.5 225.4 L540.0 225.9 L540.4 226.4 L540.9 226.9 L541.5 227.3 L542.0 227.7 L542.6 228.0 L543.2 228.3 L543.8 228.6 L544.4 228.8 L545.1 229.0 L545.7 229.2 L546.4 229.3 L547.0 229.5 L547.6 229.6 L548.2 229.8 L548.9 229.9 L549.5 230.0 L550.1 230.1 L550.8 230.1 L551.4 230.2 L552.0 230.2 L552.6 230.2 L553.2 230.2 L553.9 230.1 L554.5 230.1 L555.1 230.0 L555.8 230.0 L556.4 229.9 L557.0 229.8 L557.6 229.7 L558.3 229.6 L558.9 229.4 L559.6 229.3 L560.2 229.1 L560.8 229.0 L561.4 229.0 L562.0 229.0 L562.6 229.1 L563.1 229.2 L563.6 229.3 L564.1 229.5 L564.6 229.7 L565.1 230.0 L565.6 230.2 L566.0 230.5 L566.4 230.8 L566.8 231.1 L567.1 231.4 L567.5 231.8 L567.8 232.2 L568.1 232.6 L568.4 233.0 L568.7 233.5 L569.0 234.1 L569.3 234.7 L569.6 235.4 L569.9 236.2 L570.1 236.9 L570.4 237.6 L570.6 238.1 L570.7 238.5" fill="none" stroke="#b07a18" stroke-width="2.9" stroke-linecap="round" stroke-linejoin="round"/>
<path d="M510.0 234.7 L510.0 234.4 L510.0 233.9 L509.9 233.4 L509.9 232.8 L509.9 232.1 L510.0 231.5 L510.0 231.0 L510.2 230.5 L510.4 230.1 L510.6 229.7 L510.8 229.4 L511.0 229.1 L511.4 228.8 L511.8 228.5 L512.3 228.3 L513.0 228.0 L513.8 227.7 L514.9 227.5 L516.1 227.2 L517.3 227.0 L518.6 226.8 L519.8 226.5 L521.0 226.3 L522.0 226.0 L522.9 225.7 L523.7 225.4 L524.5 225.1 L525.2 224.8 L525.9 224.5 L526.6 224.1 L527.3 223.8 L528.0 223.5 L528.7 223.1 L529.5 222.7 L530.2 222.3 L531.0 221.9 L531.7 221.5 L532.4 221.2 L533.1 221.0 L533.7 221.0 L534.3 221.1 L534.9 221.3 L535.4 221.7 L536.0 222.1 L536.5 222.6 L537.0 223.1 L537.5 223.6 L538.0 224.0 L538.5 224.4 L539.0 224.9 L539.5 225.4 L540.0 225.9 L540.4 226.4 L540.9 226.9 L541.5 227.3 L542.0 227.7 L542.6 228.0 L543.2 228.3 L543.8 228.6 L544.4 228.8 L545.1 229.0 L545.7 229.2 L546.4 229.3 L547.0 229.5 L547.6 229.6 L548.2 229.8 L548.9 229.9 L549.5 230.0 L550.1 230.1 L550.8 230.1 L551.4 230.2 L552.0 230.2 L552.6 230.2 L553.2 230.2 L553.9 230.1 L554.5 230.1 L555.1 230.0 L555.8 230.0 L556.4 229.9 L557.0 229.8 L557.6 229.7 L558.3 229.6 L558.9 229.4 L559.6 229.3 L560.2 229.1 L560.8 229.0 L561.4 229.0 L562.0 229.0 L562.6 229.1 L563.1 229.2 L563.6 229.3 L564.1 229.5 L564.6 229.7 L565.1 230.0 L565.6 230.2 L566.0 230.5 L566.4 230.8 L566.8 231.1 L567.1 231.4 L567.5 231.8 L567.8 232.2 L568.1 232.6 L568.4 233.0 L568.7 233.5 L569.0 234.1 L569.3 234.7 L569.6 235.4 L569.9 236.2 L570.1 236.9 L570.4 237.6 L570.6 238.1 L570.7 238.5" fill="none" stroke="#fcab08" stroke-width="2.0" stroke-linecap="round" stroke-linejoin="round"/>
<path d="M569.9 235.8 L570.0 236.1 L570.2 236.6 L570.4 237.1 L570.6 237.7 L570.8 238.3 L571.0 238.9 L571.1 239.5 L571.1 240.0 L571.0 240.4 L570.9 240.8 L570.7 241.2 L570.5 241.5 L570.3 241.9 L570.0 242.2 L569.8 242.6 L569.5 243.0 L569.2 243.4 L568.9 243.8 L568.6 244.3 L568.3 244.7 L567.9 245.2 L567.6 245.6 L567.2 246.1 L566.9 246.5 L566.6 246.9 L566.2 247.4 L565.9 247.8 L565.6 248.3 L565.2 248.7 L564.9 249.2 L564.6 249.6 L564.3 250.0 L564.0 250.4 L563.6 250.8 L563.3 251.2 L563.0 251.6 L562.7 252.0 L562.4 252.4 L562.2 252.7 L562.1 253.1 L562.1 253.4 L562.2 253.7 L562.3 254.1 L562.5 254.3 L562.7 254.6 L562.9 254.9 L563.1 255.2 L563.2 255.5 L563.3 255.8 L563.5 256.1 L563.6 256.4 L563.8 256.7 L563.9 257.0 L564.0 257.3 L564.0 257.6 L563.9 257.9 L563.8 258.2 L563.5 258.4 L563.2 258.6 L562.9 258.9 L562.6 259.1 L562.2 259.3 L561.8 259.5 L561.5 259.7 L561.2 259.9 L560.8 260.0 L560.4 260.2 L560.1 260.3 L559.7 260.4 L559.3 260.6 L559.0 260.7 L558.6 260.8 L558.2 260.9 L557.9 261.0 L557.5 261.1 L557.2 261.2 L556.8 261.2 L556.5 261.3 L556.1 261.4 L555.8 261.5 L555.5 261.6 L555.1 261.7 L554.8 261.8 L554.4 262.0 L554.1 262.1 L553.8 262.2 L553.5 262.4 L553.2 262.6 L552.9 262.8 L552.7 263.0 L552.5 263.3 L552.2 263.6 L552.0 263.8 L551.8 264.1 L551.7 264.4 L551.5 264.7 L551.4 265.0 L551.2 265.3 L551.1 265.6 L551.0 265.9 L551.0 266.2 L550.9 266.6 L550.8 267.0 L550.8 267.4 L550.8 267.9 L550.8 268.4 L550.8 269.0 L550.8 269.6 L550.9 270.2 L550.9 270.8 L551.0 271.4 L551.0 272.0 L551.0 272.6 L551.1 273.2 L551.2 273.9 L551.2 274.5 L551.3 275.1 L551.3 275.7 L551.4 276.3 L551.4 276.9 L551.4 277.5 L551.4 278.0 L551.3 278.5 L551.3 279.0 L551.2 279.5 L551.2 280.0 L551.1 280.5 L551.1 281.0 L551.1 281.5 L551.0 282.1 L551.0 282.8 L550.9 283.4 L550.9 283.9 L550.9 284.4 L550.8 284.9 L550.8 285.2" fill="none" stroke="#d6a432" stroke-width="2.9" stroke-dasharray="5.2 1.600"/>
<path d="M569.9 235.8 L570.0 236.1 L570.2 236.6 L570.4 237.1 L570.6 237.7 L570.8 238.3 L571.0 238.9 L571.1 239.5 L571.1 240.0 L571.0 240.4 L570.9 240.8 L570.7 241.2 L570.5 241.5 L570.3 241.9 L570.0 242.2 L569.8 242.6 L569.5 243.0 L569.2 243.4 L568.9 243.8 L568.6 244.3 L568.3 244.7 L567.9 245.2 L567.6 245.6 L567.2 246.1 L566.9 246.5 L566.6 246.9 L566.2 247.4 L565.9 247.8 L565.6 248.3 L565.2 248.7 L564.9 249.2 L564.6 249.6 L564.3 250.0 L564.0 250.4 L563.6 250.8 L563.3 251.2 L563.0 251.6 L562.7 252.0 L562.4 252.4 L562.2 252.7 L562.1 253.1 L562.1 253.4 L562.2 253.7 L562.3 254.1 L562.5 254.3 L562.7 254.6 L562.9 254.9 L563.1 255.2 L563.2 255.5 L563.3 255.8 L563.5 256.1 L563.6 256.4 L563.8 256.7 L563.9 257.0 L564.0 257.3 L564.0 257.6 L563.9 257.9 L563.8 258.2 L563.5 258.4 L563.2 258.6 L562.9 258.9 L562.6 259.1 L562.2 259.3 L561.8 259.5 L561.5 259.7 L561.2 259.9 L560.8 260.0 L560.4 260.2 L560.1 260.3 L559.7 260.4 L559.3 260.6 L559.0 260.7 L558.6 260.8 L558.2 260.9 L557.9 261.0 L557.5 261.1 L557.2 261.2 L556.8 261.2 L556.5 261.3 L556.1 261.4 L555.8 261.5 L555.5 261.6 L555.1 261.7 L554.8 261.8 L554.4 262.0 L554.1 262.1 L553.8 262.2 L553.5 262.4 L553.2 262.6 L552.9 262.8 L552.7 263.0 L552.5 263.3 L552.2 263.6 L552.0 263.8 L551.8 264.1 L551.7 264.4 L551.5 264.7 L551.4 265.0 L551.2 265.3 L551.1 265.6 L551.0 265.9 L551.0 266.2 L550.9 266.6 L550.8 267.0 L550.8 267.4 L550.8 267.9 L550.8 268.4 L550.8 269.0 L550.8 269.6 L550.9 270.2 L550.9 270.8 L551.0 271.4 L551.0 272.0 L551.0 272.6 L551.1 273.2 L551.2 273.9 L551.2 274.5 L551.3 275.1 L551.3 275.7 L551.4 276.3 L551.4 276.9 L551.4 277.5 L551.4 278.0 L551.3 278.5 L551.3 279.0 L551.2 279.5 L551.2 280.0 L551.1 280.5 L551.1 281.0 L551.1 281.5 L551.0 282.1 L551.0 282.8 L550.9 283.4 L550.9 283.9 L550.9 284.4 L550.8 284.9 L550.8 285.2" fill="none" stroke="#fcecb0" stroke-width="1.4" stroke-dasharray="4.400 2.400" stroke-dashoffset="-0.4"/>
</g>
<text transform="translate(507.0,300.1) scale(1,1.04)" font-size="13.3" font-weight="normal" >Flexible C-terminus</text>
<path d="M487 307.100 V197.300 H649.500 V307.100" fill="none" stroke="#000" stroke-width="1.65" stroke-dasharray="6.5 3.750"/>
<path d="M487 307.100 H649.500" fill="none" stroke="#000" stroke-width="1" stroke-dasharray="6 3.500"/>
<path d="M487 307.100 L534 369.700 M649.500 307.100 L606.200 369.700" fill="none" stroke="#000" stroke-width="1.6" stroke-dasharray="7 4.500"/>
<rect x="534" y="369.700" width="72.2" height="50.800" fill="none" stroke="#000" stroke-width="1.7" stroke-dasharray="7.3 3.900"/>
<clipPath id="c2"><rect x="825.7" y="195.500" width="168.8" height="113.200"/></clipPath>
<g clip-path="url(#c2)">
<rect x="825.7" y="195.500" width="167.3" height="113.200" fill="#a6fea6"/>
<path d="M829.5 318.2 L820.9 316.9 L818.2 315.0 L819.4 312.8 L822.8 310.5 L826.2 308.3 L827.8 306.5 L827.9 305.0 L828.2 303.8 L828.6 302.7 L829.1 301.7 L829.4 300.7 L829.5 299.6 L829.4 298.5 L829.1 297.3 L828.7 296.1 L828.3 294.9 L827.9 293.8 L827.7 292.5 L827.5 291.3 L827.3 289.8 L827.2 288.4 L827.2 287.1 L827.2 285.9 L827.4 285.1 L827.8 284.5 L828.3 284.2 L829.0 284.0 L829.7 284.0 L830.4 284.0 L831.2 284.0 L831.9 284.0 L832.8 284.1 L833.7 284.3 L834.5 284.4 L835.4 284.6 L836.3 284.7 L837.1 284.9 L837.9 285.0 L838.6 285.1 L839.4 285.3 L840.2 285.3 L841.0 285.4 L841.8 285.4 L842.6 285.3 L843.5 285.2 L844.3 285.1 L845.1 284.9 L845.9 284.7 L846.6 284.5 L847.2 284.3 L847.9 284.0 L848.5 283.8 L849.1 283.5 L849.7 283.1 L850.3 282.8 L850.8 282.4 L851.4 282.1 L851.9 281.7 L852.3 281.2 L852.7 280.7 L853.0 280.1 L853.2 279.4 L853.4 278.7 L853.5 277.9 L853.7 277.2 L853.8 276.5 L854.0 275.8 L854.0 275.1 L854.1 274.4 L854.2 273.8 L854.5 273.1 L854.8 272.5 L855.3 272.0 L855.9 271.4 L856.6 270.9 L857.4 270.4 L858.2 270.0 L858.9 269.5 L859.7 269.2 L860.6 268.9 L861.4 268.7 L862.2 268.5 L863.1 268.2 L863.9 267.8 L864.6 267.3 L865.3 266.8 L866.0 266.1 L866.7 265.5 L867.3 264.9 L868.0 264.4 L868.6 264.0 L869.2 263.6 L869.8 263.3 L870.3 263.1 L870.9 262.8 L871.5 262.6 L872.1 262.4 L872.6 262.3 L873.2 262.2 L873.8 262.1 L874.3 262.0 L874.9 261.7 L875.3 261.3 L875.8 260.8 L876.2 260.2 L876.7 259.6 L877.1 259.2 L877.6 259.0 L878.1 259.0 L878.6 259.3 L879.2 259.7 L879.7 260.1 L880.3 260.5 L880.7 260.7 L881.2 260.7 L881.5 260.6 L881.8 260.4 L882.1 260.2 L882.6 259.9 L883.1 259.7 L883.9 259.5 L884.8 259.2 L885.7 258.9 L886.7 258.6 L887.7 258.4 L888.7 258.3 L889.6 258.3 L890.5 258.3 L891.4 258.4 L892.3 258.6 L893.2 258.7 L894.2 259.0 L895.1 259.2 L896.1 259.6 L897.1 260.0 L898.0 260.4 L898.9 260.8 L899.7 261.0 L900.4 261.1 L901.0 261.1 L901.5 261.1 L902.0 261.0 L902.5 260.9 L903.1 260.8 L903.6 260.7 L904.1 260.5 L904.6 260.4 L905.2 260.2 L905.8 260.0 L906.6 259.7 L907.5 259.3 L908.5 258.7 L909.7 258.2 L910.8 257.6 L911.9 257.1 L913.0 256.8 L914.0 256.7 L915.0 256.7 L915.9 256.7 L916.9 256.9 L917.8 257.1 L918.7 257.3 L919.6 257.6 L920.5 258.0 L921.4 258.4 L922.3 258.8 L923.2 259.2 L924.0 259.5 L924.8 259.7 L925.6 259.8 L926.4 259.9 L927.1 259.9 L927.9 260.0 L928.7 260.2 L929.5 260.4 L930.4 260.5 L931.3 260.6 L932.2 260.9 L933.1 261.3 L934.0 262.0 L934.8 262.8 L935.4 263.8 L936.1 264.9 L936.9 266.2 L938.2 267.9 L940.0 270.0 L942.6 272.5 L945.8 275.5 L949.4 278.8 L953.2 282.3 L956.8 286.1 L960.0 290.0 L964.6 294.5 L971.3 299.8 L977.8 305.2 L982.1 310.4 L981.8 314.8 L975.0 318.0 L958.4 319.8 L933.1 320.6 L903.3 320.6 L873.3 320.1 L847.3 319.2Z" fill="#fff" stroke="#33553a" stroke-width="0.7"/>
<path d="M940.3 212.7 L940.1 213.2 L939.9 213.9 L939.6 214.8 L939.3 215.7 L939.0 216.6 L938.8 217.5 L938.7 218.3 L938.6 219.2 L938.5 220.0 L938.5 220.9 L938.6 221.8 L938.7 222.7 L938.9 223.7 L939.2 224.8 L939.6 225.8 L940.0 226.9 L940.5 228.0 L941.0 229.0 L941.6 230.0 L942.3 230.9 L943.0 231.8 L943.7 232.7 L944.5 233.5 L945.3 234.3 L946.2 235.0 L947.1 235.7 L948.1 236.3 L949.0 236.9 L949.7 237.4 L950.3 237.7" fill="none" stroke="#33553a" stroke-width="0.7" stroke-linecap="round"/>
<path d="M936.2 236.0 L936.7 236.0 L937.5 236.0 L938.3 236.0 L939.3 235.9 L940.2 236.0 L941.0 236.0 L941.8 236.1 L942.6 236.2 L943.5 236.4 L944.2 236.6 L944.8 236.7 L945.3 236.8" fill="none" stroke="#33553a" stroke-width="0.7" stroke-linecap="round"/>
<path d="M965.3 231.8 L965.1 232.3 L964.8 232.9 L964.5 233.7 L964.1 234.5 L963.8 235.3 L963.5 236.0 L963.2 236.6 L962.9 237.3 L962.6 237.9 L962.4 238.5 L962.2 239.0 L962.0 239.3" fill="none" stroke="#33553a" stroke-width="0.7" stroke-linecap="round"/>
<path d="M989.5 246.0 L989.0 246.1 L988.2 246.3 L987.4 246.5 L986.5 246.8 L985.7 247.1 L985.0 247.5 L984.5 248.0 L984.0 248.5 L983.6 249.1 L983.3 249.7 L983.0 250.4 L982.8 251.0 L982.7 251.6 L982.6 252.3 L982.7 253.0 L982.7 253.7 L982.9 254.4 L983.0 255.0 L983.2 255.7 L983.5 256.3 L983.8 257.0 L984.1 257.6 L984.3 258.1 L984.5 258.5" fill="none" stroke="#33553a" stroke-width="0.7" stroke-linecap="round"/>
<path d="M970.3 207.7 L970.5 207.9 L970.8 208.3 L971.1 208.7 L971.4 209.1 L971.7 209.6 L972.0 210.0 L972.2 210.5 L972.4 211.0 L972.5 211.5 L972.6 212.0 L972.7 212.4 L972.8 212.7" fill="none" stroke="#33553a" stroke-width="0.7" stroke-linecap="round"/>
<path d="M950.3 198.5 L950.7 198.6 L951.2 198.9 L951.9 199.1 L952.6 199.4 L953.3 199.5 L954.0 199.5 L954.8 199.3 L955.6 199.0 L956.5 198.6 L957.3 198.1 L958.0 197.8 L958.5 197.5" fill="none" stroke="#33553a" stroke-width="0.7" stroke-linecap="round"/>
<path d="M932.0 197.7 L932.3 198.0 L932.7 198.4 L933.2 198.8 L933.8 199.3 L934.2 199.7 L934.5 200.0" fill="none" stroke="#33553a" stroke-width="0.7" stroke-linecap="round"/>
<path d="M844.5 221.0 L844.3 221.3 L844.1 221.8 L843.9 222.4 L843.6 223.0 L843.3 223.5 L843.0 224.0 L842.7 224.4 L842.4 224.8 L842.0 225.2 L841.7 225.5 L841.4 225.8 L841.2 226.0" fill="none" stroke="#33553a" stroke-width="0.7" stroke-linecap="round"/>
<path d="M826.6 239.4 L827.0 239.7 L827.6 240.2 L828.3 240.8 L829.1 241.5 L829.9 242.1 L830.6 242.8 L831.3 243.4 L832.0 244.1 L832.7 244.8 L833.4 245.5 L834.1 246.2 L834.9 246.9 L835.6 247.5 L836.4 248.0 L837.1 248.6 L837.9 249.1 L838.6 249.7 L839.3 250.3 L840.0 250.9 L840.7 251.6 L841.3 252.3 L842.0 252.9 L842.6 253.6 L843.1 254.2 L843.7 254.9 L844.2 255.4 L844.7 256.0 L845.1 256.6 L845.5 257.2 L845.9 257.8 L846.2 258.4 L846.5 259.1 L846.7 259.8 L846.9 260.5 L847.1 261.1 L847.3 261.7 L847.4 262.3 L847.5 262.8 L847.5 263.3 L847.6 263.8 L847.5 264.3 L847.5 264.7 L847.4 265.2 L847.4 265.6 L847.3 266.0 L847.2 266.4 L846.9 266.7 L846.6 267.1 L846.2 267.4 L845.7 267.8 L845.1 268.1 L844.4 268.4 L843.8 268.6 L843.1 268.8 L842.5 268.9 L841.8 269.0 L841.1 269.1 L840.4 269.1 L839.7 269.1 L839.0 269.1 L838.3 269.1 L837.7 268.9 L837.0 268.8 L836.4 268.7 L835.9 268.6 L835.5 268.5" fill="none" stroke="#33553a" stroke-width="0.7" stroke-linecap="round"/>
<path d="M840.4 244.8 L840.8 244.9 L841.3 245.0 L841.9 245.1 L842.5 245.2 L843.1 245.3 L843.7 245.5 L844.2 245.6 L844.7 245.8 L845.2 246.1 L845.7 246.3 L846.2 246.6 L846.6 246.9 L847.0 247.2 L847.4 247.5 L847.7 247.9 L848.0 248.3 L848.3 248.8 L848.6 249.2 L848.9 249.7 L849.2 250.3 L849.4 250.9 L849.7 251.4 L849.9 251.9 L850.0 252.2" fill="none" stroke="#33553a" stroke-width="0.7" stroke-linecap="round"/>
<path d="M861.8 249.5 L862.0 249.9 L862.2 250.4 L862.5 251.0 L862.8 251.7 L863.1 252.4 L863.3 253.0 L863.5 253.5 L863.6 254.0 L863.8 254.6 L863.9 255.1 L863.9 255.7 L863.9 256.3 L863.7 256.9 L863.5 257.6 L863.2 258.4 L862.9 259.1 L862.6 259.8 L862.2 260.4 L861.9 261.1 L861.5 261.6 L861.1 262.2 L860.7 262.7 L860.2 263.2 L859.7 263.8 L859.1 264.3 L858.5 264.8 L857.8 265.3 L857.1 265.8 L856.4 266.2 L855.7 266.7 L855.0 267.0 L854.2 267.4 L853.5 267.7 L852.8 268.0 L852.1 268.2 L851.4 268.5 L850.8 268.7 L850.2 268.8 L849.7 269.0 L849.1 269.1 L848.6 269.2 L848.0 269.2 L847.4 269.3 L846.8 269.2 L846.1 269.2 L845.5 269.2 L844.9 269.1 L844.6 269.1" fill="none" stroke="#33553a" stroke-width="0.7" stroke-linecap="round"/>
<path d="M833.4 256.9 L833.7 257.1 L834.1 257.4 L834.5 257.7 L835.0 258.1 L835.4 258.5 L835.8 258.8 L836.2 259.2 L836.5 259.5 L836.9 259.9 L837.1 260.2 L837.4 260.6 L837.6 261.0 L837.7 261.4 L837.8 261.9 L837.8 262.3 L837.8 262.8 L837.7 263.2 L837.7 263.7 L837.6 264.0 L837.5 264.3 L837.4 264.6 L837.3 265.0 L837.1 265.3 L836.9 265.8 L836.7 266.4 L836.4 267.1 L836.0 267.8 L835.7 268.6 L835.3 269.3 L834.9 269.9 L834.4 270.3 L833.9 270.7 L833.4 271.1 L832.8 271.4 L832.3 271.6 L831.7 271.9 L831.1 272.2 L830.4 272.4 L829.6 272.7 L829.0 272.9 L828.4 273.1 L828.0 273.2" fill="none" stroke="#33553a" stroke-width="0.7" stroke-linecap="round"/>
<path d="M826.6 273.2 L827.3 273.0 L828.3 272.8 L829.5 272.6 L830.8 272.3 L832.1 272.1 L833.4 271.9 L834.9 271.7 L836.5 271.5 L838.2 271.3 L839.7 271.1 L840.9 271.1 L841.7 271.1 L841.9 271.4 L841.7 271.9 L841.2 272.4 L840.6 273.0 L839.9 273.6 L839.3 274.1 L838.9 274.6 L838.4 275.0 L837.9 275.4 L837.3 275.8 L836.8 276.2 L836.3 276.6 L835.7 277.0 L835.1 277.3 L834.6 277.6 L834.0 278.0 L833.4 278.3 L832.8 278.6 L832.2 279.0 L831.6 279.2 L831.0 279.5 L830.4 279.8 L829.8 280.2 L829.3 280.7 L828.8 281.3 L828.4 282.0 L828.0 282.8 L827.7 283.6 L827.4 284.3 L827.2 284.7" fill="none" stroke="#33553a" stroke-width="0.7" stroke-linecap="round"/>
<path d="M854.8 271.9 L854.6 272.2 L854.3 272.5 L854.0 273.0 L853.6 273.5 L853.3 273.9 L853.2 274.4 L853.1 274.8 L853.1 275.2 L853.2 275.6 L853.3 276.0 L853.4 276.4 L853.5 276.6" fill="none" stroke="#33553a" stroke-width="0.7" stroke-linecap="round"/>
<path d="M975.3 276.0 L975.9 276.6 L976.8 277.5 L977.9 278.5 L979.0 279.7 L980.1 280.9 L981.0 282.0 L981.8 283.2 L982.6 284.5 L983.4 285.8 L984.1 287.1 L984.7 288.3 L985.3 289.3 L985.8 290.1 L986.2 290.8 L986.6 291.4 L986.9 292.0 L987.2 292.5 L987.5 293.0 L987.8 293.5 L988.0 293.9 L988.3 294.3 L988.5 294.7 L988.6 295.3 L988.7 296.0 L988.7 297.0 L988.6 298.3 L988.4 299.7 L988.3 301.0 L988.1 302.2 L988.0 303.0" fill="none" stroke="#33553a" stroke-width="0.7" stroke-linecap="round"/>
<path d="M978.7 269.3 L979.3 269.1 L980.1 268.8 L981.1 268.4 L982.1 268.0 L983.1 267.7 L984.0 267.5 L984.9 267.4 L985.8 267.4 L986.7 267.5 L987.5 267.6 L988.2 267.7 L988.7 267.7" fill="none" stroke="#33553a" stroke-width="0.7" stroke-linecap="round"/>
<path d="M966.0 243.0 L966.5 243.6 L967.1 244.5 L967.9 245.6 L968.7 246.7 L969.4 247.9 L970.0 249.0 L970.5 250.1 L970.9 251.3 L971.2 252.5 L971.5 253.7 L971.8 254.9 L972.0 256.0 L972.2 257.1 L972.3 258.3 L972.4 259.4 L972.4 260.5 L972.5 261.4 L972.5 262.0" fill="none" stroke="#33553a" stroke-width="0.7" stroke-linecap="round"/>
<path d="M884.1 312.2 L883.3 313.1 L882.4 313.5 L881.6 313.7 L880.8 313.9 L880.0 314.0 L879.1 314.0 L878.2 313.9 L877.4 313.4 L876.7 312.4 L877.6 311.6 L878.4 311.2 L879.2 311.2 L880.1 311.2 L881.1 311.4 L881.8 311.0 L882.1 309.7 L882.6 308.8 L883.1 308.2 L883.7 307.9 L884.4 307.7 L885.2 307.6 L886.5 307.4 L887.0 306.7 L886.7 305.7 L886.8 304.7 L886.9 303.9 L887.3 303.1 L887.8 302.4 L888.4 301.8 L889.1 301.4 L890.0 301.1 L891.0 301.1 L892.1 301.8 L892.3 300.7 L893.0 300.0 L893.7 299.6 L894.4 299.2 L895.1 298.9 L895.9 298.7 L896.7 298.6 L897.6 298.6 L898.6 298.6 L899.9 298.7 L899.8 297.3 L899.8 296.3 L899.8 295.4 L899.9 294.5 L900.1 293.7 L900.4 292.9 L900.9 292.1 L901.4 291.4 L902.0 290.8 L902.6 290.3 L903.3 289.8 L904.1 289.4 L904.9 289.1 L905.8 288.8 L906.8 288.7 L907.9 288.7 L908.1 287.7 L908.4 286.9 L908.8 286.2 L909.2 285.5 L909.7 284.8 L910.2 284.2 L910.8 283.7 L911.4 283.1 L912.0 282.6 L912.6 282.1 L913.2 281.5 L913.8 281.0 L914.5 280.6 L915.3 280.2 L916.1 280.1 L916.2 279.1 L916.6 278.4 L917.1 277.7 L917.6 277.0 L918.1 276.3 L918.5 275.6 L918.9 275.0 L919.3 274.3 L919.8 273.7 L920.2 273.0 L920.7 272.4 L921.3 271.8 L921.9 271.2 L922.5 270.7 L923.2 270.2 L924.0 269.8 L924.9 269.5 L924.8 268.4 L924.6 267.3 L924.7 266.3 L924.9 265.5 L925.4 264.8 L926.1 264.3 L926.9 264.0 L928.0 263.9 L929.4 264.1 L929.3 262.9 L929.5 262.0 L929.9 261.2 L930.4 260.5 L930.9 259.9 L931.6 259.3 L932.3 258.9 L933.0 258.6 L933.9 258.4 L934.8 258.4 L935.7 258.5 L936.7 259.0 L937.0 257.5 L937.5 256.5 L938.2 255.8 L939.0 255.5 L939.9 255.5 L940.8 255.9 L941.6 256.6 L942.4 258.1 L943.2 257.1 L944.0 256.5 L944.8 256.2 L945.6 256.0 L946.4 255.9 L947.2 255.9 L948.0 256.0 L948.8 256.3 L949.7 256.8 L950.6 257.6 L951.3 256.6 L952.0 256.0 L952.8 255.6 L953.6 255.3 L954.4 255.1 L955.2 255.0 L956.1 255.0 L956.9 255.2 L957.7 255.6 L958.5 256.0 L959.1 256.7 L959.6 257.5 L959.8 258.6 L960.7 258.6 L961.5 258.8 L962.3 259.1 L963.0 259.5 L963.6 260.0 L964.2 260.6 L964.6 261.3 L965.1 262.0 L966.0 262.0 L966.9 262.2 L967.6 262.5 L968.3 263.0 L968.8 263.5 L969.3 264.2 L969.5 264.9 L969.7 265.7 L969.6 266.6 L969.7 267.3 L970.3 267.9 L970.8 268.5 L971.2 269.2 L971.5 270.0 L971.8 270.7 L971.9 271.5 L971.9 272.3 L971.8 273.1 L971.6 273.9 L971.3 274.6 L970.8 275.3 L970.3 276.0 L969.8 276.7 L969.1 277.4 L969.0 278.4 L969.2 279.4 L969.7 280.3 L970.2 281.1 L970.7 281.8 L971.2 282.5 L971.7 283.1 L972.1 283.8 L972.5 284.4 L972.8 285.1 L973.1 285.9 L973.3 286.7 L973.4 287.5 L973.3 288.4 L974.3 288.8 L975.0 289.4 L975.5 290.0 L975.9 290.7 L976.2 291.5 L976.4 292.2 L976.4 293.0 L976.3 293.9 L976.1 294.7 L975.6 295.6 L976.2 296.3 L976.5 297.0 L976.8 297.8 L977.0 298.5 L977.1 299.3 L977.2 300.1 L977.3 300.9 L977.3 301.7 L977.3 302.6 L977.6 303.5 L978.0 304.3 L978.4 305.1 L979.0 305.9 L979.4 306.7 L980.3 306.8 L981.1 307.1 L981.9 307.4 L982.6 307.8 L983.3 308.2 L984.0 308.6 L984.5 309.1 L985.0 309.8 L985.4 310.5 L985.4 311.1 L984.9 311.7 L984.4 312.2 L983.8 312.4 L983.0 312.4 L982.2 312.3 L981.3 312.1 L980.6 312.6 L980.0 313.7 L979.3 314.4 L978.5 314.7 L977.7 314.8 L976.9 314.6 L976.1 314.0 L975.2 313.1 L974.4 313.1 L973.6 313.6 L972.8 313.9 L972.1 314.2 L971.3 314.4 L970.5 314.6 L969.7 314.7 L968.9 314.8 L968.1 314.8 L967.3 314.8 L966.5 314.8 L965.7 314.7 L964.9 314.5 L964.1 314.3 L963.3 314.0 L962.4 313.7 L961.6 313.4 L960.8 313.9 L960.1 314.3 L959.3 314.6 L958.5 314.8 L957.7 314.9 L956.9 315.0 L956.1 315.1 L955.3 315.1 L954.5 315.1 L953.7 315.0 L952.9 314.9 L952.1 314.7 L951.2 314.4 L950.5 314.1 L949.7 313.5 L948.9 314.0 L948.1 314.3 L947.3 314.6 L946.5 314.8 L945.7 314.8 L944.9 314.9 L944.1 314.8 L943.2 314.7 L942.4 314.5 L941.6 314.2 L940.8 313.7 L940.0 313.9 L939.2 314.4 L938.4 314.8 L937.6 314.9 L936.8 315.0 L936.0 314.9 L935.2 314.8 L934.4 314.5 L933.6 314.0 L932.8 313.9 L932.0 314.6 L931.2 315.1 L930.4 315.5 L929.6 315.8 L928.8 316.0 L928.0 316.2 L927.2 316.3 L926.4 316.4 L925.6 316.4 L924.8 316.4 L924.0 316.3 L923.2 316.1 L922.4 315.9 L921.6 315.6 L920.8 315.2 L920.0 314.8 L919.2 314.2 L918.4 313.5 L917.6 314.4 L916.8 314.9 L916.0 315.3 L915.2 315.5 L914.4 315.6 L913.6 315.6 L912.8 315.5 L912.0 315.3 L911.2 314.9 L910.4 314.3 L909.6 313.5 L908.8 314.2 L908.0 314.8 L907.2 315.2 L906.4 315.4 L905.6 315.4 L904.8 315.1 L904.0 314.7 L903.2 314.0 L902.4 313.3 L901.6 313.8 L900.8 314.1 L900.0 314.2 L899.2 314.3 L898.4 314.2 L897.6 314.0 L896.8 313.7 L896.0 313.1 L895.2 313.6 L894.4 314.1 L893.6 314.5 L892.8 314.8 L892.0 315.0 L891.2 315.1 L890.4 315.2 L889.6 315.2 L888.8 315.1 L888.0 314.9 L887.2 314.7 L886.4 314.3 L885.6 313.9 L884.8 313.3Z" fill="#00ffff" stroke="#0b7a7a" stroke-width="0.7"/>
<path d="M925.3 292.7 L925.7 292.3 L926.2 291.8 L926.8 291.1 L927.4 290.5 L928.2 289.9 L929.0 289.5 L930.0 289.3 L931.1 289.2 L932.4 289.2 L933.6 289.2 L934.6 289.3 L935.3 289.3" fill="none" stroke="#0d6f6f" stroke-width="0.7" stroke-linecap="round"/>
<path d="M953.5 296.0 L953.2 295.3 L952.8 294.4 L952.3 293.2 L951.8 292.0 L951.5 290.9 L951.5 290.0 L951.7 289.2 L952.2 288.5 L952.8 287.9 L953.5 287.3 L954.2 286.9 L955.0 286.5 L955.8 286.2 L956.8 286.1 L957.8 286.0 L958.8 286.0 L959.7 286.2 L960.5 286.5 L961.2 287.0 L961.9 287.6 L962.5 288.4 L963.0 289.3 L963.3 290.1 L963.5 291.0 L963.4 291.9 L963.0 293.0 L962.4 294.0 L961.9 295.0 L961.3 295.9 L961.0 296.5" fill="none" stroke="#0d6f6f" stroke-width="0.7" stroke-linecap="round"/>
<path d="M935.3 302.7 L935.7 302.3 L936.2 301.8 L936.8 301.1 L937.5 300.5 L938.2 299.9 L939.0 299.5 L939.9 299.2 L940.9 299.0 L942.0 298.8 L943.1 298.8 L944.1 298.8 L945.0 299.0 L945.8 299.4 L946.6 300.0 L947.4 300.7 L948.0 301.4 L948.6 302.1 L949.0 302.5" fill="none" stroke="#0d6f6f" stroke-width="0.7" stroke-linecap="round"/>
<path d="M913.0 290.0 L913.6 289.6 L914.3 288.9 L915.2 288.2 L916.2 287.5 L917.2 286.9 L918.0 286.5 L918.8 286.4 L919.6 286.4 L920.3 286.5 L921.0 286.7 L921.6 286.9 L922.0 287.0" fill="none" stroke="#0d6f6f" stroke-width="0.7" stroke-linecap="round"/>
<path d="M905.0 303.0 L905.5 302.6 L906.2 301.9 L907.0 301.2 L907.8 300.5 L908.7 299.9 L909.5 299.5 L910.3 299.4 L911.2 299.5 L912.0 299.8 L912.8 300.1 L913.5 300.3 L914.0 300.5" fill="none" stroke="#0d6f6f" stroke-width="0.7" stroke-linecap="round"/>
<path d="M940.0 282.0 L940.5 281.7 L941.3 281.2 L942.2 280.7 L943.1 280.1 L944.1 279.7 L945.0 279.5 L945.9 279.5 L946.9 279.8 L947.8 280.1 L948.7 280.5 L949.5 280.8 L950.0 281.0" fill="none" stroke="#0d6f6f" stroke-width="0.7" stroke-linecap="round"/>
<path d="M966.0 300.0 L966.4 299.6 L967.0 299.1 L967.8 298.4 L968.5 297.8 L969.3 297.3 L970.0 297.0 L970.7 297.0 L971.5 297.2 L972.2 297.6 L973.0 297.9 L973.6 298.3 L974.0 298.5" fill="none" stroke="#0d6f6f" stroke-width="0.7" stroke-linecap="round"/>
<path d="M921.0 306.0 L921.4 305.6 L922.0 305.1 L922.7 304.4 L923.5 303.8 L924.3 303.3 L925.0 303.0 L925.8 303.0 L926.6 303.2 L927.5 303.6 L928.3 303.9 L929.0 304.3 L929.5 304.5" fill="none" stroke="#0d6f6f" stroke-width="0.7" stroke-linecap="round"/>
<path d="M964.0 280.0 L964.5 280.3 L965.1 280.7 L965.9 281.2 L966.7 281.7 L967.4 282.3 L968.0 283.0 L968.4 283.8 L968.7 284.7 L969.0 285.7 L969.2 286.6 L969.4 287.4 L969.5 288.0" fill="none" stroke="#0d6f6f" stroke-width="0.7" stroke-linecap="round"/>
<path d="M851.7 236.8 L851.7 236.5 L851.7 236.0 L851.6 235.4 L851.6 234.8 L851.6 234.2 L851.6 233.5 L851.7 233.0 L851.8 232.5 L851.9 232.1 L852.0 231.8 L852.1 231.5 L852.3 231.2 L852.5 230.9 L852.9 230.6 L853.4 230.3 L854.0 230.0 L854.9 229.6 L856.0 229.2 L857.2 228.8 L858.6 228.4 L860.0 228.0 L861.3 227.6 L862.6 227.2 L863.7 226.8 L864.7 226.5 L865.5 226.2 L866.4 225.9 L867.1 225.6 L867.9 225.4 L868.6 225.1 L869.3 224.8 L870.0 224.5 L870.7 224.1 L871.4 223.7 L872.1 223.3 L872.8 222.8 L873.4 222.4 L874.1 222.1 L874.7 221.9 L875.3 221.8 L875.9 221.9 L876.4 222.2 L877.0 222.6 L877.5 223.0 L878.0 223.5 L878.5 224.0 L879.0 224.5 L879.5 225.0 L880.0 225.4 L880.5 225.9 L881.1 226.3 L881.6 226.8 L882.1 227.3 L882.6 227.7 L883.2 228.1 L883.7 228.5 L884.2 228.9 L884.8 229.2 L885.3 229.5 L885.9 229.8 L886.4 230.1 L886.9 230.3 L887.5 230.6 L888.0 230.8 L888.5 231.0 L889.0 231.2 L889.4 231.4 L889.9 231.5 L890.4 231.6 L890.9 231.7 L891.4 231.8 L892.0 231.8 L892.7 231.8 L893.4 231.7 L894.1 231.6 L894.9 231.4 L895.7 231.3 L896.5 231.1 L897.3 231.0 L898.0 230.8 L898.7 230.6 L899.5 230.4 L900.2 230.2 L901.0 230.0 L901.7 229.8 L902.4 229.6 L903.1 229.5 L903.7 229.5 L904.3 229.5 L904.8 229.6 L905.3 229.8 L905.7 230.0 L906.2 230.2 L906.6 230.5 L907.1 230.7 L907.5 231.0 L907.9 231.3 L908.4 231.6 L908.8 231.9 L909.2 232.2 L909.6 232.6 L910.0 233.0 L910.5 233.5 L911.0 234.0 L911.6 234.6 L912.2 235.4 L912.9 236.2 L913.5 237.1 L914.2 237.9 L914.9 238.7 L915.5 239.4 L916.0 240.0 L916.5 240.4 L916.9 240.7 L917.2 240.9 L917.6 241.1 L917.9 241.2 L918.2 241.3 L918.6 241.4 L919.0 241.5 L919.4 241.6 L919.9 241.7 L920.3 241.8 L920.8 241.8 L921.3 241.9 L921.8 241.9 L922.3 241.9 L922.9 241.9 L923.5 241.9 L924.1 241.8 L924.7 241.7 L925.4 241.6 L926.0 241.5 L926.7 241.4 L927.4 241.3 L928.0 241.2 L928.6 241.1 L929.3 240.9 L929.9 240.8 L930.5 240.6 L931.1 240.5 L931.7 240.4 L932.3 240.4 L932.9 240.5 L933.4 240.7 L934.0 241.0 L934.5 241.4 L935.0 241.8 L935.5 242.3 L936.0 242.8 L936.5 243.3 L936.9 243.9 L937.3 244.5 L937.7 245.3 L938.1 246.0 L938.5 246.8 L938.8 247.6 L939.2 248.4 L939.5 249.2 L939.9 249.9 L940.3 250.6 L940.7 251.2 L941.2 251.9 L941.6 252.5 L942.0 253.1 L942.4 253.6 L942.7 254.1 L942.9 254.4" fill="none" stroke="#b07a18" stroke-width="3.0" stroke-linecap="round" stroke-linejoin="round"/>
<path d="M851.7 236.8 L851.7 236.5 L851.7 236.0 L851.6 235.4 L851.6 234.8 L851.6 234.2 L851.6 233.5 L851.7 233.0 L851.8 232.5 L851.9 232.1 L852.0 231.8 L852.1 231.5 L852.3 231.2 L852.5 230.9 L852.9 230.6 L853.4 230.3 L854.0 230.0 L854.9 229.6 L856.0 229.2 L857.2 228.8 L858.6 228.4 L860.0 228.0 L861.3 227.6 L862.6 227.2 L863.7 226.8 L864.7 226.5 L865.5 226.2 L866.4 225.9 L867.1 225.6 L867.9 225.4 L868.6 225.1 L869.3 224.8 L870.0 224.5 L870.7 224.1 L871.4 223.7 L872.1 223.3 L872.8 222.8 L873.4 222.4 L874.1 222.1 L874.7 221.9 L875.3 221.8 L875.9 221.9 L876.4 222.2 L877.0 222.6 L877.5 223.0 L878.0 223.5 L878.5 224.0 L879.0 224.5 L879.5 225.0 L880.0 225.4 L880.5 225.9 L881.1 226.3 L881.6 226.8 L882.1 227.3 L882.6 227.7 L883.2 228.1 L883.7 228.5 L884.2 228.9 L884.8 229.2 L885.3 229.5 L885.9 229.8 L886.4 230.1 L886.9 230.3 L887.5 230.6 L888.0 230.8 L888.5 231.0 L889.0 231.2 L889.4 231.4 L889.9 231.5 L890.4 231.6 L890.9 231.7 L891.4 231.8 L892.0 231.8 L892.7 231.8 L893.4 231.7 L894.1 231.6 L894.9 231.4 L895.7 231.3 L896.5 231.1 L897.3 231.0 L898.0 230.8 L898.7 230.6 L899.5 230.4 L900.2 230.2 L901.0 230.0 L901.7 229.8 L902.4 229.6 L903.1 229.5 L903.7 229.5 L904.3 229.5 L904.8 229.6 L905.3 229.8 L905.7 230.0 L906.2 230.2 L906.6 230.5 L907.1 230.7 L907.5 231.0 L907.9 231.3 L908.4 231.6 L908.8 231.9 L909.2 232.2 L909.6 232.6 L910.0 233.0 L910.5 233.5 L911.0 234.0 L911.6 234.6 L912.2 235.4 L912.9 236.2 L913.5 237.1 L914.2 237.9 L914.9 238.7 L915.5 239.4 L916.0 240.0 L916.5 240.4 L916.9 240.7 L917.2 240.9 L917.6 241.1 L917.9 241.2 L918.2 241.3 L918.6 241.4 L919.0 241.5 L919.4 241.6 L919.9 241.7 L920.3 241.8 L920.8 241.8 L921.3 241.9 L921.8 241.9 L922.3 241.9 L922.9 241.9 L923.5 241.9 L924.1 241.8 L924.7 241.7 L925.4 241.6 L926.0 241.5 L926.7 241.4 L927.4 241.3 L928.0 241.2 L928.6 241.1 L929.3 240.9 L929.9 240.8 L930.5 240.6 L931.1 240.5 L931.7 240.4 L932.3 240.4 L932.9 240.5 L933.4 240.7 L934.0 241.0 L934.5 241.4 L935.0 241.8 L935.5 242.3 L936.0 242.8 L936.5 243.3 L936.9 243.9 L937.3 244.5 L937.7 245.3 L938.1 246.0 L938.5 246.8 L938.8 247.6 L939.2 248.4 L939.5 249.2 L939.9 249.9 L940.3 250.6 L940.7 251.2 L941.2 251.9 L941.6 252.5 L942.0 253.1 L942.4 253.6 L942.7 254.1 L942.9 254.4" fill="none" stroke="#fcab08" stroke-width="2.1" stroke-linecap="round" stroke-linejoin="round"/>
<path d="M955.8 233.5 L956.5 233.2 L957.2 233.3 L958.0 233.4 L958.7 233.7 L959.4 234.1 L960.0 234.5 L960.6 235.0 L961.1 235.6 L961.5 236.3 L961.6 237.0 L961.5 237.7 L961.8 238.4 L962.1 239.2 L962.2 240.0 L962.3 240.8 L962.3 241.6 L962.4 242.4 L962.5 243.3 L962.5 244.2 L963.3 244.7 L964.0 245.2 L964.6 245.8 L965.1 246.4 L965.6 247.0 L966.0 247.7 L966.4 248.4 L966.6 249.2 L966.7 250.1 L967.2 250.7 L967.9 251.2 L968.5 251.9 L968.9 252.6 L969.2 253.4 L969.5 254.1 L969.7 254.9 L969.7 255.8 L969.7 256.6 L969.5 257.4 L969.2 258.3 L969.2 259.0 L969.5 259.7 L969.1 260.4 L968.7 261.0 L968.7 261.9 L968.8 262.7 L968.8 263.7 L969.6 264.2 L970.3 264.7 L970.9 265.2 L971.4 265.8 L971.9 266.5 L972.3 267.1 L972.7 267.8 L972.9 268.6 L973.2 269.3 L973.8 269.8 L974.2 270.5 L974.5 271.3 L974.7 272.1 L974.7 272.9 L974.5 273.7 L974.2 274.4 L973.7 275.0 L973.0 275.4 L972.8 276.1 L972.4 276.8 L971.9 277.3 L971.3 277.8 L970.6 278.2 L969.9 278.5 L969.2 278.5 L968.5 278.3 L967.9 277.9 L967.2 277.4 L966.6 276.9 L965.7 276.8 L964.8 276.9 L964.0 276.9 L963.2 276.7 L962.4 276.4 L961.5 276.5 L960.8 277.4 L960.1 277.8 L959.3 277.8 L958.5 277.6 L957.5 276.7 L956.8 277.2 L956.0 277.5 L955.2 277.7 L954.4 277.8 L953.6 277.8 L952.8 277.7 L952.0 277.4 L951.2 277.7 L950.4 278.0 L949.7 278.3 L948.9 278.5 L948.1 278.7 L947.3 279.0 L946.6 279.2 L945.8 279.4 L945.0 279.6 L944.2 279.7 L943.3 279.7 L942.8 280.5 L942.2 281.1 L941.5 281.7 L940.8 282.0 L940.0 282.3 L939.2 282.5 L938.3 282.6 L937.5 282.5 L936.7 282.4 L935.9 282.1 L935.1 281.6 L934.3 281.9 L933.5 282.2 L932.7 282.2 L931.9 282.2 L931.1 281.9 L930.3 281.4 L929.5 281.6 L928.7 281.7 L927.9 281.7 L927.1 281.7 L926.3 281.7 L925.5 281.6 L924.8 281.4 L924.0 281.2 L923.3 280.9 L922.6 280.5 L921.9 280.0 L921.2 279.7 L920.4 279.6 L919.6 279.4 L918.9 279.1 L918.2 278.6 L917.7 278.1 L917.2 277.5 L916.9 276.8 L916.8 276.0 L916.4 275.4 L915.9 274.7 L915.7 273.9 L915.6 273.1 L915.7 272.3 L915.8 271.5 L916.1 270.7 L916.4 269.9 L916.9 269.3 L917.4 268.6 L918.1 268.1 L918.9 267.9 L919.3 267.3 L919.8 266.6 L920.4 266.1 L921.2 265.6 L921.9 265.3 L922.7 265.1 L923.4 264.9 L924.2 264.7 L925.0 264.6 L925.9 264.6 L926.7 264.8 L927.6 265.1 L928.2 264.2 L929.0 263.7 L929.7 263.5 L930.5 263.4 L931.4 263.6 L932.5 263.4 L932.9 262.5 L933.2 261.7 L933.4 260.8 L933.6 260.0 L933.7 259.3 L933.9 258.5 L934.2 257.7 L934.5 257.1 L935.0 256.5 L935.6 256.2 L936.2 256.0 L936.8 255.7 L937.5 255.3 L938.3 255.0 L939.1 254.8 L939.9 254.8 L940.7 254.7 L941.5 254.7 L942.3 254.8 L943.2 254.9 L943.9 254.3 L944.6 253.9 L945.4 253.6 L946.2 253.2 L946.9 252.7 L947.6 252.1 L947.4 251.0 L947.3 250.2 L947.2 249.4 L947.2 248.6 L947.3 247.8 L947.5 247.0 L947.8 246.2 L948.4 245.4 L948.0 244.6 L947.8 243.8 L947.8 243.0 L948.1 242.2 L948.6 241.5 L948.8 240.7 L948.5 239.9 L948.4 239.0 L948.4 238.2 L948.6 237.4 L948.9 236.6 L949.4 235.9 L950.1 235.3 L950.8 234.9 L951.7 234.6 L952.5 234.5 L952.8 233.5 L953.4 232.9 L954.1 232.6 L955.0 232.6Z" fill="#f418ea" fill-opacity="0.72" stroke="#f718f2" stroke-width="1"/>
<path d="M954.7 238.5 L955.6 238.6 L956.6 239.0 L957.6 239.4 L958.5 240.0 L959.3 240.7 L959.9 241.4 L960.2 242.2 L960.3 243.1 L960.4 244.0 L960.3 245.1 L960.4 246.1 L960.7 247.1 L961.3 248.2 L962.0 249.2 L962.8 250.3 L963.7 251.4 L964.4 252.5 L965.0 253.6 L965.5 254.8 L965.9 256.0 L966.2 257.1 L966.5 258.3 L966.6 259.3 L966.7 260.2 L966.7 260.8 L966.5 261.2 L966.2 261.5 L965.9 261.7 L965.8 262.1 L965.9 262.6 L966.4 263.4 L967.1 264.3 L968.0 265.4 L968.9 266.4 L969.6 267.4 L970.2 268.4 L970.5 269.3 L970.8 270.1 L970.9 271.0 L970.9 271.8 L970.8 272.6 L970.6 273.3 L970.2 274.0 L969.7 274.7 L969.0 275.3 L968.3 275.9 L967.5 276.3 L966.7 276.5 L966.0 276.5 L965.2 276.2 L964.4 275.8 L963.5 275.4 L962.6 275.0 L961.6 274.9 L960.5 274.9 L959.4 274.9 L958.3 275.1 L957.1 275.3 L955.9 275.5 L954.7 275.7 L953.6 275.8 L952.4 275.9 L951.3 276.0 L950.2 276.1 L949.1 276.3 L947.9 276.5 L946.8 276.8 L945.7 277.3 L944.5 277.8 L943.4 278.2 L942.2 278.6 L941.0 279.0 L939.8 279.2 L938.5 279.3 L937.2 279.4 L935.9 279.4 L934.6 279.4 L933.3 279.4 L932.0 279.3 L930.6 279.2 L929.3 279.0 L927.9 278.8 L926.7 278.5 L925.6 278.1 L924.5 277.7 L923.4 277.1 L922.4 276.4 L921.5 275.7 L920.9 274.9 L920.4 274.1 L920.3 273.1 L920.3 271.9 L920.6 270.7 L921.0 269.5 L921.5 268.4 L922.1 267.6 L922.9 266.9 L923.8 266.4 L924.9 266.0 L926.0 265.7 L927.1 265.4 L928.1 265.1 L929.2 264.8 L930.3 264.6 L931.4 264.5 L932.4 264.3 L933.3 264.0 L934.2 263.5 L934.7 262.7 L935.1 261.7 L935.4 260.6 L935.7 259.4 L936.1 258.5 L936.7 257.7 L937.6 257.3 L938.5 257.0 L939.6 256.9 L940.7 256.8 L941.8 256.7 L942.8 256.5 L943.6 256.3 L944.4 256.1 L945.2 255.8 L945.9 255.5 L946.6 255.1 L947.1 254.4 L947.4 253.5 L947.6 252.3 L947.6 251.0 L947.7 249.6 L947.8 248.3 L947.9 247.1 L948.1 246.0 L948.3 244.9 L948.5 243.9 L948.8 243.0 L949.1 242.2 L949.6 241.4 L950.3 240.7 L951.1 240.0 L952.0 239.4 L952.9 239.0 L953.8 238.6Z" fill="none" stroke="#ff30ff" stroke-opacity="0.45" stroke-width="2.2"/>
<path d="M945.9 257.400 Q956 253.500 963 258 Q967.500 261 969.500 264.500" fill="none" stroke="#ff5560" stroke-width="1.700" opacity="0.9"/>
<g transform="translate(346,2.200)">
<path d="M610.5 236.6 L611 239.7 L608.3 242 M611 239.7 L613.7 243.8 L614.6 247.8 L619.5 250.9 L620.4 254 L617.7 257.1 L612.8 257.6 L611.9 251.8 L614.6 247.8 M611.9 251.8 L608.8 250 M612.8 257.6 L611.4 259.8 L608.8 262.5 M617.7 257.1 L617.7 262.5 M599.8 263.4 L603.4 260.7 L608.8 262.5 L610.5 266.1 L605.2 268.750 L600.7 267 L599.8 263.4 M605.2 268.750 L604.7 270.1 M610.5 266.1 L613.2 267 L617.7 265.2 L621.250 268.750 M599.8 263.4 L594.5 258 M600.7 267 L596.250 268.750 L593.6 266.1 M596.250 268.750 L590 270.5 L591.3 273.2 M590 270.5 L585.5 271.4 L579.3 268.750 L576.6 271.4 M585.5 271.4 L582 273.7" fill="none" stroke="#ff28ee" stroke-width="1.400" stroke-linecap="round" stroke-linejoin="round"/>
<circle cx="610.5" cy="236.3" r="1.1" fill="#f0208a"/>
<circle cx="608.8" cy="250" r="1.1" fill="#f0208a"/>
<circle cx="611.4" cy="259.8" r="1.1" fill="#f0208a"/>
<circle cx="617.7" cy="262.7" r="1.1" fill="#f0208a"/>
<circle cx="603.4" cy="260.6" r="1.1" fill="#f0208a"/>
<circle cx="604.7" cy="270.4" r="1.1" fill="#f0208a"/>
<circle cx="594.5" cy="258" r="1.1" fill="#f0208a"/>
<circle cx="593.6" cy="266" r="1.1" fill="#f0208a"/>
<circle cx="591.3" cy="273.5" r="1.1" fill="#f0208a"/>
<circle cx="576.6" cy="271.5" r="1.1" fill="#f0208a"/>
<circle cx="582" cy="273.9" r="1.1" fill="#f0208a"/>
<circle cx="613.7" cy="243.800" r="1.2" fill="#9a3af0"/>
</g>
</g>
<rect x="825.7" y="195.500" width="168.8" height="113.200" fill="none" stroke="#000" stroke-width="1.65" stroke-dasharray="6.5 3.750"/>
<path d="M825.7 308.700 L875.300 369.700 M994.500 308.700 L946.900 369.700" fill="none" stroke="#000" stroke-width="1.6" stroke-dasharray="7 4.500"/>
<rect x="875.3" y="369.700" width="71.6" height="50.900" fill="none" stroke="#000" stroke-width="1.7" stroke-dasharray="7.3 3.900"/>
<text transform="translate(68.0,226.2) scale(1,1.04)" font-size="15.1" font-weight="normal" textLength="63.2" lengthAdjust="spacingAndGlyphs">SCOOPs</text>
<path d="M75.4 251.4 L75.4 251.1 L75.3 250.7 L75.2 250.3 L75.1 249.8 L75.1 249.3 L75.1 248.8 L75.2 248.3 L75.5 248.0 L75.9 247.7 L76.4 247.6 L77.1 247.4 L77.8 247.3 L78.5 247.2 L79.3 247.1 L80.0 246.9 L80.7 246.7 L81.4 246.4 L82.1 246.0 L82.9 245.5 L83.6 245.1 L84.3 244.7 L85.0 244.3 L85.7 244.1 L86.3 244.1 L86.8 244.3 L87.3 244.7 L87.8 245.2 L88.2 245.8 L88.6 246.4 L89.0 247.1 L89.4 247.6 L89.8 248.0 L90.2 248.3 L90.6 248.6 L91.0 248.8 L91.4 249.0 L91.8 249.1 L92.2 249.2 L92.7 249.2 L93.2 249.2 L93.8 249.1 L94.5 248.9 L95.3 248.6 L96.1 248.3 L96.8 247.9 L97.6 247.7 L98.3 247.5 L98.9 247.5 L99.4 247.6 L99.9 247.8 L100.3 248.1 L100.7 248.4 L101.1 248.8 L101.5 249.3 L101.9 249.7 L102.3 250.1 L102.7 250.6 L103.1 251.1 L103.5 251.7 L103.9 252.3 L104.3 252.9 L104.7 253.4 L105.2 253.8 L105.8 254.0 L106.4 254.1 L107.2 253.9 L108.0 253.7 L108.8 253.4 L109.6 253.1 L110.4 252.8 L111.2 252.7 L111.8 252.7 L112.4 252.9 L112.9 253.2 L113.3 253.6 L113.8 254.1 L114.2 254.6 L114.5 255.2 L114.9 255.7 L115.3 256.2 L115.6 256.7 L115.9 257.3 L116.2 258.0 L116.4 258.6 L116.7 259.2 L117.0 259.7 L117.4 260.2 L117.9 260.5 L118.5 260.6 L119.2 260.6 L120.0 260.5 L120.8 260.4 L121.7 260.2 L122.5 260.0 L123.2 259.9 L123.9 260.0 L124.5 260.2 L125.0 260.4 L125.5 260.8 L125.9 261.1 L126.3 261.5 L126.7 261.9 L127.0 262.3 L127.4 262.6 L127.7 262.9 L128.1 263.2 L128.4 263.6 L128.7 263.9 L128.9 264.2 L129.2 264.4 L129.3 264.6 L129.5 264.8" fill="none" stroke="#b88a10" stroke-width="2.7" stroke-linecap="round" stroke-linejoin="round"/>
<path d="M75.4 251.4 L75.4 251.1 L75.3 250.7 L75.2 250.3 L75.1 249.8 L75.1 249.3 L75.1 248.8 L75.2 248.3 L75.5 248.0 L75.9 247.7 L76.4 247.6 L77.1 247.4 L77.8 247.3 L78.5 247.2 L79.3 247.1 L80.0 246.9 L80.7 246.7 L81.4 246.4 L82.1 246.0 L82.9 245.5 L83.6 245.1 L84.3 244.7 L85.0 244.3 L85.7 244.1 L86.3 244.1 L86.8 244.3 L87.3 244.7 L87.8 245.2 L88.2 245.8 L88.6 246.4 L89.0 247.1 L89.4 247.6 L89.8 248.0 L90.2 248.3 L90.6 248.6 L91.0 248.8 L91.4 249.0 L91.8 249.1 L92.2 249.2 L92.7 249.2 L93.2 249.2 L93.8 249.1 L94.5 248.9 L95.3 248.6 L96.1 248.3 L96.8 247.9 L97.6 247.7 L98.3 247.5 L98.9 247.5 L99.4 247.6 L99.9 247.8 L100.3 248.1 L100.7 248.4 L101.1 248.8 L101.5 249.3 L101.9 249.7 L102.3 250.1 L102.7 250.6 L103.1 251.1 L103.5 251.7 L103.9 252.3 L104.3 252.9 L104.7 253.4 L105.2 253.8 L105.8 254.0 L106.4 254.1 L107.2 253.9 L108.0 253.7 L108.8 253.4 L109.6 253.1 L110.4 252.8 L111.2 252.7 L111.8 252.7 L112.4 252.9 L112.9 253.2 L113.3 253.6 L113.8 254.1 L114.2 254.6 L114.5 255.2 L114.9 255.7 L115.3 256.2 L115.6 256.7 L115.9 257.3 L116.2 258.0 L116.4 258.6 L116.7 259.2 L117.0 259.7 L117.4 260.2 L117.9 260.5 L118.5 260.6 L119.2 260.6 L120.0 260.5 L120.8 260.4 L121.7 260.2 L122.5 260.0 L123.2 259.9 L123.9 260.0 L124.5 260.2 L125.0 260.4 L125.5 260.8 L125.9 261.1 L126.3 261.5 L126.7 261.9 L127.0 262.3 L127.4 262.6 L127.7 262.9 L128.1 263.2 L128.4 263.6 L128.7 263.9 L128.9 264.2 L129.2 264.4 L129.3 264.6 L129.5 264.8" fill="none" stroke="#f7bd14" stroke-width="1.9" stroke-linecap="round" stroke-linejoin="round"/>
<line x1="114.9" y1="282.6" x2="128.3" y2="322.7" stroke="#000" stroke-width="1.6"/>
<path d="M130.4 329.2 L124.5 322.9 L128.7 324.0 L131.4 320.7Z" fill="#000"/>
<text transform="translate(129.6,299.7) scale(1,1.04)" font-size="15.1" font-weight="normal" >Recruit</text>
<text transform="translate(194.3,362.0) scale(1,1.04)" font-size="15.1" font-weight="normal" >MIK2</text>
<path d="M286.8 415.90 H315.2 V412.90 L329.4 417.80 L315.2 422.70 V419.70 H286.8Z" fill="#000"/>
<text transform="translate(424.3,381.0) scale(1,1.04)" font-size="15.1" font-weight="normal" >BAK1</text>
<text transform="translate(482.9,456.7) scale(1,1.04)" font-size="15.1" font-weight="normal" >Recruit</text>
<line x1="484.0" y1="465.8" x2="524.7" y2="465.8" stroke="#000" stroke-width="1.5"/>
<path d="M531.5 465.8 L523.7 469.2 L526.0 465.8 L523.7 462.4Z" fill="#000"/>
<path d="M712.8 415.90 H741.4 V412.90 L755.6 417.80 L741.4 422.70 V419.70 H712.8Z" fill="#000"/>
<text transform="translate(1025.5,506.7) scale(1,1.04)" font-size="15.1" font-weight="bold" >plant membrane</text>
<line x1="926.2" y1="594.2" x2="926.2" y2="629.0" stroke="#000" stroke-width="1.9"/>
<path d="M926.2 634.2 L922.5 628.0 L926.2 629.9 L929.9 628.0Z" fill="#000"/>
<text transform="translate(855.6,648.7) scale(1,1.04)" font-size="15.1" font-weight="normal" textLength="152" lengthAdjust="spacingAndGlyphs">Cross-phosphorylation</text>
<text transform="translate(855.6,666.7) scale(1,1.04)" font-size="15.1" font-weight="normal" textLength="129.2" lengthAdjust="spacingAndGlyphs">Signal transduction</text>
</svg>
</body></html>
